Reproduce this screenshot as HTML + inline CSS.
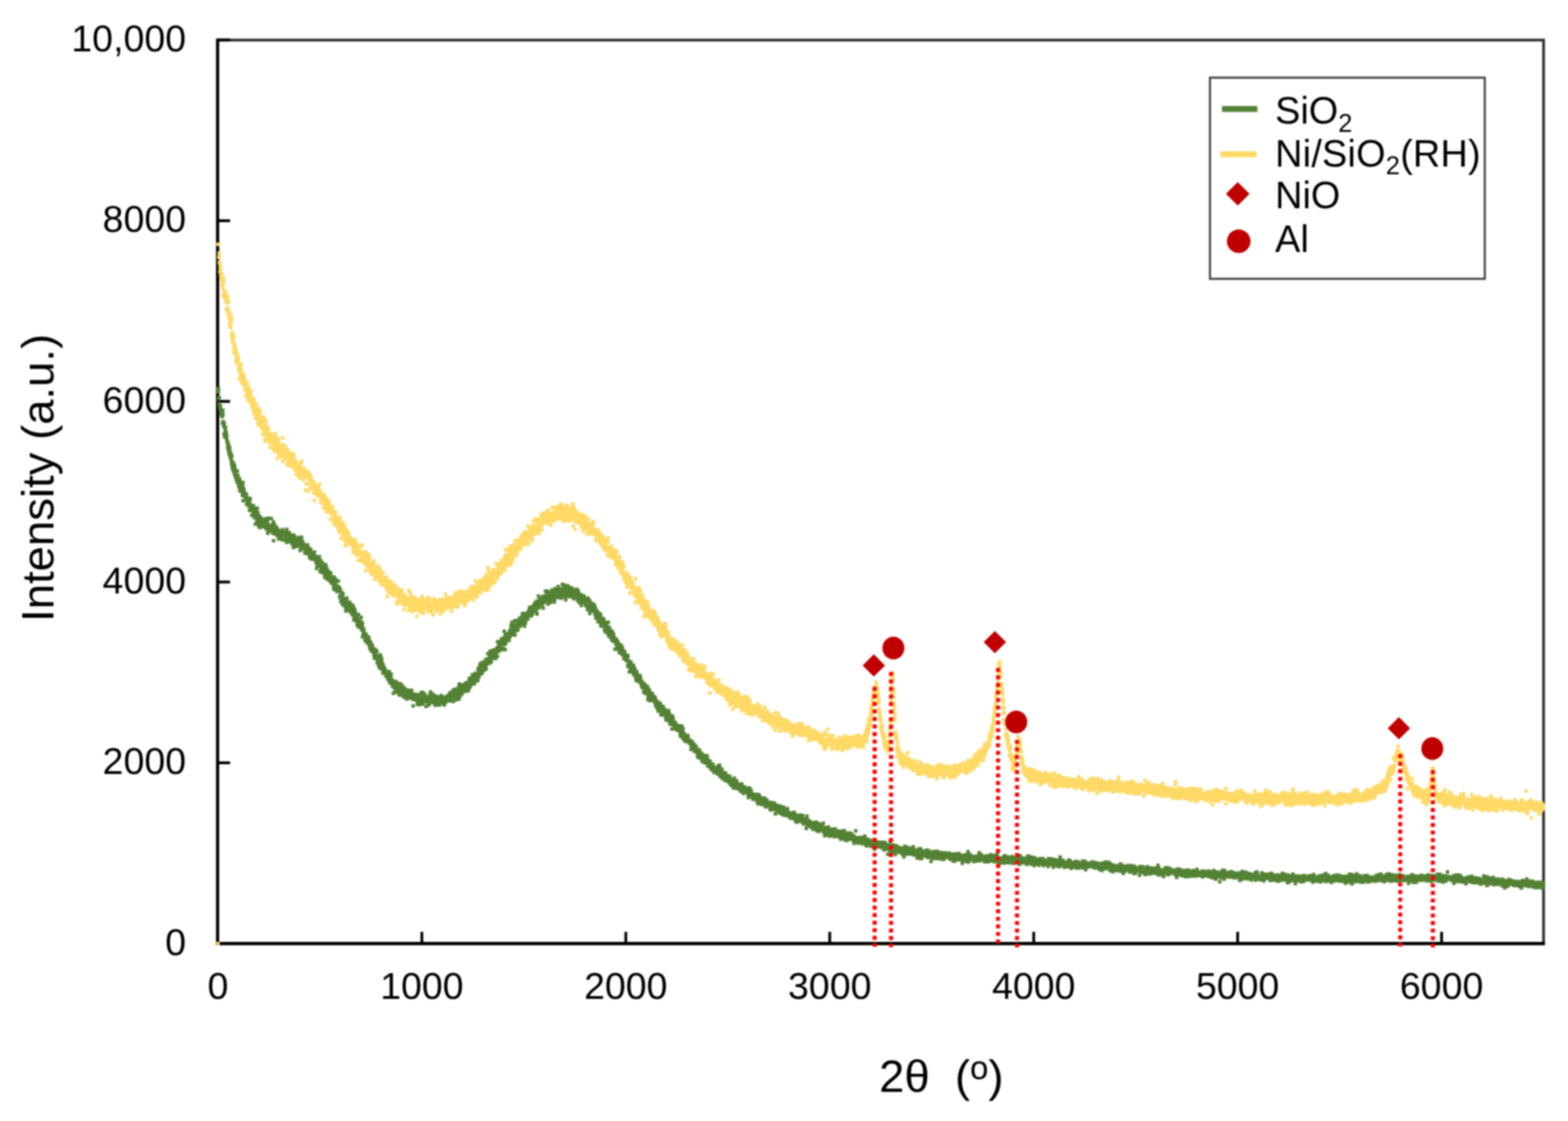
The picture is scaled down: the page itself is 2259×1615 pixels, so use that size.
<!DOCTYPE html>
<html lang="en"><head><meta charset="utf-8"><title>XRD patterns</title>
<style>
html,body{margin:0;padding:0;background:#fff;}
body{width:2259px;height:1615px;overflow:hidden;}
svg{display:block;filter:blur(0.8px);}
text{font-family:"Liberation Sans",Arial,Helvetica,sans-serif;fill:#000;}
.tk{font-size:54px;}
.lg{font-size:54.6px;}
.ax{font-size:65.5px;}
</style></head>
<body>
<svg width="2259" height="1615" viewBox="0 0 2259 1615">
<rect width="2259" height="1615" fill="#fff"/>
<g fill="none" stroke-linecap="butt">
<path d="M314.0 57.7H2223.8V1359.4" stroke="#303030" stroke-width="4"/>
<path d="M313.5 55.5V1361.7" stroke="#000" stroke-width="4.6"/>
<path d="M311.2 1359.4H2225.8" stroke="#000" stroke-width="4.6"/>
<path d="M314.0 1099.0h17.5M314.0 838.6h17.5M314.0 578.3h17.5M314.0 317.9h17.5M314.0 57.5h17.5M607.8 1359.4v-17M901.6 1359.4v-17M1195.4 1359.4v-17M1489.3 1359.4v-17M1783.1 1359.4v-17M2076.9 1359.4v-17" stroke="#000" stroke-width="4"/>
</g>
<g class="tk" text-anchor="end">
<text x="268" y="1375.8">0</text>
<text x="268" y="1115.4">2000</text>
<text x="268" y="855.0">4000</text>
<text x="268" y="594.7">6000</text>
<text x="268" y="334.3">8000</text>
<text x="268" y="73.9">10,000</text>
</g>
<g class="tk" text-anchor="middle">
<text x="314.0" y="1438.7">0</text>
<text x="607.8" y="1438.7">1000</text>
<text x="901.6" y="1438.7">2000</text>
<text x="1195.4" y="1438.7">3000</text>
<text x="1489.3" y="1438.7">4000</text>
<text x="1783.1" y="1438.7">5000</text>
<text x="2076.9" y="1438.7">6000</text>
</g>
<text class="ax" x="1266.5" y="1573" xml:space="preserve">2θ  (<tspan font-size="47.5" dy="-18.5">o</tspan><tspan dy="18.5">)</tspan></text>
<text class="ax" text-anchor="middle" transform="translate(76.8 688.5) rotate(-90)">Intensity (a.u.)</text>
<g fill="none" stroke-linecap="square" stroke-width="5">
<path stroke="#548235" d="M314.0 560.0h0M314.3 564.6h0M314.6 564.5h0M314.9 560.0h0M315.2 573.7h0M315.5 574.5h0M315.8 572.5h0M316.1 581.6h0M316.4 583.2h0M316.6 585.1h0M316.9 585.6h0M317.2 590.2h0M317.5 585.0h0M317.8 589.7h0M318.1 589.5h0M318.4 596.7h0M318.7 595.1h0M319.0 594.7h0M319.3 593.4h0M319.6 597.5h0M319.9 600.2h0M320.2 600.0h0M320.5 609.6h0M320.8 609.5h0M321.1 591.2h0M321.3 597.0h0M321.6 607.5h0M321.9 607.7h0M322.2 612.5h0M322.5 614.0h0M322.8 625.5h0M323.1 609.9h0M323.4 615.3h0M323.7 629.5h0M324.0 623.6h0M324.3 625.1h0M324.6 620.4h0M324.9 615.9h0M325.2 626.9h0M325.5 628.0h0M325.8 622.4h0M326.0 626.7h0M326.3 631.3h0M326.6 628.1h0M326.9 634.0h0M327.2 636.3h0M327.5 637.4h0M327.8 635.9h0M328.1 643.0h0M328.4 645.9h0M328.7 644.2h0M329.0 639.6h0M329.3 648.9h0M329.6 643.8h0M329.9 652.3h0M330.2 643.5h0M330.5 655.1h0M330.8 651.5h0M331.0 646.5h0M331.3 652.6h0M331.6 655.8h0M331.9 658.2h0M332.2 653.0h0M332.5 653.6h0M332.8 661.6h0M333.1 659.4h0M333.4 664.2h0M333.7 668.1h0M334.0 657.0h0M334.3 669.0h0M334.6 674.0h0M334.9 667.4h0M335.2 665.9h0M335.5 675.0h0M335.7 673.5h0M336.0 677.8h0M336.3 672.5h0M336.6 667.7h0M336.9 675.7h0M337.2 674.9h0M337.5 682.1h0M337.8 680.0h0M338.1 671.6h0M338.4 674.7h0M338.7 686.1h0M339.0 685.9h0M339.3 680.0h0M339.6 684.0h0M339.9 687.0h0M340.2 687.9h0M340.4 690.8h0M340.7 688.4h0M341.0 687.3h0M341.3 687.2h0M341.6 694.6h0M341.9 678.6h0M342.2 689.9h0M342.5 691.5h0M342.8 684.8h0M343.1 694.4h0M343.4 690.1h0M343.7 698.4h0M344.0 694.0h0M344.3 698.7h0M344.6 702.1h0M344.9 698.5h0M345.1 692.8h0M345.4 690.3h0M345.7 707.3h0M346.0 698.6h0M346.3 696.3h0M346.6 701.1h0M346.9 700.1h0M347.2 706.0h0M347.5 702.5h0M347.8 703.0h0M348.1 700.0h0M348.4 706.6h0M348.7 699.7h0M349.0 708.8h0M349.3 713.8h0M349.6 699.1h0M349.9 695.1h0M350.1 711.1h0M350.4 721.4h0M350.7 704.3h0M351.0 703.7h0M351.3 713.5h0M351.6 707.0h0M351.9 709.3h0M352.2 710.7h0M352.5 715.8h0M352.8 711.7h0M353.1 715.7h0M353.4 714.1h0M353.7 711.4h0M354.0 714.6h0M354.3 712.1h0M354.6 717.4h0M354.8 712.4h0M355.1 713.2h0M355.4 726.5h0M355.7 719.6h0M356.0 720.1h0M356.3 723.5h0M356.6 719.5h0M356.9 721.0h0M357.2 724.8h0M357.5 724.7h0M357.8 718.1h0M358.1 728.6h0M358.4 722.1h0M358.7 720.3h0M359.0 721.7h0M359.3 724.7h0M359.5 735.2h0M359.8 721.9h0M360.1 729.1h0M360.4 718.2h0M360.7 729.3h0M361.0 734.3h0M361.3 729.2h0M361.6 727.7h0M361.9 732.5h0M362.2 735.3h0M362.5 735.6h0M362.8 742.5h0M363.1 734.3h0M363.4 730.9h0M363.7 733.7h0M364.0 734.4h0M364.3 735.8h0M364.5 735.6h0M364.8 737.1h0M365.1 728.5h0M365.4 741.3h0M365.7 734.9h0M366.0 732.4h0M366.3 741.8h0M366.6 745.6h0M366.9 742.1h0M367.2 740.9h0M367.5 736.0h0M367.8 755.1h0M368.1 745.8h0M368.4 736.4h0M368.7 738.6h0M369.0 743.3h0M369.2 735.7h0M369.5 744.6h0M369.8 742.0h0M370.1 750.7h0M370.4 749.8h0M370.7 732.3h0M371.0 746.2h0M371.3 738.5h0M371.6 752.2h0M371.9 748.0h0M372.2 750.3h0M372.5 742.8h0M372.8 757.3h0M373.1 758.6h0M373.4 744.0h0M373.7 751.3h0M373.9 746.6h0M374.2 750.1h0M374.5 744.4h0M374.8 760.0h0M375.1 746.5h0M375.4 750.1h0M375.7 754.3h0M376.0 749.0h0M376.3 751.3h0M376.6 750.0h0M376.9 752.4h0M377.2 747.6h0M377.5 751.5h0M377.8 752.8h0M378.1 752.5h0M378.4 754.6h0M378.6 753.1h0M378.9 758.5h0M379.2 753.5h0M379.5 754.6h0M379.8 752.3h0M380.1 753.2h0M380.4 749.8h0M380.7 758.7h0M381.0 750.9h0M381.3 753.0h0M381.6 758.6h0M381.9 759.0h0M382.2 755.3h0M382.5 747.6h0M382.8 759.7h0M383.1 759.1h0M383.4 751.2h0M383.6 761.9h0M383.9 755.0h0M384.2 753.1h0M384.5 759.2h0M384.8 758.1h0M385.1 760.1h0M385.4 751.6h0M385.7 768.3h0M386.0 756.8h0M386.3 746.4h0M386.6 763.0h0M386.9 758.5h0M387.2 761.9h0M387.5 758.9h0M387.8 760.4h0M388.1 762.0h0M388.3 757.4h0M388.6 764.5h0M388.9 759.1h0M389.2 757.3h0M389.5 762.0h0M389.8 764.0h0M390.1 760.9h0M390.4 758.0h0M390.7 765.3h0M391.0 747.1h0M391.3 757.6h0M391.6 762.9h0M391.9 756.3h0M392.2 763.2h0M392.5 762.9h0M392.8 767.7h0M393.0 759.1h0M393.3 760.6h0M393.6 765.4h0M393.9 752.1h0M394.2 779.0h0M394.5 760.9h0M394.8 760.9h0M395.1 768.7h0M395.4 764.5h0M395.7 756.3h0M396.0 768.0h0M396.3 769.3h0M396.6 763.1h0M396.9 764.1h0M397.2 767.9h0M397.5 761.4h0M397.8 768.0h0M398.0 767.0h0M398.3 763.0h0M398.6 759.7h0M398.9 765.4h0M399.2 762.5h0M399.5 771.7h0M399.8 767.7h0M400.1 770.9h0M400.4 768.0h0M400.7 768.8h0M401.0 763.9h0M401.3 771.0h0M401.6 776.5h0M401.9 766.6h0M402.2 765.4h0M402.5 767.7h0M402.7 766.3h0M403.0 765.3h0M403.3 769.5h0M403.6 767.6h0M403.9 776.1h0M404.2 769.3h0M404.5 771.0h0M404.8 774.2h0M405.1 768.3h0M405.4 776.8h0M405.7 767.0h0M406.0 766.3h0M406.3 768.6h0M406.6 769.9h0M406.9 763.9h0M407.2 770.6h0M407.4 762.9h0M407.7 777.7h0M408.0 770.8h0M408.3 768.3h0M408.6 767.1h0M408.9 769.8h0M409.2 770.7h0M409.5 766.9h0M409.8 767.6h0M410.1 771.3h0M410.4 769.8h0M410.7 777.0h0M411.0 778.1h0M411.3 772.8h0M411.6 775.2h0M411.9 766.6h0M412.1 776.2h0M412.4 773.2h0M412.7 775.8h0M413.0 781.3h0M413.3 762.8h0M413.6 775.1h0M413.9 768.8h0M414.2 777.0h0M414.5 768.0h0M414.8 772.1h0M415.1 775.6h0M415.4 777.7h0M415.7 775.2h0M416.0 771.2h0M416.3 772.5h0M416.6 779.6h0M416.9 775.4h0M417.1 767.6h0M417.4 779.8h0M417.7 777.9h0M418.0 780.2h0M418.3 774.6h0M418.6 780.3h0M418.9 771.4h0M419.2 779.4h0M419.5 774.5h0M419.8 780.2h0M420.1 781.9h0M420.4 773.8h0M420.7 777.2h0M421.0 777.8h0M421.3 783.4h0M421.6 781.3h0M421.8 772.3h0M422.1 780.4h0M422.4 782.0h0M422.7 788.7h0M423.0 770.7h0M423.3 776.3h0M423.6 785.4h0M423.9 772.7h0M424.2 773.6h0M424.5 782.0h0M424.8 784.5h0M425.1 776.6h0M425.4 782.5h0M425.7 780.7h0M426.0 787.5h0M426.3 780.4h0M426.5 785.3h0M426.8 776.4h0M427.1 780.0h0M427.4 780.5h0M427.7 786.6h0M428.0 784.1h0M428.3 777.9h0M428.6 784.9h0M428.9 785.4h0M429.2 781.4h0M429.5 780.8h0M429.8 781.3h0M430.1 774.3h0M430.4 783.4h0M430.7 783.8h0M431.0 778.7h0M431.3 786.5h0M431.5 776.6h0M431.8 780.7h0M432.1 781.2h0M432.4 793.1h0M432.7 776.2h0M433.0 786.6h0M433.3 788.6h0M433.6 786.1h0M433.9 790.1h0M434.2 779.9h0M434.5 774.0h0M434.8 788.6h0M435.1 779.5h0M435.4 783.8h0M435.7 779.9h0M436.0 790.7h0M436.2 790.0h0M436.5 782.6h0M436.8 790.5h0M437.1 787.0h0M437.4 785.9h0M437.7 787.3h0M438.0 786.0h0M438.3 790.1h0M438.6 788.8h0M438.9 785.9h0M439.2 796.3h0M439.5 785.0h0M439.8 789.5h0M440.1 790.4h0M440.4 795.6h0M440.7 786.4h0M440.9 797.3h0M441.2 790.0h0M441.5 788.5h0M441.8 786.5h0M442.1 792.7h0M442.4 790.3h0M442.7 785.1h0M443.0 785.2h0M443.3 788.2h0M443.6 787.8h0M443.9 796.4h0M444.2 798.0h0M444.5 795.9h0M444.8 793.8h0M445.1 790.3h0M445.4 792.9h0M445.6 797.1h0M445.9 803.3h0M446.2 797.9h0M446.5 792.5h0M446.8 794.4h0M447.1 792.3h0M447.4 791.2h0M447.7 794.4h0M448.0 796.5h0M448.3 804.6h0M448.6 796.6h0M448.9 803.1h0M449.2 805.4h0M449.5 797.8h0M449.8 805.4h0M450.1 801.6h0M450.4 796.7h0M450.6 800.3h0M450.9 799.5h0M451.2 798.7h0M451.5 799.3h0M451.8 801.3h0M452.1 803.1h0M452.4 797.3h0M452.7 801.9h0M453.0 795.2h0M453.3 804.0h0M453.6 806.1h0M453.9 804.4h0M454.2 805.3h0M454.5 807.2h0M454.8 801.7h0M455.1 804.1h0M455.3 808.1h0M455.6 810.8h0M455.9 808.4h0M456.2 818.9h0M456.5 806.9h0M456.8 812.4h0M457.1 814.1h0M457.4 807.9h0M457.7 805.1h0M458.0 803.8h0M458.3 810.5h0M458.6 815.3h0M458.9 811.8h0M459.2 811.7h0M459.5 809.5h0M459.8 814.3h0M460.0 802.1h0M460.3 813.5h0M460.6 812.9h0M460.9 806.7h0M461.2 823.6h0M461.5 807.4h0M461.8 809.2h0M462.1 809.0h0M462.4 820.1h0M462.7 811.1h0M463.0 818.7h0M463.3 818.7h0M463.6 817.5h0M463.9 810.6h0M464.2 814.2h0M464.5 825.1h0M464.8 811.7h0M465.0 814.2h0M465.3 817.6h0M465.6 822.5h0M465.9 820.3h0M466.2 822.9h0M466.5 814.8h0M466.8 824.5h0M467.1 823.1h0M467.4 813.4h0M467.7 828.3h0M468.0 832.1h0M468.3 818.3h0M468.6 822.5h0M468.9 829.0h0M469.2 816.1h0M469.5 814.1h0M469.7 817.6h0M470.0 821.4h0M470.3 821.7h0M470.6 827.5h0M470.9 826.3h0M471.2 819.7h0M471.5 828.4h0M471.8 834.8h0M472.1 832.1h0M472.4 831.5h0M472.7 827.4h0M473.0 832.2h0M473.3 823.6h0M473.6 831.9h0M473.9 828.4h0M474.2 834.4h0M474.4 831.8h0M474.7 825.0h0M475.0 831.0h0M475.3 836.4h0M475.6 826.0h0M475.9 829.0h0M476.2 825.7h0M476.5 825.6h0M476.8 837.3h0M477.1 839.3h0M477.4 837.4h0M477.7 835.3h0M478.0 834.4h0M478.3 836.1h0M478.6 832.2h0M478.9 840.1h0M479.1 841.2h0M479.4 841.2h0M479.7 835.0h0M480.0 838.2h0M480.3 837.6h0M480.6 847.0h0M480.9 840.2h0M481.2 831.3h0M481.5 842.2h0M481.8 849.5h0M482.1 844.5h0M482.4 845.9h0M482.7 842.6h0M483.0 834.0h0M483.3 835.3h0M483.6 838.4h0M483.9 844.0h0M484.1 846.5h0M484.4 848.8h0M484.7 844.6h0M485.0 851.0h0M485.3 846.0h0M485.6 844.6h0M485.9 852.2h0M486.2 844.7h0M486.5 837.0h0M486.8 845.1h0M487.1 850.9h0M487.4 837.0h0M487.7 849.9h0M488.0 850.5h0M488.3 846.1h0M488.6 846.4h0M488.8 851.5h0M489.1 851.7h0M489.4 860.3h0M489.7 858.2h0M490.0 848.5h0M490.3 852.3h0M490.6 859.8h0M490.9 865.7h0M491.2 859.4h0M491.5 859.5h0M491.8 867.0h0M492.1 859.0h0M492.4 858.2h0M492.7 853.7h0M493.0 858.2h0M493.3 870.7h0M493.5 855.0h0M493.8 861.9h0M494.1 855.9h0M494.4 863.2h0M494.7 867.1h0M495.0 862.4h0M495.3 867.2h0M495.6 867.6h0M495.9 866.8h0M496.2 872.9h0M496.5 869.1h0M496.8 864.7h0M497.1 863.4h0M497.4 863.1h0M497.7 869.4h0M498.0 866.2h0M498.3 880.2h0M498.5 876.7h0M498.8 867.9h0M499.1 867.8h0M499.4 877.2h0M499.7 861.7h0M500.0 868.4h0M500.3 875.1h0M500.6 867.2h0M500.9 869.5h0M501.2 870.5h0M501.5 875.4h0M501.8 873.5h0M502.1 875.0h0M502.4 876.3h0M502.7 874.2h0M503.0 879.4h0M503.2 871.7h0M503.5 868.9h0M503.8 867.8h0M504.1 869.0h0M504.4 874.1h0M504.7 881.6h0M505.0 878.2h0M505.3 875.2h0M505.6 873.5h0M505.9 876.4h0M506.2 877.4h0M506.5 877.1h0M506.8 873.7h0M507.1 878.4h0M507.4 885.5h0M507.7 871.8h0M507.9 880.9h0M508.2 873.0h0M508.5 883.7h0M508.8 880.1h0M509.1 874.7h0M509.4 884.8h0M509.7 892.9h0M510.0 885.8h0M510.3 891.0h0M510.6 886.1h0M510.9 877.4h0M511.2 889.6h0M511.5 886.1h0M511.8 882.1h0M512.1 892.4h0M512.4 890.8h0M512.6 887.8h0M512.9 894.4h0M513.2 887.3h0M513.5 894.5h0M513.8 888.1h0M514.1 895.1h0M514.4 888.5h0M514.7 900.4h0M515.0 895.6h0M515.3 901.3h0M515.6 892.0h0M515.9 894.1h0M516.2 900.4h0M516.5 885.3h0M516.8 893.2h0M517.1 902.9h0M517.4 901.0h0M517.6 903.8h0M517.9 898.7h0M518.2 903.1h0M518.5 898.0h0M518.8 895.8h0M519.1 895.0h0M519.4 900.5h0M519.7 901.1h0M520.0 901.3h0M520.3 889.2h0M520.6 896.5h0M520.9 903.4h0M521.2 907.5h0M521.5 904.3h0M521.8 903.6h0M522.1 898.0h0M522.3 917.2h0M522.6 904.3h0M522.9 916.8h0M523.2 916.8h0M523.5 911.9h0M523.8 908.8h0M524.1 912.4h0M524.4 907.4h0M524.7 914.0h0M525.0 913.5h0M525.3 916.3h0M525.6 918.7h0M525.9 922.6h0M526.2 914.1h0M526.5 920.8h0M526.8 913.5h0M527.0 913.7h0M527.3 915.4h0M527.6 914.4h0M527.9 923.4h0M528.2 923.7h0M528.5 925.8h0M528.8 920.8h0M529.1 922.7h0M529.4 919.6h0M529.7 917.8h0M530.0 925.2h0M530.3 925.0h0M530.6 919.7h0M530.9 927.5h0M531.2 918.2h0M531.5 925.4h0M531.8 924.1h0M532.0 923.3h0M532.3 923.3h0M532.6 932.5h0M532.9 931.4h0M533.2 934.6h0M533.5 930.7h0M533.8 925.3h0M534.1 929.7h0M534.4 926.9h0M534.7 934.4h0M535.0 938.1h0M535.3 935.0h0M535.6 931.6h0M535.9 933.1h0M536.2 936.1h0M536.5 929.7h0M536.7 937.0h0M537.0 937.8h0M537.3 935.2h0M537.6 936.3h0M537.9 939.3h0M538.2 935.7h0M538.5 936.3h0M538.8 943.5h0M539.1 941.7h0M539.4 948.4h0M539.7 937.7h0M540.0 935.0h0M540.3 946.9h0M540.6 947.5h0M540.9 940.9h0M541.2 938.4h0M541.4 944.9h0M541.7 938.3h0M542.0 944.7h0M542.3 937.5h0M542.6 946.1h0M542.9 938.8h0M543.2 947.1h0M543.5 954.9h0M543.8 948.0h0M544.1 952.8h0M544.4 947.4h0M544.7 946.9h0M545.0 944.9h0M545.3 955.9h0M545.6 951.8h0M545.9 959.3h0M546.1 948.2h0M546.4 951.7h0M546.7 954.4h0M547.0 960.4h0M547.3 962.5h0M547.6 952.8h0M547.9 951.3h0M548.2 943.4h0M548.5 962.5h0M548.8 957.1h0M549.1 955.3h0M549.4 958.3h0M549.7 948.4h0M550.0 952.3h0M550.3 963.8h0M550.6 962.1h0M550.9 961.5h0M551.1 957.3h0M551.4 964.3h0M551.7 969.7h0M552.0 957.8h0M552.3 963.4h0M552.6 962.0h0M552.9 965.8h0M553.2 964.8h0M553.5 964.7h0M553.8 962.1h0M554.1 966.1h0M554.4 964.2h0M554.7 966.6h0M555.0 967.4h0M555.3 970.8h0M555.6 966.2h0M555.8 967.7h0M556.1 973.8h0M556.4 969.0h0M556.7 969.3h0M557.0 974.3h0M557.3 972.4h0M557.6 972.1h0M557.9 973.0h0M558.2 967.5h0M558.5 974.9h0M558.8 978.8h0M559.1 976.2h0M559.4 968.0h0M559.7 975.9h0M560.0 971.5h0M560.3 974.6h0M560.5 976.5h0M560.8 967.6h0M561.1 982.2h0M561.4 976.9h0M561.7 980.8h0M562.0 980.5h0M562.3 983.8h0M562.6 983.5h0M562.9 973.2h0M563.2 979.6h0M563.5 971.2h0M563.8 978.4h0M564.1 983.4h0M564.4 984.6h0M564.7 986.4h0M565.0 980.1h0M565.3 983.2h0M565.5 982.6h0M565.8 987.7h0M566.1 989.3h0M566.4 981.8h0M566.7 998.7h0M567.0 983.8h0M567.3 982.6h0M567.6 986.8h0M567.9 987.8h0M568.2 987.2h0M568.5 982.7h0M568.8 991.5h0M569.1 986.1h0M569.4 997.2h0M569.7 992.1h0M570.0 981.7h0M570.2 983.2h0M570.5 983.4h0M570.8 988.7h0M571.1 988.2h0M571.4 989.4h0M571.7 985.3h0M572.0 990.6h0M572.3 994.8h0M572.6 984.1h0M572.9 988.9h0M573.2 991.0h0M573.5 989.7h0M573.8 989.7h0M574.1 997.9h0M574.4 996.2h0M574.7 994.7h0M574.9 988.6h0M575.2 1000.8h0M575.5 993.6h0M575.8 990.1h0M576.1 991.3h0M576.4 990.9h0M576.7 1001.6h0M577.0 994.2h0M577.3 994.1h0M577.6 985.3h0M577.9 997.1h0M578.2 990.2h0M578.5 990.1h0M578.8 997.3h0M579.1 991.6h0M579.4 998.6h0M579.6 1000.0h0M579.9 988.7h0M580.2 995.4h0M580.5 990.0h0M580.8 996.2h0M581.1 1000.2h0M581.4 991.4h0M581.7 1004.2h0M582.0 996.0h0M582.3 992.8h0M582.6 997.1h0M582.9 1001.0h0M583.2 992.6h0M583.5 998.2h0M583.8 993.0h0M584.1 1003.3h0M584.4 999.4h0M584.6 997.3h0M584.9 1003.2h0M585.2 994.2h0M585.5 997.9h0M585.8 1006.9h0M586.1 999.3h0M586.4 1005.3h0M586.7 1000.8h0M587.0 997.5h0M587.3 999.4h0M587.6 1000.8h0M587.9 997.7h0M588.2 997.5h0M588.5 997.8h0M588.8 995.2h0M589.1 1001.6h0M589.3 1002.8h0M589.6 1004.4h0M589.9 994.4h0M590.2 1004.8h0M590.5 1001.7h0M590.8 996.3h0M591.1 1002.4h0M591.4 1005.4h0M591.7 1004.3h0M592.0 1005.3h0M592.3 1006.2h0M592.6 1006.2h0M592.9 1002.6h0M593.2 994.7h0M593.5 1000.0h0M593.8 1005.6h0M594.0 1001.4h0M594.3 1006.1h0M594.6 1006.6h0M594.9 1003.8h0M595.2 1016.9h0M595.5 1000.0h0M595.8 1007.6h0M596.1 1002.2h0M596.4 1001.1h0M596.7 1006.6h0M597.0 1001.9h0M597.3 1007.8h0M597.6 1000.0h0M597.9 1004.8h0M598.2 1001.5h0M598.5 1004.0h0M598.8 1003.5h0M599.0 1000.6h0M599.3 1007.7h0M599.6 1000.4h0M599.9 1001.5h0M600.2 1009.0h0M600.5 1009.4h0M600.8 1008.3h0M601.1 1007.1h0M601.4 1014.7h0M601.7 1001.2h0M602.0 1003.1h0M602.3 1002.2h0M602.6 1009.7h0M602.9 1007.4h0M603.2 1010.7h0M603.5 1010.2h0M603.7 1005.6h0M604.0 1003.3h0M604.3 1002.7h0M604.6 1015.3h0M604.9 1010.5h0M605.2 1009.1h0M605.5 1005.5h0M605.8 1006.1h0M606.1 1005.6h0M606.4 1005.8h0M606.7 997.7h0M607.0 1006.9h0M607.3 1005.7h0M607.6 1008.4h0M607.9 1008.1h0M608.2 1010.7h0M608.4 1007.3h0M608.7 1010.5h0M609.0 997.4h0M609.3 1003.2h0M609.6 1014.3h0M609.9 1002.8h0M610.2 1006.5h0M610.5 1010.4h0M610.8 1004.2h0M611.1 1010.5h0M611.4 1002.1h0M611.7 1000.2h0M612.0 1002.5h0M612.3 1001.3h0M612.6 1007.7h0M612.9 1006.6h0M613.2 1009.1h0M613.4 1003.8h0M613.7 1017.8h0M614.0 1007.2h0M614.3 1007.8h0M614.6 1009.7h0M614.9 1007.0h0M615.2 1005.5h0M615.5 1008.4h0M615.8 1011.6h0M616.1 1010.7h0M616.4 1011.8h0M616.7 1005.9h0M617.0 1005.1h0M617.3 1016.0h0M617.6 1007.2h0M617.9 1010.1h0M618.1 1011.1h0M618.4 1013.8h0M618.7 1003.0h0M619.0 1006.4h0M619.3 1005.2h0M619.6 1007.1h0M619.9 998.9h0M620.2 1008.0h0M620.5 997.1h0M620.8 1009.6h0M621.1 1010.5h0M621.4 1010.8h0M621.7 1003.7h0M622.0 1012.2h0M622.3 1005.1h0M622.6 1003.7h0M622.8 1004.7h0M623.1 1005.2h0M623.4 1009.2h0M623.7 1011.8h0M624.0 1000.3h0M624.3 1006.5h0M624.6 1012.1h0M624.9 1009.4h0M625.2 1010.6h0M625.5 1002.8h0M625.8 1012.4h0M626.1 1002.5h0M626.4 1009.4h0M626.7 1014.0h0M627.0 1016.1h0M627.3 1010.7h0M627.5 1012.2h0M627.8 1006.4h0M628.1 1006.9h0M628.4 1013.3h0M628.7 1008.8h0M629.0 1008.3h0M629.3 1003.3h0M629.6 1009.4h0M629.9 1011.3h0M630.2 1005.7h0M630.5 1006.8h0M630.8 1015.0h0M631.1 1009.5h0M631.4 1007.7h0M631.7 1004.4h0M632.0 1006.4h0M632.3 1007.0h0M632.5 1014.2h0M632.8 1006.4h0M633.1 1015.8h0M633.4 1005.2h0M633.7 1007.4h0M634.0 1012.1h0M634.3 1007.8h0M634.6 1005.5h0M634.9 1008.2h0M635.2 1010.4h0M635.5 1001.9h0M635.8 1007.6h0M636.1 1008.1h0M636.4 1006.9h0M636.7 1011.3h0M637.0 1006.2h0M637.2 1006.9h0M637.5 1008.4h0M637.8 1011.1h0M638.1 1007.3h0M638.4 1014.0h0M638.7 1004.4h0M639.0 1012.9h0M639.3 1004.5h0M639.6 1007.1h0M639.9 1009.1h0M640.2 1015.6h0M640.5 1011.0h0M640.8 1005.8h0M641.1 1012.4h0M641.4 1006.4h0M641.7 1004.0h0M641.9 1008.7h0M642.2 1007.2h0M642.5 1010.5h0M642.8 1004.5h0M643.1 1008.0h0M643.4 1008.9h0M643.7 1007.4h0M644.0 1006.1h0M644.3 1003.3h0M644.6 1009.5h0M644.9 1006.4h0M645.2 1007.6h0M645.5 1004.2h0M645.8 1005.5h0M646.1 1001.2h0M646.4 1005.5h0M646.7 1008.0h0M646.9 1005.3h0M647.2 1008.1h0M647.5 1005.9h0M647.8 1009.8h0M648.1 1003.6h0M648.4 997.8h0M648.7 1005.8h0M649.0 1003.3h0M649.3 999.9h0M649.6 1006.2h0M649.9 1004.5h0M650.2 1005.1h0M650.5 1001.9h0M650.8 1003.8h0M651.1 1003.9h0M651.4 1009.7h0M651.6 999.9h0M651.9 1002.4h0M652.2 1003.8h0M652.5 995.4h0M652.8 995.7h0M653.1 1010.4h0M653.4 994.8h0M653.7 1003.9h0M654.0 998.1h0M654.3 998.3h0M654.6 993.3h0M654.9 997.5h0M655.2 1004.0h0M655.5 995.2h0M655.8 1002.9h0M656.1 1001.6h0M656.3 1008.2h0M656.6 998.2h0M656.9 1004.9h0M657.2 1003.3h0M657.5 998.4h0M657.8 992.8h0M658.1 1005.2h0M658.4 993.7h0M658.7 997.0h0M659.0 1002.2h0M659.3 1002.9h0M659.6 994.9h0M659.9 998.0h0M660.2 996.9h0M660.5 1002.4h0M660.8 1007.4h0M661.0 990.0h0M661.3 1000.7h0M661.6 985.5h0M661.9 996.7h0M662.2 992.0h0M662.5 1004.1h0M662.8 996.7h0M663.1 992.9h0M663.4 993.6h0M663.7 993.0h0M664.0 995.8h0M664.3 994.2h0M664.6 997.2h0M664.9 1000.5h0M665.2 996.9h0M665.5 989.0h0M665.8 987.2h0M666.0 990.4h0M666.3 997.4h0M666.6 991.6h0M666.9 990.0h0M667.2 993.0h0M667.5 986.5h0M667.8 987.4h0M668.1 993.7h0M668.4 990.2h0M668.7 989.3h0M669.0 992.1h0M669.3 988.3h0M669.6 987.6h0M669.9 988.3h0M670.2 992.2h0M670.5 989.8h0M670.7 984.5h0M671.0 987.8h0M671.3 991.3h0M671.6 996.0h0M671.9 983.6h0M672.2 989.3h0M672.5 986.6h0M672.8 990.7h0M673.1 988.9h0M673.4 992.7h0M673.7 988.6h0M674.0 984.1h0M674.3 983.8h0M674.6 987.3h0M674.9 987.0h0M675.2 994.8h0M675.4 991.6h0M675.7 979.9h0M676.0 985.7h0M676.3 978.7h0M676.6 977.1h0M676.9 986.5h0M677.2 985.4h0M677.5 978.7h0M677.8 989.2h0M678.1 978.4h0M678.4 977.3h0M678.7 984.4h0M679.0 982.3h0M679.3 980.5h0M679.6 980.5h0M679.9 981.4h0M680.2 979.6h0M680.4 979.2h0M680.7 971.9h0M681.0 973.8h0M681.3 981.4h0M681.6 975.7h0M681.9 980.4h0M682.2 982.9h0M682.5 976.1h0M682.8 978.4h0M683.1 985.3h0M683.4 979.3h0M683.7 983.6h0M684.0 982.0h0M684.3 978.5h0M684.6 974.7h0M684.9 971.4h0M685.1 969.9h0M685.4 976.0h0M685.7 975.6h0M686.0 972.6h0M686.3 976.4h0M686.6 970.1h0M686.9 976.7h0M687.2 972.0h0M687.5 971.3h0M687.8 971.1h0M688.1 970.4h0M688.4 980.5h0M688.7 963.4h0M689.0 970.4h0M689.3 974.3h0M689.6 971.8h0M689.8 967.3h0M690.1 975.2h0M690.4 963.4h0M690.7 962.0h0M691.0 969.3h0M691.3 960.7h0M691.6 956.5h0M691.9 969.5h0M692.2 968.6h0M692.5 968.1h0M692.8 962.7h0M693.1 965.1h0M693.4 960.0h0M693.7 970.7h0M694.0 966.5h0M694.3 965.9h0M694.5 954.5h0M694.8 965.4h0M695.1 967.9h0M695.4 966.4h0M695.7 964.2h0M696.0 960.6h0M696.3 958.8h0M696.6 962.4h0M696.9 961.1h0M697.2 960.1h0M697.5 957.5h0M697.8 965.3h0M698.1 953.3h0M698.4 957.6h0M698.7 955.0h0M699.0 961.2h0M699.3 962.5h0M699.5 961.4h0M699.8 959.1h0M700.1 949.8h0M700.4 963.8h0M700.7 957.0h0M701.0 953.7h0M701.3 954.3h0M701.6 952.4h0M701.9 955.2h0M702.2 954.4h0M702.5 951.3h0M702.8 941.8h0M703.1 951.9h0M703.4 953.7h0M703.7 953.5h0M704.0 950.4h0M704.2 952.5h0M704.5 954.6h0M704.8 948.0h0M705.1 955.7h0M705.4 941.1h0M705.7 943.6h0M706.0 944.8h0M706.3 938.0h0M706.6 943.7h0M706.9 952.7h0M707.2 952.3h0M707.5 947.2h0M707.8 953.6h0M708.1 947.1h0M708.4 943.6h0M708.7 946.4h0M708.9 944.4h0M709.2 947.7h0M709.5 938.0h0M709.8 948.1h0M710.1 941.7h0M710.4 946.8h0M710.7 936.4h0M711.0 940.8h0M711.3 942.5h0M711.6 945.6h0M711.9 936.4h0M712.2 948.1h0M712.5 942.8h0M712.8 938.2h0M713.1 945.2h0M713.4 940.2h0M713.7 944.2h0M713.9 948.8h0M714.2 941.9h0M714.5 936.1h0M714.8 936.2h0M715.1 940.1h0M715.4 938.5h0M715.7 933.4h0M716.0 933.7h0M716.3 939.0h0M716.6 945.7h0M716.9 924.4h0M717.2 938.2h0M717.5 933.9h0M717.8 937.7h0M718.1 937.7h0M718.4 934.0h0M718.6 929.1h0M718.9 927.1h0M719.2 924.8h0M719.5 937.5h0M719.8 931.1h0M720.1 929.3h0M720.4 930.1h0M720.7 925.3h0M721.0 931.9h0M721.3 935.8h0M721.6 934.7h0M721.9 922.9h0M722.2 934.9h0M722.5 925.6h0M722.8 920.3h0M723.1 922.9h0M723.3 923.6h0M723.6 927.4h0M723.9 922.6h0M724.2 920.3h0M724.5 925.2h0M724.8 934.1h0M725.1 922.6h0M725.4 927.2h0M725.7 925.2h0M726.0 935.8h0M726.3 909.6h0M726.6 928.5h0M726.9 918.0h0M727.2 920.6h0M727.5 922.3h0M727.8 936.0h0M728.0 918.8h0M728.3 913.6h0M728.6 926.9h0M728.9 917.4h0M729.2 919.6h0M729.5 920.1h0M729.8 920.3h0M730.1 918.8h0M730.4 920.3h0M730.7 920.5h0M731.0 922.1h0M731.3 916.3h0M731.6 914.6h0M731.9 912.8h0M732.2 919.6h0M732.5 916.5h0M732.8 918.7h0M733.0 918.3h0M733.3 922.8h0M733.6 916.2h0M733.9 918.1h0M734.2 909.4h0M734.5 909.6h0M734.8 912.5h0M735.1 908.3h0M735.4 916.1h0M735.7 907.1h0M736.0 912.7h0M736.3 901.5h0M736.6 907.0h0M736.9 909.9h0M737.2 909.9h0M737.5 896.8h0M737.7 910.8h0M738.0 914.2h0M738.3 912.4h0M738.6 906.4h0M738.9 906.4h0M739.2 903.5h0M739.5 911.0h0M739.8 914.1h0M740.1 905.3h0M740.4 899.9h0M740.7 907.7h0M741.0 909.6h0M741.3 894.4h0M741.6 906.4h0M741.9 914.9h0M742.2 908.7h0M742.4 907.2h0M742.7 906.2h0M743.0 908.7h0M743.3 899.7h0M743.6 899.8h0M743.9 904.9h0M744.2 899.8h0M744.5 903.6h0M744.8 893.8h0M745.1 907.7h0M745.4 905.1h0M745.7 901.3h0M746.0 901.5h0M746.3 907.4h0M746.6 895.4h0M746.9 895.8h0M747.2 894.6h0M747.4 897.2h0M747.7 894.3h0M748.0 898.5h0M748.3 895.2h0M748.6 891.4h0M748.9 890.6h0M749.2 902.3h0M749.5 896.3h0M749.8 895.3h0M750.1 896.1h0M750.4 895.3h0M750.7 898.6h0M751.0 897.4h0M751.3 892.0h0M751.6 890.7h0M751.9 889.2h0M752.1 888.1h0M752.4 899.4h0M752.7 888.9h0M753.0 883.7h0M753.3 888.5h0M753.6 888.5h0M753.9 893.0h0M754.2 887.4h0M754.5 893.2h0M754.8 892.3h0M755.1 895.8h0M755.4 899.4h0M755.7 902.1h0M756.0 895.2h0M756.3 883.8h0M756.6 886.8h0M756.8 889.4h0M757.1 897.0h0M757.4 890.6h0M757.7 892.6h0M758.0 886.2h0M758.3 889.3h0M758.6 889.5h0M758.9 884.0h0M759.2 889.1h0M759.5 890.1h0M759.8 884.4h0M760.1 889.3h0M760.4 891.7h0M760.7 884.5h0M761.0 883.9h0M761.3 882.2h0M761.5 880.5h0M761.8 883.6h0M762.1 880.8h0M762.4 881.0h0M762.7 878.7h0M763.0 875.0h0M763.3 877.4h0M763.6 882.7h0M763.9 875.7h0M764.2 877.8h0M764.5 887.6h0M764.8 885.0h0M765.1 876.7h0M765.4 882.2h0M765.7 876.4h0M766.0 886.2h0M766.3 876.1h0M766.5 878.8h0M766.8 884.3h0M767.1 874.2h0M767.4 883.4h0M767.7 873.7h0M768.0 878.1h0M768.3 875.5h0M768.6 876.1h0M768.9 877.0h0M769.2 875.6h0M769.5 871.2h0M769.8 879.3h0M770.1 878.4h0M770.4 880.6h0M770.7 880.8h0M771.0 868.4h0M771.2 879.8h0M771.5 879.6h0M771.8 871.2h0M772.1 877.9h0M772.4 879.6h0M772.7 870.4h0M773.0 866.4h0M773.3 870.7h0M773.6 884.4h0M773.9 872.8h0M774.2 866.1h0M774.5 870.1h0M774.8 866.5h0M775.1 868.9h0M775.4 870.9h0M775.7 858.8h0M775.9 871.6h0M776.2 876.0h0M776.5 868.6h0M776.8 867.5h0M777.1 873.8h0M777.4 863.1h0M777.7 862.9h0M778.0 862.0h0M778.3 866.7h0M778.6 869.5h0M778.9 867.1h0M779.2 869.8h0M779.5 870.8h0M779.8 869.1h0M780.1 863.0h0M780.4 865.2h0M780.7 871.8h0M780.9 861.3h0M781.2 864.6h0M781.5 863.7h0M781.8 864.5h0M782.1 860.3h0M782.4 858.9h0M782.7 876.1h0M783.0 868.7h0M783.3 861.1h0M783.6 863.8h0M783.9 866.9h0M784.2 862.2h0M784.5 866.3h0M784.8 860.6h0M785.1 861.5h0M785.4 862.6h0M785.6 860.7h0M785.9 851.6h0M786.2 862.5h0M786.5 863.4h0M786.8 864.2h0M787.1 857.5h0M787.4 863.3h0M787.7 862.6h0M788.0 853.5h0M788.3 851.4h0M788.6 863.3h0M788.9 856.7h0M789.2 865.3h0M789.5 870.3h0M789.8 857.9h0M790.1 857.2h0M790.3 860.1h0M790.6 863.0h0M790.9 854.7h0M791.2 865.3h0M791.5 864.0h0M791.8 862.3h0M792.1 856.7h0M792.4 863.1h0M792.7 862.7h0M793.0 853.3h0M793.3 867.9h0M793.6 857.0h0M793.9 859.9h0M794.2 855.7h0M794.5 859.6h0M794.8 862.9h0M795.0 853.9h0M795.3 850.0h0M795.6 855.2h0M795.9 851.2h0M796.2 853.5h0M796.5 856.2h0M796.8 856.4h0M797.1 862.3h0M797.4 851.8h0M797.7 857.8h0M798.0 853.8h0M798.3 862.1h0M798.6 867.2h0M798.9 857.0h0M799.2 863.0h0M799.5 853.0h0M799.8 848.0h0M800.0 849.4h0M800.3 847.9h0M800.6 850.5h0M800.9 853.6h0M801.2 859.8h0M801.5 857.7h0M801.8 856.5h0M802.1 852.4h0M802.4 850.9h0M802.7 854.2h0M803.0 854.6h0M803.3 855.0h0M803.6 855.4h0M803.9 853.1h0M804.2 844.9h0M804.5 848.5h0M804.7 849.7h0M805.0 861.0h0M805.3 851.3h0M805.6 856.3h0M805.9 859.8h0M806.2 854.6h0M806.5 851.3h0M806.8 851.6h0M807.1 848.3h0M807.4 854.3h0M807.7 857.9h0M808.0 855.4h0M808.3 856.3h0M808.6 856.0h0M808.9 861.8h0M809.2 849.9h0M809.4 853.4h0M809.7 855.9h0M810.0 858.3h0M810.3 841.7h0M810.6 850.3h0M810.9 851.8h0M811.2 848.0h0M811.5 856.5h0M811.8 853.7h0M812.1 850.9h0M812.4 845.3h0M812.7 846.7h0M813.0 848.2h0M813.3 854.8h0M813.6 847.2h0M813.9 843.3h0M814.2 846.1h0M814.4 850.0h0M814.7 860.3h0M815.0 864.0h0M815.3 850.5h0M815.6 857.0h0M815.9 859.0h0M816.2 858.5h0M816.5 852.2h0M816.8 846.8h0M817.1 850.5h0M817.4 844.3h0M817.7 853.8h0M818.0 856.2h0M818.3 844.1h0M818.6 852.5h0M818.9 854.0h0M819.1 858.3h0M819.4 858.9h0M819.7 856.3h0M820.0 849.6h0M820.3 851.0h0M820.6 858.1h0M820.9 850.0h0M821.2 852.5h0M821.5 859.8h0M821.8 853.3h0M822.1 846.6h0M822.4 851.5h0M822.7 855.8h0M823.0 852.1h0M823.3 858.3h0M823.6 858.9h0M823.8 850.2h0M824.1 851.0h0M824.4 852.9h0M824.7 848.0h0M825.0 855.3h0M825.3 852.9h0M825.6 857.4h0M825.9 851.2h0M826.2 850.1h0M826.5 862.5h0M826.8 850.4h0M827.1 851.9h0M827.4 851.4h0M827.7 853.4h0M828.0 850.8h0M828.3 854.9h0M828.5 852.1h0M828.8 853.6h0M829.1 857.2h0M829.4 858.9h0M829.7 858.0h0M830.0 852.8h0M830.3 858.1h0M830.6 855.9h0M830.9 856.1h0M831.2 849.0h0M831.5 859.9h0M831.8 856.5h0M832.1 864.9h0M832.4 860.3h0M832.7 852.5h0M833.0 851.6h0M833.3 863.1h0M833.5 854.1h0M833.8 861.3h0M834.1 857.1h0M834.4 868.1h0M834.7 859.2h0M835.0 865.8h0M835.3 865.2h0M835.6 857.4h0M835.9 857.0h0M836.2 866.5h0M836.5 860.1h0M836.8 856.4h0M837.1 865.9h0M837.4 872.3h0M837.7 860.8h0M838.0 867.5h0M838.2 860.8h0M838.5 867.8h0M838.8 860.9h0M839.1 868.2h0M839.4 865.0h0M839.7 862.0h0M840.0 864.1h0M840.3 860.9h0M840.6 858.5h0M840.9 859.1h0M841.2 863.9h0M841.5 859.7h0M841.8 866.6h0M842.1 867.3h0M842.4 867.3h0M842.7 863.3h0M842.9 866.0h0M843.2 866.0h0M843.5 872.3h0M843.8 863.0h0M844.1 865.2h0M844.4 866.2h0M844.7 866.9h0M845.0 864.5h0M845.3 865.3h0M845.6 872.9h0M845.9 865.8h0M846.2 873.1h0M846.5 878.4h0M846.8 875.3h0M847.1 861.8h0M847.4 873.6h0M847.7 872.6h0M847.9 873.2h0M848.2 863.9h0M848.5 874.8h0M848.8 866.9h0M849.1 877.8h0M849.4 877.1h0M849.7 884.0h0M850.0 871.2h0M850.3 866.5h0M850.6 878.2h0M850.9 877.8h0M851.2 872.5h0M851.5 880.6h0M851.8 880.6h0M852.1 869.4h0M852.4 873.9h0M852.6 873.8h0M852.9 875.6h0M853.2 877.3h0M853.5 873.7h0M853.8 876.2h0M854.1 880.0h0M854.4 877.4h0M854.7 876.8h0M855.0 877.0h0M855.3 878.3h0M855.6 870.6h0M855.9 880.1h0M856.2 875.2h0M856.5 880.6h0M856.8 873.9h0M857.1 884.9h0M857.3 882.2h0M857.6 875.6h0M857.9 883.0h0M858.2 878.9h0M858.5 890.6h0M858.8 885.2h0M859.1 879.9h0M859.4 884.8h0M859.7 884.0h0M860.0 889.9h0M860.3 886.6h0M860.6 889.7h0M860.9 880.9h0M861.2 889.7h0M861.5 895.8h0M861.8 889.8h0M862.1 887.2h0M862.3 888.5h0M862.6 884.1h0M862.9 889.5h0M863.2 884.3h0M863.5 889.7h0M863.8 888.2h0M864.1 886.7h0M864.4 893.3h0M864.7 884.7h0M865.0 891.4h0M865.3 886.2h0M865.6 900.5h0M865.9 901.5h0M866.2 897.0h0M866.5 902.1h0M866.8 896.8h0M867.0 897.0h0M867.3 893.2h0M867.6 891.6h0M867.9 896.5h0M868.2 894.1h0M868.5 894.9h0M868.8 900.4h0M869.1 897.1h0M869.4 891.3h0M869.7 897.6h0M870.0 895.7h0M870.3 897.4h0M870.6 895.1h0M870.9 905.5h0M871.2 909.0h0M871.5 896.4h0M871.7 904.5h0M872.0 904.7h0M872.3 897.9h0M872.6 903.4h0M872.9 909.5h0M873.2 907.5h0M873.5 911.3h0M873.8 899.6h0M874.1 901.9h0M874.4 906.8h0M874.7 907.5h0M875.0 906.5h0M875.3 905.2h0M875.6 905.5h0M875.9 905.1h0M876.2 910.1h0M876.4 896.6h0M876.7 915.9h0M877.0 907.1h0M877.3 903.7h0M877.6 912.6h0M877.9 904.6h0M878.2 912.7h0M878.5 909.8h0M878.8 914.5h0M879.1 915.7h0M879.4 918.3h0M879.7 911.1h0M880.0 912.4h0M880.3 914.0h0M880.6 908.4h0M880.9 917.4h0M881.2 915.9h0M881.4 910.0h0M881.7 921.4h0M882.0 922.5h0M882.3 911.4h0M882.6 922.0h0M882.9 923.2h0M883.2 921.9h0M883.5 914.6h0M883.8 913.2h0M884.1 919.1h0M884.4 917.9h0M884.7 920.4h0M885.0 920.5h0M885.3 923.6h0M885.6 919.4h0M885.9 921.5h0M886.1 935.3h0M886.4 922.5h0M886.7 926.6h0M887.0 925.2h0M887.3 925.3h0M887.6 920.9h0M887.9 927.5h0M888.2 925.5h0M888.5 929.6h0M888.8 935.3h0M889.1 927.8h0M889.4 930.7h0M889.7 923.5h0M890.0 928.8h0M890.3 935.3h0M890.6 929.0h0M890.8 927.0h0M891.1 931.0h0M891.4 929.8h0M891.7 930.0h0M892.0 929.9h0M892.3 940.3h0M892.6 928.7h0M892.9 931.1h0M893.2 930.8h0M893.5 938.9h0M893.8 933.0h0M894.1 940.1h0M894.4 935.8h0M894.7 935.4h0M895.0 929.8h0M895.3 941.5h0M895.6 939.2h0M895.8 939.1h0M896.1 937.3h0M896.4 936.5h0M896.7 933.4h0M897.0 943.2h0M897.3 940.8h0M897.6 938.6h0M897.9 938.0h0M898.2 941.5h0M898.5 941.2h0M898.8 948.9h0M899.1 945.7h0M899.4 940.5h0M899.7 938.8h0M900.0 942.9h0M900.3 940.6h0M900.5 945.2h0M900.8 947.1h0M901.1 948.5h0M901.4 948.1h0M901.7 946.1h0M902.0 949.9h0M902.3 944.2h0M902.6 948.0h0M902.9 952.3h0M903.2 950.6h0M903.5 944.6h0M903.8 945.6h0M904.1 944.2h0M904.4 958.9h0M904.7 945.5h0M905.0 951.9h0M905.2 960.6h0M905.5 958.0h0M905.8 959.5h0M906.1 952.5h0M906.4 958.1h0M906.7 968.1h0M907.0 955.9h0M907.3 958.3h0M907.6 955.8h0M907.9 957.6h0M908.2 959.7h0M908.5 964.4h0M908.8 955.5h0M909.1 953.9h0M909.4 960.4h0M909.7 961.6h0M909.9 967.1h0M910.2 964.8h0M910.5 959.8h0M910.8 965.2h0M911.1 968.0h0M911.4 965.1h0M911.7 963.0h0M912.0 967.7h0M912.3 964.0h0M912.6 958.3h0M912.9 971.9h0M913.2 961.7h0M913.5 966.1h0M913.8 966.7h0M914.1 967.1h0M914.4 967.8h0M914.7 963.6h0M914.9 972.1h0M915.2 970.6h0M915.5 971.1h0M915.8 975.8h0M916.1 976.4h0M916.4 977.9h0M916.7 980.5h0M917.0 975.3h0M917.3 967.7h0M917.6 975.3h0M917.9 974.9h0M918.2 975.6h0M918.5 973.4h0M918.8 972.7h0M919.1 980.0h0M919.4 981.1h0M919.6 973.2h0M919.9 980.3h0M920.2 977.9h0M920.5 977.5h0M920.8 982.3h0M921.1 979.7h0M921.4 978.2h0M921.7 981.1h0M922.0 973.2h0M922.3 979.3h0M922.6 980.4h0M922.9 977.0h0M923.2 983.8h0M923.5 984.6h0M923.8 981.5h0M924.1 983.7h0M924.3 987.5h0M924.6 989.4h0M924.9 982.6h0M925.2 987.4h0M925.5 990.6h0M925.8 986.8h0M926.1 984.2h0M926.4 984.7h0M926.7 986.9h0M927.0 984.5h0M927.3 997.1h0M927.6 987.2h0M927.9 991.4h0M928.2 991.0h0M928.5 993.2h0M928.8 989.6h0M929.1 986.3h0M929.3 998.5h0M929.6 992.0h0M929.9 993.2h0M930.2 994.0h0M930.5 998.6h0M930.8 997.1h0M931.1 999.1h0M931.4 998.1h0M931.7 995.8h0M932.0 996.6h0M932.3 993.1h0M932.6 988.8h0M932.9 995.9h0M933.2 993.0h0M933.5 1007.9h0M933.8 1004.2h0M934.0 1003.1h0M934.3 996.7h0M934.6 1007.4h0M934.9 992.9h0M935.2 995.3h0M935.5 997.4h0M935.8 997.1h0M936.1 1001.8h0M936.4 1002.4h0M936.7 1009.6h0M937.0 1006.4h0M937.3 1007.6h0M937.6 1004.9h0M937.9 1003.0h0M938.2 1001.3h0M938.5 998.4h0M938.7 1001.3h0M939.0 1003.7h0M939.3 1008.5h0M939.6 999.3h0M939.9 1001.0h0M940.2 1007.6h0M940.5 1003.0h0M940.8 1008.8h0M941.1 1006.2h0M941.4 1005.3h0M941.7 1003.4h0M942.0 1008.6h0M942.3 1006.5h0M942.6 1007.3h0M942.9 1007.6h0M943.2 1011.2h0M943.4 1011.4h0M943.7 1004.6h0M944.0 1011.0h0M944.3 1013.5h0M944.6 1016.4h0M944.9 1015.8h0M945.2 1013.9h0M945.5 1009.0h0M945.8 1010.8h0M946.1 1017.7h0M946.4 1011.8h0M946.7 1018.9h0M947.0 1020.2h0M947.3 1011.5h0M947.6 1017.7h0M947.9 1015.9h0M948.2 1024.6h0M948.4 1020.3h0M948.7 1015.4h0M949.0 1019.4h0M949.3 1014.6h0M949.6 1017.9h0M949.9 1019.6h0M950.2 1019.8h0M950.5 1020.7h0M950.8 1016.4h0M951.1 1013.1h0M951.4 1019.2h0M951.7 1017.5h0M952.0 1018.6h0M952.3 1029.9h0M952.6 1026.5h0M952.9 1021.7h0M953.1 1017.2h0M953.4 1018.0h0M953.7 1024.8h0M954.0 1027.8h0M954.3 1023.0h0M954.6 1024.9h0M954.9 1025.7h0M955.2 1029.2h0M955.5 1018.2h0M955.8 1026.4h0M956.1 1027.7h0M956.4 1030.1h0M956.7 1028.3h0M957.0 1022.9h0M957.3 1025.3h0M957.6 1022.0h0M957.8 1028.9h0M958.1 1029.2h0M958.4 1030.8h0M958.7 1025.5h0M959.0 1025.2h0M959.3 1035.7h0M959.6 1030.9h0M959.9 1037.2h0M960.2 1032.6h0M960.5 1025.6h0M960.8 1034.6h0M961.1 1036.6h0M961.4 1030.5h0M961.7 1025.2h0M962.0 1035.4h0M962.3 1032.7h0M962.6 1034.6h0M962.8 1023.7h0M963.1 1036.0h0M963.4 1024.2h0M963.7 1031.7h0M964.0 1038.6h0M964.3 1028.7h0M964.6 1028.9h0M964.9 1034.6h0M965.2 1042.9h0M965.5 1043.1h0M965.8 1035.0h0M966.1 1041.5h0M966.4 1040.2h0M966.7 1039.3h0M967.0 1040.0h0M967.3 1036.3h0M967.5 1042.4h0M967.8 1043.7h0M968.1 1050.2h0M968.4 1043.8h0M968.7 1031.5h0M969.0 1036.5h0M969.3 1042.6h0M969.6 1042.0h0M969.9 1035.0h0M970.2 1041.8h0M970.5 1041.3h0M970.8 1042.8h0M971.1 1042.9h0M971.4 1047.1h0M971.7 1049.5h0M972.0 1046.9h0M972.2 1040.5h0M972.5 1041.8h0M972.8 1042.9h0M973.1 1045.5h0M973.4 1044.4h0M973.7 1045.0h0M974.0 1043.2h0M974.3 1050.5h0M974.6 1050.5h0M974.9 1051.2h0M975.2 1047.7h0M975.5 1050.0h0M975.8 1045.2h0M976.1 1045.2h0M976.4 1047.3h0M976.7 1051.8h0M976.9 1049.4h0M977.2 1046.0h0M977.5 1051.0h0M977.8 1052.5h0M978.1 1051.9h0M978.4 1049.1h0M978.7 1052.2h0M979.0 1050.7h0M979.3 1051.4h0M979.6 1052.6h0M979.9 1056.1h0M980.2 1060.4h0M980.5 1059.7h0M980.8 1056.6h0M981.1 1053.1h0M981.4 1053.8h0M981.7 1054.3h0M981.9 1059.9h0M982.2 1045.7h0M982.5 1057.2h0M982.8 1049.2h0M983.1 1056.9h0M983.4 1062.2h0M983.7 1054.2h0M984.0 1049.5h0M984.3 1063.1h0M984.6 1064.2h0M984.9 1060.8h0M985.2 1063.9h0M985.5 1056.7h0M985.8 1064.3h0M986.1 1066.6h0M986.4 1063.0h0M986.6 1062.0h0M986.9 1066.1h0M987.2 1065.8h0M987.5 1059.3h0M987.8 1067.4h0M988.1 1065.5h0M988.4 1063.7h0M988.7 1068.2h0M989.0 1067.2h0M989.3 1066.9h0M989.6 1062.6h0M989.9 1067.9h0M990.2 1061.2h0M990.5 1065.1h0M990.8 1059.8h0M991.1 1060.1h0M991.3 1068.3h0M991.6 1066.7h0M991.9 1067.7h0M992.2 1069.9h0M992.5 1069.4h0M992.8 1065.3h0M993.1 1069.2h0M993.4 1069.0h0M993.7 1067.7h0M994.0 1069.6h0M994.3 1069.1h0M994.6 1068.4h0M994.9 1069.9h0M995.2 1072.4h0M995.5 1079.4h0M995.8 1069.3h0M996.1 1074.5h0M996.3 1067.7h0M996.6 1079.2h0M996.9 1072.6h0M997.2 1074.7h0M997.5 1079.1h0M997.8 1078.5h0M998.1 1069.9h0M998.4 1077.7h0M998.7 1075.2h0M999.0 1078.6h0M999.3 1077.3h0M999.6 1079.8h0M999.9 1078.6h0M1000.2 1077.4h0M1000.5 1082.5h0M1000.8 1073.1h0M1001.0 1077.5h0M1001.3 1076.0h0M1001.6 1079.2h0M1001.9 1078.6h0M1002.2 1080.0h0M1002.5 1079.1h0M1002.8 1079.5h0M1003.1 1075.7h0M1003.4 1081.8h0M1003.7 1083.4h0M1004.0 1080.5h0M1004.3 1080.7h0M1004.6 1081.1h0M1004.9 1089.7h0M1005.2 1084.8h0M1005.5 1085.8h0M1005.7 1083.7h0M1006.0 1083.3h0M1006.3 1082.3h0M1006.6 1091.3h0M1006.9 1080.1h0M1007.2 1087.6h0M1007.5 1086.7h0M1007.8 1086.3h0M1008.1 1081.9h0M1008.4 1083.4h0M1008.7 1091.6h0M1009.0 1086.0h0M1009.3 1091.9h0M1009.6 1091.5h0M1009.9 1091.5h0M1010.2 1092.4h0M1010.4 1085.8h0M1010.7 1088.7h0M1011.0 1093.0h0M1011.3 1086.5h0M1011.6 1097.1h0M1011.9 1089.6h0M1012.2 1091.6h0M1012.5 1088.5h0M1012.8 1093.7h0M1013.1 1090.2h0M1013.4 1092.2h0M1013.7 1089.3h0M1014.0 1097.8h0M1014.3 1088.2h0M1014.6 1095.8h0M1014.9 1095.3h0M1015.2 1096.3h0M1015.4 1091.5h0M1015.7 1099.0h0M1016.0 1099.0h0M1016.3 1096.5h0M1016.6 1097.3h0M1016.9 1095.9h0M1017.2 1099.0h0M1017.5 1094.2h0M1017.8 1099.3h0M1018.1 1099.0h0M1018.4 1093.0h0M1018.7 1089.0h0M1019.0 1098.0h0M1019.3 1098.1h0M1019.6 1103.2h0M1019.9 1099.5h0M1020.1 1097.8h0M1020.4 1095.0h0M1020.7 1099.8h0M1021.0 1098.3h0M1021.3 1096.8h0M1021.6 1100.4h0M1021.9 1104.8h0M1022.2 1101.7h0M1022.5 1098.0h0M1022.8 1103.1h0M1023.1 1098.4h0M1023.4 1097.0h0M1023.7 1104.4h0M1024.0 1101.0h0M1024.3 1107.1h0M1024.6 1104.5h0M1024.8 1100.9h0M1025.1 1104.7h0M1025.4 1108.7h0M1025.7 1103.8h0M1026.0 1101.1h0M1026.3 1102.7h0M1026.6 1102.4h0M1026.9 1101.4h0M1027.2 1101.3h0M1027.5 1107.4h0M1027.8 1110.1h0M1028.1 1105.2h0M1028.4 1109.4h0M1028.7 1110.1h0M1029.0 1113.0h0M1029.3 1106.8h0M1029.6 1106.5h0M1029.8 1109.4h0M1030.1 1108.5h0M1030.4 1109.4h0M1030.7 1113.1h0M1031.0 1107.4h0M1031.3 1109.9h0M1031.6 1106.0h0M1031.9 1109.0h0M1032.2 1107.5h0M1032.5 1107.4h0M1032.8 1109.5h0M1033.1 1109.0h0M1033.4 1112.0h0M1033.7 1113.7h0M1034.0 1106.1h0M1034.3 1114.9h0M1034.5 1104.0h0M1034.8 1112.7h0M1035.1 1114.5h0M1035.4 1110.1h0M1035.7 1111.8h0M1036.0 1110.1h0M1036.3 1116.0h0M1036.6 1102.3h0M1036.9 1110.1h0M1037.2 1107.0h0M1037.5 1114.5h0M1037.8 1118.5h0M1038.1 1118.3h0M1038.4 1116.8h0M1038.7 1115.5h0M1039.0 1112.3h0M1039.2 1119.3h0M1039.5 1117.4h0M1039.8 1112.6h0M1040.1 1107.9h0M1040.4 1113.8h0M1040.7 1119.8h0M1041.0 1120.6h0M1041.3 1122.1h0M1041.6 1114.1h0M1041.9 1115.7h0M1042.2 1121.9h0M1042.5 1118.1h0M1042.8 1120.2h0M1043.1 1113.3h0M1043.4 1116.7h0M1043.7 1118.1h0M1043.9 1117.2h0M1044.2 1117.2h0M1044.5 1113.2h0M1044.8 1124.5h0M1045.1 1119.7h0M1045.4 1114.4h0M1045.7 1123.2h0M1046.0 1120.0h0M1046.3 1122.4h0M1046.6 1119.5h0M1046.9 1117.7h0M1047.2 1118.0h0M1047.5 1122.0h0M1047.8 1123.6h0M1048.1 1122.8h0M1048.4 1123.6h0M1048.7 1125.7h0M1048.9 1122.8h0M1049.2 1125.4h0M1049.5 1125.9h0M1049.8 1123.4h0M1050.1 1122.4h0M1050.4 1121.4h0M1050.7 1119.0h0M1051.0 1118.0h0M1051.3 1127.9h0M1051.6 1123.6h0M1051.9 1122.0h0M1052.2 1129.4h0M1052.5 1127.5h0M1052.8 1124.7h0M1053.1 1128.0h0M1053.4 1124.2h0M1053.6 1126.3h0M1053.9 1131.4h0M1054.2 1129.1h0M1054.5 1124.8h0M1054.8 1128.2h0M1055.1 1130.1h0M1055.4 1125.9h0M1055.7 1125.2h0M1056.0 1133.1h0M1056.3 1126.0h0M1056.6 1122.8h0M1056.9 1127.9h0M1057.2 1135.3h0M1057.5 1130.0h0M1057.8 1131.3h0M1058.1 1121.1h0M1058.3 1126.7h0M1058.6 1132.8h0M1058.9 1126.9h0M1059.2 1133.6h0M1059.5 1131.1h0M1059.8 1131.0h0M1060.1 1135.5h0M1060.4 1128.4h0M1060.7 1128.8h0M1061.0 1130.9h0M1061.3 1131.5h0M1061.6 1125.3h0M1061.9 1135.3h0M1062.2 1132.2h0M1062.5 1131.1h0M1062.8 1133.9h0M1063.1 1130.7h0M1063.3 1136.3h0M1063.6 1132.7h0M1063.9 1135.1h0M1064.2 1130.0h0M1064.5 1132.2h0M1064.8 1134.5h0M1065.1 1130.4h0M1065.4 1130.1h0M1065.7 1133.8h0M1066.0 1137.8h0M1066.3 1136.9h0M1066.6 1137.5h0M1066.9 1135.8h0M1067.2 1137.9h0M1067.5 1140.3h0M1067.8 1135.9h0M1068.0 1137.0h0M1068.3 1137.7h0M1068.6 1129.4h0M1068.9 1135.9h0M1069.2 1137.8h0M1069.5 1139.1h0M1069.8 1135.7h0M1070.1 1140.2h0M1070.4 1135.1h0M1070.7 1136.8h0M1071.0 1143.1h0M1071.3 1133.3h0M1071.6 1137.7h0M1071.9 1137.7h0M1072.2 1138.1h0M1072.5 1136.8h0M1072.7 1140.9h0M1073.0 1135.4h0M1073.3 1134.8h0M1073.6 1140.9h0M1073.9 1135.6h0M1074.2 1140.9h0M1074.5 1140.0h0M1074.8 1137.8h0M1075.1 1139.2h0M1075.4 1140.2h0M1075.7 1142.1h0M1076.0 1138.8h0M1076.3 1140.3h0M1076.6 1136.5h0M1076.9 1140.5h0M1077.2 1135.3h0M1077.4 1141.6h0M1077.7 1140.4h0M1078.0 1149.0h0M1078.3 1146.5h0M1078.6 1142.0h0M1078.9 1145.8h0M1079.2 1143.8h0M1079.5 1139.3h0M1079.8 1135.3h0M1080.1 1147.0h0M1080.4 1144.8h0M1080.7 1137.4h0M1081.0 1146.0h0M1081.3 1147.1h0M1081.6 1142.0h0M1081.9 1147.0h0M1082.2 1139.0h0M1082.4 1144.1h0M1082.7 1145.1h0M1083.0 1147.7h0M1083.3 1146.6h0M1083.6 1146.2h0M1083.9 1147.5h0M1084.2 1143.8h0M1084.5 1150.9h0M1084.8 1145.1h0M1085.1 1149.0h0M1085.4 1146.6h0M1085.7 1146.0h0M1086.0 1148.8h0M1086.3 1148.6h0M1086.6 1151.7h0M1086.9 1151.0h0M1087.1 1145.8h0M1087.4 1149.5h0M1087.7 1148.3h0M1088.0 1145.6h0M1088.3 1144.8h0M1088.6 1149.4h0M1088.9 1147.0h0M1089.2 1144.4h0M1089.5 1148.8h0M1089.8 1149.9h0M1090.1 1149.7h0M1090.4 1145.7h0M1090.7 1147.9h0M1091.0 1154.3h0M1091.3 1147.6h0M1091.6 1149.2h0M1091.8 1157.9h0M1092.1 1151.7h0M1092.4 1149.1h0M1092.7 1144.7h0M1093.0 1152.1h0M1093.3 1146.8h0M1093.6 1151.3h0M1093.9 1148.8h0M1094.2 1146.4h0M1094.5 1157.2h0M1094.8 1151.7h0M1095.1 1155.2h0M1095.4 1154.8h0M1095.7 1150.2h0M1096.0 1153.0h0M1096.3 1151.8h0M1096.6 1156.2h0M1096.8 1154.6h0M1097.1 1152.2h0M1097.4 1158.9h0M1097.7 1155.4h0M1098.0 1155.4h0M1098.3 1151.5h0M1098.6 1155.5h0M1098.9 1149.7h0M1099.2 1156.0h0M1099.5 1151.7h0M1099.8 1155.4h0M1100.1 1154.1h0M1100.4 1155.9h0M1100.7 1156.4h0M1101.0 1155.3h0M1101.3 1155.4h0M1101.5 1151.0h0M1101.8 1149.9h0M1102.1 1160.1h0M1102.4 1158.1h0M1102.7 1151.7h0M1103.0 1162.6h0M1103.3 1154.4h0M1103.6 1158.5h0M1103.9 1158.3h0M1104.2 1157.5h0M1104.5 1159.2h0M1104.8 1153.1h0M1105.1 1157.5h0M1105.4 1156.9h0M1105.7 1158.2h0M1106.0 1157.2h0M1106.2 1156.1h0M1106.5 1156.0h0M1106.8 1161.3h0M1107.1 1155.9h0M1107.4 1159.9h0M1107.7 1160.0h0M1108.0 1158.8h0M1108.3 1160.6h0M1108.6 1161.1h0M1108.9 1157.8h0M1109.2 1160.7h0M1109.5 1165.8h0M1109.8 1156.5h0M1110.1 1159.1h0M1110.4 1157.8h0M1110.7 1166.7h0M1110.9 1156.1h0M1111.2 1160.7h0M1111.5 1163.7h0M1111.8 1158.2h0M1112.1 1160.7h0M1112.4 1159.0h0M1112.7 1157.1h0M1113.0 1161.3h0M1113.3 1163.2h0M1113.6 1160.6h0M1113.9 1162.5h0M1114.2 1164.3h0M1114.5 1166.0h0M1114.8 1158.5h0M1115.1 1164.5h0M1115.4 1160.7h0M1115.7 1156.9h0M1115.9 1160.5h0M1116.2 1165.1h0M1116.5 1164.2h0M1116.8 1159.9h0M1117.1 1172.6h0M1117.4 1164.9h0M1117.7 1163.6h0M1118.0 1162.3h0M1118.3 1165.4h0M1118.6 1163.0h0M1118.9 1168.0h0M1119.2 1165.5h0M1119.5 1166.6h0M1119.8 1163.9h0M1120.1 1160.3h0M1120.4 1166.8h0M1120.6 1162.1h0M1120.9 1165.1h0M1121.2 1165.5h0M1121.5 1163.3h0M1121.8 1168.6h0M1122.1 1161.5h0M1122.4 1170.8h0M1122.7 1164.5h0M1123.0 1169.5h0M1123.3 1170.6h0M1123.6 1164.1h0M1123.9 1164.6h0M1124.2 1170.0h0M1124.5 1167.8h0M1124.8 1167.6h0M1125.1 1161.8h0M1125.3 1162.5h0M1125.6 1169.5h0M1125.9 1172.4h0M1126.2 1165.9h0M1126.5 1165.6h0M1126.8 1169.1h0M1127.1 1170.0h0M1127.4 1170.5h0M1127.7 1167.5h0M1128.0 1163.0h0M1128.3 1173.7h0M1128.6 1167.8h0M1128.9 1173.4h0M1129.2 1163.5h0M1129.5 1171.9h0M1129.8 1168.4h0M1130.1 1166.7h0M1130.3 1173.3h0M1130.6 1174.4h0M1130.9 1168.7h0M1131.2 1172.7h0M1131.5 1167.5h0M1131.8 1169.1h0M1132.1 1170.4h0M1132.4 1170.2h0M1132.7 1173.4h0M1133.0 1167.9h0M1133.3 1174.7h0M1133.6 1174.9h0M1133.9 1171.4h0M1134.2 1168.6h0M1134.5 1165.0h0M1134.8 1172.3h0M1135.0 1170.5h0M1135.3 1173.1h0M1135.6 1169.7h0M1135.9 1173.1h0M1136.2 1173.1h0M1136.5 1173.4h0M1136.8 1174.4h0M1137.1 1174.6h0M1137.4 1176.8h0M1137.7 1171.6h0M1138.0 1176.3h0M1138.3 1174.8h0M1138.6 1173.1h0M1138.9 1171.5h0M1139.2 1179.1h0M1139.5 1175.6h0M1139.7 1173.4h0M1140.0 1175.3h0M1140.3 1175.3h0M1140.6 1173.8h0M1140.9 1171.3h0M1141.2 1176.1h0M1141.5 1175.3h0M1141.8 1175.1h0M1142.1 1179.1h0M1142.4 1172.2h0M1142.7 1173.4h0M1143.0 1177.0h0M1143.3 1179.1h0M1143.6 1178.6h0M1143.9 1179.1h0M1144.2 1170.3h0M1144.5 1178.6h0M1144.7 1178.5h0M1145.0 1179.5h0M1145.3 1175.4h0M1145.6 1179.2h0M1145.9 1180.8h0M1146.2 1182.8h0M1146.5 1178.8h0M1146.8 1174.1h0M1147.1 1178.4h0M1147.4 1180.3h0M1147.7 1180.1h0M1148.0 1184.4h0M1148.3 1178.1h0M1148.6 1175.8h0M1148.9 1177.1h0M1149.2 1181.1h0M1149.4 1176.8h0M1149.7 1176.2h0M1150.0 1176.9h0M1150.3 1183.2h0M1150.6 1180.4h0M1150.9 1178.8h0M1151.2 1182.5h0M1151.5 1182.1h0M1151.8 1177.2h0M1152.1 1182.8h0M1152.4 1181.1h0M1152.7 1174.3h0M1153.0 1177.1h0M1153.3 1181.5h0M1153.6 1182.3h0M1153.9 1180.1h0M1154.1 1178.1h0M1154.4 1182.0h0M1154.7 1175.8h0M1155.0 1183.1h0M1155.3 1181.1h0M1155.6 1181.6h0M1155.9 1179.8h0M1156.2 1184.4h0M1156.5 1175.0h0M1156.8 1179.5h0M1157.1 1184.0h0M1157.4 1180.2h0M1157.7 1186.9h0M1158.0 1183.9h0M1158.3 1180.4h0M1158.6 1186.1h0M1158.8 1182.7h0M1159.1 1184.8h0M1159.4 1181.3h0M1159.7 1181.5h0M1160.0 1185.5h0M1160.3 1183.8h0M1160.6 1181.4h0M1160.9 1181.1h0M1161.2 1185.8h0M1161.5 1193.6h0M1161.8 1181.6h0M1162.1 1186.3h0M1162.4 1175.7h0M1162.7 1180.3h0M1163.0 1186.6h0M1163.3 1189.5h0M1163.6 1185.0h0M1163.8 1186.6h0M1164.1 1185.8h0M1164.4 1188.2h0M1164.7 1182.1h0M1165.0 1187.3h0M1165.3 1184.2h0M1165.6 1184.6h0M1165.9 1185.8h0M1166.2 1185.3h0M1166.5 1183.7h0M1166.8 1185.4h0M1167.1 1183.4h0M1167.4 1190.8h0M1167.7 1188.6h0M1168.0 1185.4h0M1168.3 1191.5h0M1168.5 1190.7h0M1168.8 1188.4h0M1169.1 1185.5h0M1169.4 1188.0h0M1169.7 1189.0h0M1170.0 1191.6h0M1170.3 1187.0h0M1170.6 1186.0h0M1170.9 1194.6h0M1171.2 1192.1h0M1171.5 1189.0h0M1171.8 1185.4h0M1172.1 1189.7h0M1172.4 1191.7h0M1172.7 1190.8h0M1173.0 1191.1h0M1173.2 1188.9h0M1173.5 1192.3h0M1173.8 1187.2h0M1174.1 1187.8h0M1174.4 1187.8h0M1174.7 1187.5h0M1175.0 1195.3h0M1175.3 1184.6h0M1175.6 1190.4h0M1175.9 1186.9h0M1176.2 1186.3h0M1176.5 1190.4h0M1176.8 1185.6h0M1177.1 1190.1h0M1177.4 1197.2h0M1177.7 1190.2h0M1178.0 1192.0h0M1178.2 1188.3h0M1178.5 1192.4h0M1178.8 1186.6h0M1179.1 1191.7h0M1179.4 1190.9h0M1179.7 1197.8h0M1180.0 1191.2h0M1180.3 1190.5h0M1180.6 1190.1h0M1180.9 1188.3h0M1181.2 1194.2h0M1181.5 1196.3h0M1181.8 1191.1h0M1182.1 1194.4h0M1182.4 1191.3h0M1182.7 1193.7h0M1182.9 1194.0h0M1183.2 1188.5h0M1183.5 1190.6h0M1183.8 1195.7h0M1184.1 1187.4h0M1184.4 1193.2h0M1184.7 1192.3h0M1185.0 1190.7h0M1185.3 1193.7h0M1185.6 1194.5h0M1185.9 1195.3h0M1186.2 1186.1h0M1186.5 1198.9h0M1186.8 1192.7h0M1187.1 1197.3h0M1187.4 1193.9h0M1187.6 1192.7h0M1187.9 1194.3h0M1188.2 1204.0h0M1188.5 1199.4h0M1188.8 1193.8h0M1189.1 1195.6h0M1189.4 1198.4h0M1189.7 1196.9h0M1190.0 1195.5h0M1190.3 1194.8h0M1190.6 1192.3h0M1190.9 1197.8h0M1191.2 1199.0h0M1191.5 1202.4h0M1191.8 1194.3h0M1192.1 1198.0h0M1192.3 1196.0h0M1192.6 1200.0h0M1192.9 1196.1h0M1193.2 1194.6h0M1193.5 1191.6h0M1193.8 1198.8h0M1194.1 1197.3h0M1194.4 1200.2h0M1194.7 1195.4h0M1195.0 1204.8h0M1195.3 1195.1h0M1195.6 1198.8h0M1195.9 1198.7h0M1196.2 1200.8h0M1196.5 1197.2h0M1196.8 1195.1h0M1197.1 1195.0h0M1197.3 1200.4h0M1197.6 1198.4h0M1197.9 1199.2h0M1198.2 1195.9h0M1198.5 1198.8h0M1198.8 1199.1h0M1199.1 1200.4h0M1199.4 1194.4h0M1199.7 1196.5h0M1200.0 1204.0h0M1200.3 1197.8h0M1200.6 1198.8h0M1200.9 1198.0h0M1201.2 1194.9h0M1201.5 1196.2h0M1201.8 1200.6h0M1202.0 1197.6h0M1202.3 1205.6h0M1202.6 1195.4h0M1202.9 1194.2h0M1203.2 1198.8h0M1203.5 1196.6h0M1203.8 1204.2h0M1204.1 1199.0h0M1204.4 1201.9h0M1204.7 1196.3h0M1205.0 1202.5h0M1205.3 1202.5h0M1205.6 1204.4h0M1205.9 1201.5h0M1206.2 1202.4h0M1206.5 1201.5h0M1206.7 1203.8h0M1207.0 1200.0h0M1207.3 1202.9h0M1207.6 1199.7h0M1207.9 1203.5h0M1208.2 1200.8h0M1208.5 1199.8h0M1208.8 1199.8h0M1209.1 1206.1h0M1209.4 1197.4h0M1209.7 1197.7h0M1210.0 1204.0h0M1210.3 1199.3h0M1210.6 1200.9h0M1210.9 1200.9h0M1211.2 1209.1h0M1211.5 1200.6h0M1211.7 1200.5h0M1212.0 1201.5h0M1212.3 1203.4h0M1212.6 1204.3h0M1212.9 1198.6h0M1213.2 1204.3h0M1213.5 1208.8h0M1213.8 1198.0h0M1214.1 1204.9h0M1214.4 1205.6h0M1214.7 1203.8h0M1215.0 1202.9h0M1215.3 1196.7h0M1215.6 1207.1h0M1215.9 1202.8h0M1216.2 1203.2h0M1216.4 1207.4h0M1216.7 1197.1h0M1217.0 1203.8h0M1217.3 1205.8h0M1217.6 1206.2h0M1217.9 1206.0h0M1218.2 1210.2h0M1218.5 1205.2h0M1218.8 1207.4h0M1219.1 1206.7h0M1219.4 1200.3h0M1219.7 1202.4h0M1220.0 1210.7h0M1220.3 1204.0h0M1220.6 1204.7h0M1220.9 1201.1h0M1221.1 1204.0h0M1221.4 1201.3h0M1221.7 1203.4h0M1222.0 1206.8h0M1222.3 1202.9h0M1222.6 1203.6h0M1222.9 1209.3h0M1223.2 1206.8h0M1223.5 1207.0h0M1223.8 1208.5h0M1224.1 1204.1h0M1224.4 1204.6h0M1224.7 1199.9h0M1225.0 1208.0h0M1225.3 1205.4h0M1225.6 1206.0h0M1225.8 1203.0h0M1226.1 1208.0h0M1226.4 1208.1h0M1226.7 1206.9h0M1227.0 1201.8h0M1227.3 1204.0h0M1227.6 1206.5h0M1227.9 1204.2h0M1228.2 1207.8h0M1228.5 1209.7h0M1228.8 1204.7h0M1229.1 1206.4h0M1229.4 1205.0h0M1229.7 1210.1h0M1230.0 1209.7h0M1230.3 1214.9h0M1230.6 1207.3h0M1230.8 1204.7h0M1231.1 1208.6h0M1231.4 1206.9h0M1231.7 1208.2h0M1232.0 1211.3h0M1232.3 1207.0h0M1232.6 1210.0h0M1232.9 1197.0h0M1233.2 1211.1h0M1233.5 1208.5h0M1233.8 1207.5h0M1234.1 1206.9h0M1234.4 1212.4h0M1234.7 1207.0h0M1235.0 1212.2h0M1235.3 1207.2h0M1235.5 1208.9h0M1235.8 1209.8h0M1236.1 1214.7h0M1236.4 1209.7h0M1236.7 1209.8h0M1237.0 1209.0h0M1237.3 1208.4h0M1237.6 1207.6h0M1237.9 1214.6h0M1238.2 1213.8h0M1238.5 1207.7h0M1238.8 1210.2h0M1239.1 1206.4h0M1239.4 1212.6h0M1239.7 1212.0h0M1240.0 1210.4h0M1240.2 1207.9h0M1240.5 1212.5h0M1240.8 1212.1h0M1241.1 1209.9h0M1241.4 1212.7h0M1241.7 1206.8h0M1242.0 1209.0h0M1242.3 1208.1h0M1242.6 1211.2h0M1242.9 1215.8h0M1243.2 1211.2h0M1243.5 1214.4h0M1243.8 1211.2h0M1244.1 1210.2h0M1244.4 1214.3h0M1244.7 1213.1h0M1245.0 1215.7h0M1245.2 1214.5h0M1245.5 1209.5h0M1245.8 1204.6h0M1246.1 1212.4h0M1246.4 1208.7h0M1246.7 1208.2h0M1247.0 1208.0h0M1247.3 1210.5h0M1247.6 1211.9h0M1247.9 1212.5h0M1248.2 1218.4h0M1248.5 1209.3h0M1248.8 1212.8h0M1249.1 1209.3h0M1249.4 1210.1h0M1249.7 1213.2h0M1249.9 1214.3h0M1250.2 1209.6h0M1250.5 1216.6h0M1250.8 1210.8h0M1251.1 1216.2h0M1251.4 1213.4h0M1251.7 1216.2h0M1252.0 1215.3h0M1252.3 1213.0h0M1252.6 1215.3h0M1252.9 1210.2h0M1253.2 1210.4h0M1253.5 1213.1h0M1253.8 1218.1h0M1254.1 1212.2h0M1254.4 1212.7h0M1254.6 1219.2h0M1254.9 1214.7h0M1255.2 1214.6h0M1255.5 1211.7h0M1255.8 1214.9h0M1256.1 1216.5h0M1256.4 1214.8h0M1256.7 1217.2h0M1257.0 1216.0h0M1257.3 1218.1h0M1257.6 1217.6h0M1257.9 1214.9h0M1258.2 1217.9h0M1258.5 1220.6h0M1258.8 1216.4h0M1259.1 1212.2h0M1259.3 1216.2h0M1259.6 1215.2h0M1259.9 1223.2h0M1260.2 1218.1h0M1260.5 1212.9h0M1260.8 1215.5h0M1261.1 1220.3h0M1261.4 1212.9h0M1261.7 1214.9h0M1262.0 1216.4h0M1262.3 1216.0h0M1262.6 1214.8h0M1262.9 1217.0h0M1263.2 1212.7h0M1263.5 1215.1h0M1263.8 1215.1h0M1264.1 1216.0h0M1264.3 1216.1h0M1264.6 1217.0h0M1264.9 1216.1h0M1265.2 1216.0h0M1265.5 1218.2h0M1265.8 1219.8h0M1266.1 1220.1h0M1266.4 1214.2h0M1266.7 1218.2h0M1267.0 1219.7h0M1267.3 1216.2h0M1267.6 1219.0h0M1267.9 1217.2h0M1268.2 1218.9h0M1268.5 1213.6h0M1268.8 1219.3h0M1269.0 1216.7h0M1269.3 1216.1h0M1269.6 1217.4h0M1269.9 1221.0h0M1270.2 1221.0h0M1270.5 1219.1h0M1270.8 1220.9h0M1271.1 1217.4h0M1271.4 1215.1h0M1271.7 1213.4h0M1272.0 1218.7h0M1272.3 1218.4h0M1272.6 1219.0h0M1272.9 1219.1h0M1273.2 1222.4h0M1273.5 1216.5h0M1273.7 1217.0h0M1274.0 1224.6h0M1274.3 1221.4h0M1274.6 1218.5h0M1274.9 1213.7h0M1275.2 1217.1h0M1275.5 1218.5h0M1275.8 1219.4h0M1276.1 1220.2h0M1276.4 1219.1h0M1276.7 1223.0h0M1277.0 1216.5h0M1277.3 1219.1h0M1277.6 1218.1h0M1277.9 1222.2h0M1278.2 1220.6h0M1278.5 1222.4h0M1278.7 1220.5h0M1279.0 1230.8h0M1279.3 1222.4h0M1279.6 1218.3h0M1279.9 1220.5h0M1280.2 1219.4h0M1280.5 1222.7h0M1280.8 1223.4h0M1281.1 1221.8h0M1281.4 1220.3h0M1281.7 1219.0h0M1282.0 1225.4h0M1282.3 1224.1h0M1282.6 1212.9h0M1282.9 1221.3h0M1283.2 1218.9h0M1283.4 1220.2h0M1283.7 1226.0h0M1284.0 1218.2h0M1284.3 1218.6h0M1284.6 1228.4h0M1284.9 1220.3h0M1285.2 1221.0h0M1285.5 1224.9h0M1285.8 1220.4h0M1286.1 1221.9h0M1286.4 1222.6h0M1286.7 1225.9h0M1287.0 1217.5h0M1287.3 1219.8h0M1287.6 1221.8h0M1287.9 1224.7h0M1288.1 1219.0h0M1288.4 1223.6h0M1288.7 1221.0h0M1289.0 1221.3h0M1289.3 1226.0h0M1289.6 1221.9h0M1289.9 1230.9h0M1290.2 1223.7h0M1290.5 1225.9h0M1290.8 1224.9h0M1291.1 1218.5h0M1291.4 1218.6h0M1291.7 1224.3h0M1292.0 1220.0h0M1292.3 1221.6h0M1292.6 1222.2h0M1292.8 1220.7h0M1293.1 1226.5h0M1293.4 1225.5h0M1293.7 1223.9h0M1294.0 1225.0h0M1294.3 1221.0h0M1294.6 1226.0h0M1294.9 1221.2h0M1295.2 1228.0h0M1295.5 1221.9h0M1295.8 1222.2h0M1296.1 1227.1h0M1296.4 1225.7h0M1296.7 1221.3h0M1297.0 1225.7h0M1297.3 1224.1h0M1297.6 1224.2h0M1297.8 1225.9h0M1298.1 1226.0h0M1298.4 1227.1h0M1298.7 1225.7h0M1299.0 1225.3h0M1299.3 1224.2h0M1299.6 1228.7h0M1299.9 1222.5h0M1300.2 1230.0h0M1300.5 1230.8h0M1300.8 1230.8h0M1301.1 1224.5h0M1301.4 1230.7h0M1301.7 1228.2h0M1302.0 1228.0h0M1302.3 1234.2h0M1302.5 1225.7h0M1302.8 1226.8h0M1303.1 1221.8h0M1303.4 1219.2h0M1303.7 1226.2h0M1304.0 1226.7h0M1304.3 1227.5h0M1304.6 1226.4h0M1304.9 1220.2h0M1305.2 1226.8h0M1305.5 1228.9h0M1305.8 1230.2h0M1306.1 1223.3h0M1306.4 1223.5h0M1306.7 1224.1h0M1307.0 1224.3h0M1307.2 1221.7h0M1307.5 1224.3h0M1307.8 1230.6h0M1308.1 1223.4h0M1308.4 1221.2h0M1308.7 1225.7h0M1309.0 1225.1h0M1309.3 1228.4h0M1309.6 1224.6h0M1309.9 1226.2h0M1310.2 1224.4h0M1310.5 1224.1h0M1310.8 1227.9h0M1311.1 1227.2h0M1311.4 1226.8h0M1311.7 1228.5h0M1312.0 1224.8h0M1312.2 1227.2h0M1312.5 1227.8h0M1312.8 1230.5h0M1313.1 1222.1h0M1313.4 1226.4h0M1313.7 1228.7h0M1314.0 1224.6h0M1314.3 1227.8h0M1314.6 1229.5h0M1314.9 1229.0h0M1315.2 1223.0h0M1315.5 1224.5h0M1315.8 1220.1h0M1316.1 1229.7h0M1316.4 1228.5h0M1316.7 1231.7h0M1316.9 1228.2h0M1317.2 1225.0h0M1317.5 1231.1h0M1317.8 1224.6h0M1318.1 1228.3h0M1318.4 1227.7h0M1318.7 1230.5h0M1319.0 1230.9h0M1319.3 1227.3h0M1319.6 1226.5h0M1319.9 1228.4h0M1320.2 1227.0h0M1320.5 1231.3h0M1320.8 1229.8h0M1321.1 1232.6h0M1321.4 1236.0h0M1321.6 1226.5h0M1321.9 1227.3h0M1322.2 1230.3h0M1322.5 1230.1h0M1322.8 1228.1h0M1323.1 1224.4h0M1323.4 1236.2h0M1323.7 1229.5h0M1324.0 1226.1h0M1324.3 1222.7h0M1324.6 1233.2h0M1324.9 1230.3h0M1325.2 1229.5h0M1325.5 1226.7h0M1325.8 1229.3h0M1326.1 1228.5h0M1326.3 1222.8h0M1326.6 1237.1h0M1326.9 1231.0h0M1327.2 1228.9h0M1327.5 1227.2h0M1327.8 1228.2h0M1328.1 1236.6h0M1328.4 1231.1h0M1328.7 1226.4h0M1329.0 1232.5h0M1329.3 1231.5h0M1329.6 1231.6h0M1329.9 1229.8h0M1330.2 1229.8h0M1330.5 1230.9h0M1330.8 1229.8h0M1331.1 1226.5h0M1331.3 1227.7h0M1331.6 1230.5h0M1331.9 1226.1h0M1332.2 1230.2h0M1332.5 1229.7h0M1332.8 1232.7h0M1333.1 1231.1h0M1333.4 1229.9h0M1333.7 1230.0h0M1334.0 1232.0h0M1334.3 1233.4h0M1334.6 1228.0h0M1334.9 1226.7h0M1335.2 1228.9h0M1335.5 1224.7h0M1335.8 1228.9h0M1336.0 1233.4h0M1336.3 1233.8h0M1336.6 1235.4h0M1336.9 1231.4h0M1337.2 1231.7h0M1337.5 1229.7h0M1337.8 1229.9h0M1338.1 1232.2h0M1338.4 1233.9h0M1338.7 1232.6h0M1339.0 1225.9h0M1339.3 1232.9h0M1339.6 1231.6h0M1339.9 1230.0h0M1340.2 1232.0h0M1340.5 1234.1h0M1340.7 1232.1h0M1341.0 1229.8h0M1341.3 1241.0h0M1341.6 1230.1h0M1341.9 1233.1h0M1342.2 1235.3h0M1342.5 1229.6h0M1342.8 1233.5h0M1343.1 1229.7h0M1343.4 1231.3h0M1343.7 1230.0h0M1344.0 1236.9h0M1344.3 1228.4h0M1344.6 1233.6h0M1344.9 1232.3h0M1345.2 1226.8h0M1345.5 1237.0h0M1345.7 1230.7h0M1346.0 1231.6h0M1346.3 1233.0h0M1346.6 1229.9h0M1346.9 1230.3h0M1347.2 1232.4h0M1347.5 1230.1h0M1347.8 1232.8h0M1348.1 1236.0h0M1348.4 1229.8h0M1348.7 1228.3h0M1349.0 1232.3h0M1349.3 1233.8h0M1349.6 1234.6h0M1349.9 1229.8h0M1350.2 1226.4h0M1350.4 1235.2h0M1350.7 1234.8h0M1351.0 1237.0h0M1351.3 1230.3h0M1351.6 1234.5h0M1351.9 1235.7h0M1352.2 1228.0h0M1352.5 1235.9h0M1352.8 1237.0h0M1353.1 1234.7h0M1353.4 1234.6h0M1353.7 1235.2h0M1354.0 1232.5h0M1354.3 1229.3h0M1354.6 1230.8h0M1354.9 1232.8h0M1355.1 1231.0h0M1355.4 1236.1h0M1355.7 1232.3h0M1356.0 1233.1h0M1356.3 1228.6h0M1356.6 1234.5h0M1356.9 1231.6h0M1357.2 1237.6h0M1357.5 1228.9h0M1357.8 1234.5h0M1358.1 1232.5h0M1358.4 1232.6h0M1358.7 1238.3h0M1359.0 1236.3h0M1359.3 1231.4h0M1359.6 1237.5h0M1359.8 1232.0h0M1360.1 1235.9h0M1360.4 1229.1h0M1360.7 1233.0h0M1361.0 1233.1h0M1361.3 1233.0h0M1361.6 1229.6h0M1361.9 1228.8h0M1362.2 1233.9h0M1362.5 1235.6h0M1362.8 1234.1h0M1363.1 1233.1h0M1363.4 1230.0h0M1363.7 1233.3h0M1364.0 1232.6h0M1364.3 1232.2h0M1364.6 1234.6h0M1364.8 1234.6h0M1365.1 1235.3h0M1365.4 1233.5h0M1365.7 1232.0h0M1366.0 1233.7h0M1366.3 1233.4h0M1366.6 1229.8h0M1366.9 1233.3h0M1367.2 1229.8h0M1367.5 1229.0h0M1367.8 1232.1h0M1368.1 1232.6h0M1368.4 1236.2h0M1368.7 1233.5h0M1369.0 1235.8h0M1369.3 1238.3h0M1369.5 1234.7h0M1369.8 1235.5h0M1370.1 1232.6h0M1370.4 1236.7h0M1370.7 1234.6h0M1371.0 1234.7h0M1371.3 1231.5h0M1371.6 1232.0h0M1371.9 1232.7h0M1372.2 1234.8h0M1372.5 1237.5h0M1372.8 1230.5h0M1373.1 1233.6h0M1373.4 1233.8h0M1373.7 1240.8h0M1374.0 1234.1h0M1374.2 1233.2h0M1374.5 1236.7h0M1374.8 1231.7h0M1375.1 1236.1h0M1375.4 1230.2h0M1375.7 1240.2h0M1376.0 1234.6h0M1376.3 1233.6h0M1376.6 1231.2h0M1376.9 1234.4h0M1377.2 1235.0h0M1377.5 1232.8h0M1377.8 1238.0h0M1378.1 1233.9h0M1378.4 1235.1h0M1378.7 1235.6h0M1379.0 1238.5h0M1379.2 1233.8h0M1379.5 1235.1h0M1379.8 1235.7h0M1380.1 1236.6h0M1380.4 1230.0h0M1380.7 1238.1h0M1381.0 1234.6h0M1381.3 1233.0h0M1381.6 1234.9h0M1381.9 1229.8h0M1382.2 1233.0h0M1382.5 1235.5h0M1382.8 1238.7h0M1383.1 1234.8h0M1383.4 1236.2h0M1383.7 1234.3h0M1383.9 1237.4h0M1384.2 1234.1h0M1384.5 1236.4h0M1384.8 1234.3h0M1385.1 1232.6h0M1385.4 1232.5h0M1385.7 1233.5h0M1386.0 1238.3h0M1386.3 1243.8h0M1386.6 1234.7h0M1386.9 1233.3h0M1387.2 1236.7h0M1387.5 1236.6h0M1387.8 1233.9h0M1388.1 1240.5h0M1388.4 1237.7h0M1388.6 1237.9h0M1388.9 1235.6h0M1389.2 1235.7h0M1389.5 1238.0h0M1389.8 1231.7h0M1390.1 1233.3h0M1390.4 1235.7h0M1390.7 1231.5h0M1391.0 1239.9h0M1391.3 1233.8h0M1391.6 1234.4h0M1391.9 1236.4h0M1392.2 1239.6h0M1392.5 1235.5h0M1392.8 1233.5h0M1393.1 1233.1h0M1393.3 1236.2h0M1393.6 1234.1h0M1393.9 1242.0h0M1394.2 1239.0h0M1394.5 1227.1h0M1394.8 1233.2h0M1395.1 1236.6h0M1395.4 1241.9h0M1395.7 1230.3h0M1396.0 1234.5h0M1396.3 1239.0h0M1396.6 1233.9h0M1396.9 1236.0h0M1397.2 1234.4h0M1397.5 1237.6h0M1397.8 1232.9h0M1398.1 1235.9h0M1398.3 1231.9h0M1398.6 1238.5h0M1398.9 1237.5h0M1399.2 1235.8h0M1399.5 1236.0h0M1399.8 1236.0h0M1400.1 1234.9h0M1400.4 1236.4h0M1400.7 1236.9h0M1401.0 1235.8h0M1401.3 1234.4h0M1401.6 1234.9h0M1401.9 1234.8h0M1402.2 1237.2h0M1402.5 1236.4h0M1402.8 1241.3h0M1403.0 1235.6h0M1403.3 1236.3h0M1403.6 1234.4h0M1403.9 1236.4h0M1404.2 1234.9h0M1404.5 1233.8h0M1404.8 1236.6h0M1405.1 1240.4h0M1405.4 1233.8h0M1405.7 1234.4h0M1406.0 1236.1h0M1406.3 1236.9h0M1406.6 1239.7h0M1406.9 1234.5h0M1407.2 1235.9h0M1407.5 1234.1h0M1407.7 1233.9h0M1408.0 1235.0h0M1408.3 1233.3h0M1408.6 1237.5h0M1408.9 1239.1h0M1409.2 1234.9h0M1409.5 1234.4h0M1409.8 1239.9h0M1410.1 1235.8h0M1410.4 1240.3h0M1410.7 1228.6h0M1411.0 1235.9h0M1411.3 1233.6h0M1411.6 1235.0h0M1411.9 1238.6h0M1412.2 1239.3h0M1412.5 1236.0h0M1412.7 1238.9h0M1413.0 1231.0h0M1413.3 1237.2h0M1413.6 1236.1h0M1413.9 1231.9h0M1414.2 1238.9h0M1414.5 1234.7h0M1414.8 1237.7h0M1415.1 1234.5h0M1415.4 1237.0h0M1415.7 1238.2h0M1416.0 1236.6h0M1416.3 1235.3h0M1416.6 1238.2h0M1416.9 1237.2h0M1417.2 1235.5h0M1417.4 1236.8h0M1417.7 1236.5h0M1418.0 1235.8h0M1418.3 1239.1h0M1418.6 1241.4h0M1418.9 1235.4h0M1419.2 1236.4h0M1419.5 1234.2h0M1419.8 1233.2h0M1420.1 1239.8h0M1420.4 1235.0h0M1420.7 1237.7h0M1421.0 1233.2h0M1421.3 1235.1h0M1421.6 1238.1h0M1421.9 1238.1h0M1422.1 1237.5h0M1422.4 1238.0h0M1422.7 1237.5h0M1423.0 1239.6h0M1423.3 1241.5h0M1423.6 1238.5h0M1423.9 1236.7h0M1424.2 1234.2h0M1424.5 1235.7h0M1424.8 1236.1h0M1425.1 1240.9h0M1425.4 1232.9h0M1425.7 1234.9h0M1426.0 1234.3h0M1426.3 1239.4h0M1426.6 1235.2h0M1426.9 1232.2h0M1427.1 1231.6h0M1427.4 1237.9h0M1427.7 1232.8h0M1428.0 1240.1h0M1428.3 1240.0h0M1428.6 1234.1h0M1428.9 1236.3h0M1429.2 1237.2h0M1429.5 1233.2h0M1429.8 1233.9h0M1430.1 1235.5h0M1430.4 1237.1h0M1430.7 1238.0h0M1431.0 1232.2h0M1431.3 1237.9h0M1431.6 1236.9h0M1431.8 1236.6h0M1432.1 1236.0h0M1432.4 1240.0h0M1432.7 1241.5h0M1433.0 1236.1h0M1433.3 1236.9h0M1433.6 1233.1h0M1433.9 1236.3h0M1434.2 1239.2h0M1434.5 1237.1h0M1434.8 1238.4h0M1435.1 1237.1h0M1435.4 1237.7h0M1435.7 1239.2h0M1436.0 1239.5h0M1436.3 1232.3h0M1436.5 1236.9h0M1436.8 1229.8h0M1437.1 1237.6h0M1437.4 1236.1h0M1437.7 1236.0h0M1438.0 1241.8h0M1438.3 1238.6h0M1438.6 1240.7h0M1438.9 1239.4h0M1439.2 1242.2h0M1439.5 1237.1h0M1439.8 1237.1h0M1440.1 1237.5h0M1440.4 1244.3h0M1440.7 1236.6h0M1441.0 1237.9h0M1441.2 1241.5h0M1441.5 1240.3h0M1441.8 1236.5h0M1442.1 1242.5h0M1442.4 1239.2h0M1442.7 1241.8h0M1443.0 1239.5h0M1443.3 1240.0h0M1443.6 1236.0h0M1443.9 1241.7h0M1444.2 1236.1h0M1444.5 1238.2h0M1444.8 1240.9h0M1445.1 1237.1h0M1445.4 1238.3h0M1445.7 1238.1h0M1446.0 1238.5h0M1446.2 1239.6h0M1446.5 1234.1h0M1446.8 1236.7h0M1447.1 1243.6h0M1447.4 1232.9h0M1447.7 1236.4h0M1448.0 1240.3h0M1448.3 1233.2h0M1448.6 1235.9h0M1448.9 1236.0h0M1449.2 1242.4h0M1449.5 1235.9h0M1449.8 1239.9h0M1450.1 1236.6h0M1450.4 1238.3h0M1450.7 1235.2h0M1450.9 1234.4h0M1451.2 1237.0h0M1451.5 1234.6h0M1451.8 1237.9h0M1452.1 1238.7h0M1452.4 1239.4h0M1452.7 1242.4h0M1453.0 1242.2h0M1453.3 1235.4h0M1453.6 1236.4h0M1453.9 1242.9h0M1454.2 1238.3h0M1454.5 1237.4h0M1454.8 1241.3h0M1455.1 1236.8h0M1455.4 1241.0h0M1455.6 1237.7h0M1455.9 1242.0h0M1456.2 1238.1h0M1456.5 1240.7h0M1456.8 1241.4h0M1457.1 1242.9h0M1457.4 1236.5h0M1457.7 1237.6h0M1458.0 1234.8h0M1458.3 1234.0h0M1458.6 1237.3h0M1458.9 1239.1h0M1459.2 1242.0h0M1459.5 1237.6h0M1459.8 1243.8h0M1460.1 1239.2h0M1460.4 1241.1h0M1460.6 1238.0h0M1460.9 1235.4h0M1461.2 1243.0h0M1461.5 1238.0h0M1461.8 1241.7h0M1462.1 1237.8h0M1462.4 1240.4h0M1462.7 1238.4h0M1463.0 1237.9h0M1463.3 1238.5h0M1463.6 1240.7h0M1463.9 1235.7h0M1464.2 1236.3h0M1464.5 1241.5h0M1464.8 1237.0h0M1465.1 1239.4h0M1465.3 1235.3h0M1465.6 1238.4h0M1465.9 1241.9h0M1466.2 1239.2h0M1466.5 1239.5h0M1466.8 1238.0h0M1467.1 1239.3h0M1467.4 1234.3h0M1467.7 1234.7h0M1468.0 1240.1h0M1468.3 1234.4h0M1468.6 1245.3h0M1468.9 1241.3h0M1469.2 1235.9h0M1469.5 1233.3h0M1469.8 1232.7h0M1470.0 1240.0h0M1470.3 1238.9h0M1470.6 1242.8h0M1470.9 1240.4h0M1471.2 1243.3h0M1471.5 1241.5h0M1471.8 1236.7h0M1472.1 1238.7h0M1472.4 1237.0h0M1472.7 1238.4h0M1473.0 1237.9h0M1473.3 1238.7h0M1473.6 1242.9h0M1473.9 1237.8h0M1474.2 1236.2h0M1474.5 1237.7h0M1474.7 1238.1h0M1475.0 1237.8h0M1475.3 1238.9h0M1475.6 1238.3h0M1475.9 1242.4h0M1476.2 1241.9h0M1476.5 1237.4h0M1476.8 1242.1h0M1477.1 1243.2h0M1477.4 1239.5h0M1477.7 1237.3h0M1478.0 1240.7h0M1478.3 1239.4h0M1478.6 1240.5h0M1478.9 1236.8h0M1479.2 1245.2h0M1479.5 1239.1h0M1479.7 1241.1h0M1480.0 1238.1h0M1480.3 1240.1h0M1480.6 1233.7h0M1480.9 1236.3h0M1481.2 1233.2h0M1481.5 1242.4h0M1481.8 1236.1h0M1482.1 1235.7h0M1482.4 1242.9h0M1482.7 1238.6h0M1483.0 1239.5h0M1483.3 1242.8h0M1483.6 1241.3h0M1483.9 1240.8h0M1484.2 1241.7h0M1484.4 1234.9h0M1484.7 1243.5h0M1485.0 1243.6h0M1485.3 1245.0h0M1485.6 1234.5h0M1485.9 1237.9h0M1486.2 1238.7h0M1486.5 1244.7h0M1486.8 1241.7h0M1487.1 1244.9h0M1487.4 1241.4h0M1487.7 1238.6h0M1488.0 1236.8h0M1488.3 1238.8h0M1488.6 1244.1h0M1488.9 1238.1h0M1489.1 1235.7h0M1489.4 1241.1h0M1489.7 1244.1h0M1490.0 1246.9h0M1490.3 1243.8h0M1490.6 1243.1h0M1490.9 1235.8h0M1491.2 1239.5h0M1491.5 1239.5h0M1491.8 1240.9h0M1492.1 1238.1h0M1492.4 1242.7h0M1492.7 1244.0h0M1493.0 1240.9h0M1493.3 1239.9h0M1493.6 1241.2h0M1493.9 1241.7h0M1494.1 1242.8h0M1494.4 1238.5h0M1494.7 1244.6h0M1495.0 1240.9h0M1495.3 1240.3h0M1495.6 1242.7h0M1495.9 1239.0h0M1496.2 1243.2h0M1496.5 1246.6h0M1496.8 1242.1h0M1497.1 1241.5h0M1497.4 1239.7h0M1497.7 1244.9h0M1498.0 1244.0h0M1498.3 1237.0h0M1498.6 1243.6h0M1498.8 1239.3h0M1499.1 1237.9h0M1499.4 1240.9h0M1499.7 1237.9h0M1500.0 1244.2h0M1500.3 1237.8h0M1500.6 1237.7h0M1500.9 1238.7h0M1501.2 1240.8h0M1501.5 1242.8h0M1501.8 1238.4h0M1502.1 1239.4h0M1502.4 1237.1h0M1502.7 1240.8h0M1503.0 1238.6h0M1503.3 1247.1h0M1503.5 1246.5h0M1503.8 1238.9h0M1504.1 1241.8h0M1504.4 1242.6h0M1504.7 1240.0h0M1505.0 1240.5h0M1505.3 1243.2h0M1505.6 1240.8h0M1505.9 1240.8h0M1506.2 1241.5h0M1506.5 1244.9h0M1506.8 1240.9h0M1507.1 1242.7h0M1507.4 1242.3h0M1507.7 1243.6h0M1508.0 1241.2h0M1508.2 1240.5h0M1508.5 1240.0h0M1508.8 1242.4h0M1509.1 1242.2h0M1509.4 1241.2h0M1509.7 1242.5h0M1510.0 1248.2h0M1510.3 1244.0h0M1510.6 1237.1h0M1510.9 1245.4h0M1511.2 1242.4h0M1511.5 1239.3h0M1511.8 1245.6h0M1512.1 1241.9h0M1512.4 1244.8h0M1512.7 1240.5h0M1513.0 1244.9h0M1513.2 1241.4h0M1513.5 1244.7h0M1513.8 1244.4h0M1514.1 1239.2h0M1514.4 1243.2h0M1514.7 1243.5h0M1515.0 1242.2h0M1515.3 1237.6h0M1515.6 1243.1h0M1515.9 1241.5h0M1516.2 1245.6h0M1516.5 1239.6h0M1516.8 1245.1h0M1517.1 1242.8h0M1517.4 1249.2h0M1517.7 1239.9h0M1517.9 1245.1h0M1518.2 1241.2h0M1518.5 1240.1h0M1518.8 1245.5h0M1519.1 1244.2h0M1519.4 1245.4h0M1519.7 1238.5h0M1520.0 1239.6h0M1520.3 1244.3h0M1520.6 1240.5h0M1520.9 1246.3h0M1521.2 1247.2h0M1521.5 1242.5h0M1521.8 1243.0h0M1522.1 1243.0h0M1522.4 1242.2h0M1522.6 1242.9h0M1522.9 1242.4h0M1523.2 1244.1h0M1523.5 1242.1h0M1523.8 1241.7h0M1524.1 1242.3h0M1524.4 1241.5h0M1524.7 1242.9h0M1525.0 1244.6h0M1525.3 1248.6h0M1525.6 1238.9h0M1525.9 1239.6h0M1526.2 1243.0h0M1526.5 1243.4h0M1526.8 1243.2h0M1527.1 1248.2h0M1527.4 1234.7h0M1527.6 1242.9h0M1527.9 1240.0h0M1528.2 1242.6h0M1528.5 1244.8h0M1528.8 1239.6h0M1529.1 1246.1h0M1529.4 1241.2h0M1529.7 1240.7h0M1530.0 1239.2h0M1530.3 1241.7h0M1530.6 1241.6h0M1530.9 1245.8h0M1531.2 1239.5h0M1531.5 1244.2h0M1531.8 1245.9h0M1532.1 1243.0h0M1532.3 1245.7h0M1532.6 1241.9h0M1532.9 1244.8h0M1533.2 1242.9h0M1533.5 1249.5h0M1533.8 1243.1h0M1534.1 1243.0h0M1534.4 1244.9h0M1534.7 1242.5h0M1535.0 1243.4h0M1535.3 1244.8h0M1535.6 1246.2h0M1535.9 1242.4h0M1536.2 1244.1h0M1536.5 1243.5h0M1536.8 1245.8h0M1537.0 1246.2h0M1537.3 1245.1h0M1537.6 1244.8h0M1537.9 1248.8h0M1538.2 1241.8h0M1538.5 1248.4h0M1538.8 1245.6h0M1539.1 1240.2h0M1539.4 1244.5h0M1539.7 1240.5h0M1540.0 1243.9h0M1540.3 1238.9h0M1540.6 1246.2h0M1540.9 1242.2h0M1541.2 1248.7h0M1541.5 1242.4h0M1541.7 1244.5h0M1542.0 1240.8h0M1542.3 1244.1h0M1542.6 1244.5h0M1542.9 1245.8h0M1543.2 1251.0h0M1543.5 1248.8h0M1543.8 1246.6h0M1544.1 1243.7h0M1544.4 1243.8h0M1544.7 1243.8h0M1545.0 1242.4h0M1545.3 1246.4h0M1545.6 1244.5h0M1545.9 1246.1h0M1546.2 1244.1h0M1546.5 1245.7h0M1546.7 1249.4h0M1547.0 1245.7h0M1547.3 1247.3h0M1547.6 1242.6h0M1547.9 1244.5h0M1548.2 1243.9h0M1548.5 1246.3h0M1548.8 1245.8h0M1549.1 1243.2h0M1549.4 1246.0h0M1549.7 1245.4h0M1550.0 1241.0h0M1550.3 1245.1h0M1550.6 1248.3h0M1550.9 1242.9h0M1551.2 1250.5h0M1551.4 1247.1h0M1551.7 1245.7h0M1552.0 1246.5h0M1552.3 1243.2h0M1552.6 1247.2h0M1552.9 1241.7h0M1553.2 1242.5h0M1553.5 1246.9h0M1553.8 1242.6h0M1554.1 1250.8h0M1554.4 1246.4h0M1554.7 1247.9h0M1555.0 1248.1h0M1555.3 1244.6h0M1555.6 1245.7h0M1555.9 1246.9h0M1556.1 1245.7h0M1556.4 1249.8h0M1556.7 1248.4h0M1557.0 1246.3h0M1557.3 1249.1h0M1557.6 1246.0h0M1557.9 1247.9h0M1558.2 1246.3h0M1558.5 1245.2h0M1558.8 1243.4h0M1559.1 1244.0h0M1559.4 1246.1h0M1559.7 1247.1h0M1560.0 1240.4h0M1560.3 1244.9h0M1560.6 1247.5h0M1560.9 1245.6h0M1561.1 1243.1h0M1561.4 1243.4h0M1561.7 1250.4h0M1562.0 1241.9h0M1562.3 1245.2h0M1562.6 1248.2h0M1562.9 1240.9h0M1563.2 1247.9h0M1563.5 1242.1h0M1563.8 1248.8h0M1564.1 1253.1h0M1564.4 1242.9h0M1564.7 1246.1h0M1565.0 1247.2h0M1565.3 1244.8h0M1565.6 1247.7h0M1565.8 1244.5h0M1566.1 1244.9h0M1566.4 1244.2h0M1566.7 1246.3h0M1567.0 1247.7h0M1567.3 1249.0h0M1567.6 1246.2h0M1567.9 1243.7h0M1568.2 1245.2h0M1568.5 1245.2h0M1568.8 1245.5h0M1569.1 1248.1h0M1569.4 1246.2h0M1569.7 1246.9h0M1570.0 1246.8h0M1570.3 1246.4h0M1570.5 1245.4h0M1570.8 1248.6h0M1571.1 1246.5h0M1571.4 1246.4h0M1571.7 1243.8h0M1572.0 1244.9h0M1572.3 1245.2h0M1572.6 1248.3h0M1572.9 1242.3h0M1573.2 1248.8h0M1573.5 1247.2h0M1573.8 1245.0h0M1574.1 1244.7h0M1574.4 1248.3h0M1574.7 1247.5h0M1575.0 1241.8h0M1575.2 1245.2h0M1575.5 1244.7h0M1575.8 1246.9h0M1576.1 1245.4h0M1576.4 1248.3h0M1576.7 1245.8h0M1577.0 1246.5h0M1577.3 1250.4h0M1577.6 1246.6h0M1577.9 1246.0h0M1578.2 1247.4h0M1578.5 1243.9h0M1578.8 1243.2h0M1579.1 1247.3h0M1579.4 1245.9h0M1579.7 1243.7h0M1580.0 1249.8h0M1580.2 1249.2h0M1580.5 1248.1h0M1580.8 1246.1h0M1581.1 1247.0h0M1581.4 1246.1h0M1581.7 1249.8h0M1582.0 1243.9h0M1582.3 1248.3h0M1582.6 1247.7h0M1582.9 1244.8h0M1583.2 1249.3h0M1583.5 1246.9h0M1583.8 1252.6h0M1584.1 1250.9h0M1584.4 1247.7h0M1584.7 1246.9h0M1584.9 1246.1h0M1585.2 1246.1h0M1585.5 1248.8h0M1585.8 1244.3h0M1586.1 1250.5h0M1586.4 1249.9h0M1586.7 1247.7h0M1587.0 1250.1h0M1587.3 1254.1h0M1587.6 1249.0h0M1587.9 1252.7h0M1588.2 1247.5h0M1588.5 1246.7h0M1588.8 1250.9h0M1589.1 1243.4h0M1589.4 1250.9h0M1589.6 1248.4h0M1589.9 1247.2h0M1590.2 1248.7h0M1590.5 1248.8h0M1590.8 1251.8h0M1591.1 1250.7h0M1591.4 1249.1h0M1591.7 1248.0h0M1592.0 1246.2h0M1592.3 1249.6h0M1592.6 1242.0h0M1592.9 1251.2h0M1593.2 1248.8h0M1593.5 1244.5h0M1593.8 1250.3h0M1594.1 1246.6h0M1594.4 1247.7h0M1594.6 1244.3h0M1594.9 1247.0h0M1595.2 1249.4h0M1595.5 1248.8h0M1595.8 1249.8h0M1596.1 1247.2h0M1596.4 1250.6h0M1596.7 1245.3h0M1597.0 1247.7h0M1597.3 1242.3h0M1597.6 1248.4h0M1597.9 1247.8h0M1598.2 1248.8h0M1598.5 1250.8h0M1598.8 1252.7h0M1599.1 1246.3h0M1599.3 1248.8h0M1599.6 1244.4h0M1599.9 1254.2h0M1600.2 1252.8h0M1600.5 1250.7h0M1600.8 1252.7h0M1601.1 1251.8h0M1601.4 1248.0h0M1601.7 1251.5h0M1602.0 1252.7h0M1602.3 1251.8h0M1602.6 1249.5h0M1602.9 1248.8h0M1603.2 1255.9h0M1603.5 1250.6h0M1603.8 1251.3h0M1604.0 1246.3h0M1604.3 1251.7h0M1604.6 1250.6h0M1604.9 1247.8h0M1605.2 1253.4h0M1605.5 1250.1h0M1605.8 1251.8h0M1606.1 1251.3h0M1606.4 1248.3h0M1606.7 1250.9h0M1607.0 1253.8h0M1607.3 1247.4h0M1607.6 1247.6h0M1607.9 1247.9h0M1608.2 1252.2h0M1608.5 1249.2h0M1608.7 1251.1h0M1609.0 1253.3h0M1609.3 1247.5h0M1609.6 1254.3h0M1609.9 1250.6h0M1610.2 1250.1h0M1610.5 1254.5h0M1610.8 1251.7h0M1611.1 1247.2h0M1611.4 1250.5h0M1611.7 1248.7h0M1612.0 1251.4h0M1612.3 1249.5h0M1612.6 1249.9h0M1612.9 1253.2h0M1613.2 1246.4h0M1613.5 1251.5h0M1613.7 1250.2h0M1614.0 1251.7h0M1614.3 1244.8h0M1614.6 1248.5h0M1614.9 1249.9h0M1615.2 1255.2h0M1615.5 1247.8h0M1615.8 1248.1h0M1616.1 1250.5h0M1616.4 1251.9h0M1616.7 1249.5h0M1617.0 1251.3h0M1617.3 1246.9h0M1617.6 1255.5h0M1617.9 1250.3h0M1618.2 1251.5h0M1618.4 1258.2h0M1618.7 1249.8h0M1619.0 1248.1h0M1619.3 1248.8h0M1619.6 1255.6h0M1619.9 1250.9h0M1620.2 1249.4h0M1620.5 1251.3h0M1620.8 1251.3h0M1621.1 1254.0h0M1621.4 1253.3h0M1621.7 1252.5h0M1622.0 1252.8h0M1622.3 1249.5h0M1622.6 1248.3h0M1622.9 1252.6h0M1623.1 1253.0h0M1623.4 1252.1h0M1623.7 1252.4h0M1624.0 1253.3h0M1624.3 1248.8h0M1624.6 1250.9h0M1624.9 1249.5h0M1625.2 1247.0h0M1625.5 1253.2h0M1625.8 1251.2h0M1626.1 1252.9h0M1626.4 1253.5h0M1626.7 1249.6h0M1627.0 1255.8h0M1627.3 1252.7h0M1627.6 1254.6h0M1627.9 1256.3h0M1628.1 1250.8h0M1628.4 1250.4h0M1628.7 1252.5h0M1629.0 1254.9h0M1629.3 1255.0h0M1629.6 1247.1h0M1629.9 1255.8h0M1630.2 1251.0h0M1630.5 1253.4h0M1630.8 1248.8h0M1631.1 1250.0h0M1631.4 1253.2h0M1631.7 1247.7h0M1632.0 1254.4h0M1632.3 1250.9h0M1632.6 1253.0h0M1632.8 1252.7h0M1633.1 1251.0h0M1633.4 1255.8h0M1633.7 1258.4h0M1634.0 1254.1h0M1634.3 1248.1h0M1634.6 1252.8h0M1634.9 1251.9h0M1635.2 1254.9h0M1635.5 1252.7h0M1635.8 1258.1h0M1636.1 1254.4h0M1636.4 1254.1h0M1636.7 1251.8h0M1637.0 1250.4h0M1637.3 1252.5h0M1637.5 1253.2h0M1637.8 1253.9h0M1638.1 1253.3h0M1638.4 1252.0h0M1638.7 1252.9h0M1639.0 1251.6h0M1639.3 1250.3h0M1639.6 1250.6h0M1639.9 1254.1h0M1640.2 1254.7h0M1640.5 1252.3h0M1640.8 1252.6h0M1641.1 1254.3h0M1641.4 1252.6h0M1641.7 1261.0h0M1642.0 1253.3h0M1642.2 1250.6h0M1642.5 1248.4h0M1642.8 1253.6h0M1643.1 1255.7h0M1643.4 1253.0h0M1643.7 1256.3h0M1644.0 1251.6h0M1644.3 1252.9h0M1644.6 1252.7h0M1644.9 1251.3h0M1645.2 1249.4h0M1645.5 1250.8h0M1645.8 1248.4h0M1646.1 1255.2h0M1646.4 1252.5h0M1646.7 1253.1h0M1647.0 1251.9h0M1647.2 1255.8h0M1647.5 1251.2h0M1647.8 1257.7h0M1648.1 1256.2h0M1648.4 1251.7h0M1648.7 1253.0h0M1649.0 1255.1h0M1649.3 1256.7h0M1649.6 1251.5h0M1649.9 1252.3h0M1650.2 1260.0h0M1650.5 1256.0h0M1650.8 1255.9h0M1651.1 1258.6h0M1651.4 1254.8h0M1651.7 1252.5h0M1651.9 1249.3h0M1652.2 1255.9h0M1652.5 1250.9h0M1652.8 1255.5h0M1653.1 1248.8h0M1653.4 1252.6h0M1653.7 1253.8h0M1654.0 1250.7h0M1654.3 1252.5h0M1654.6 1251.8h0M1654.9 1254.3h0M1655.2 1250.7h0M1655.5 1253.3h0M1655.8 1257.5h0M1656.1 1257.6h0M1656.4 1258.9h0M1656.6 1255.1h0M1656.9 1253.0h0M1657.2 1254.9h0M1657.5 1255.9h0M1657.8 1254.9h0M1658.1 1257.9h0M1658.4 1252.5h0M1658.7 1253.7h0M1659.0 1250.4h0M1659.3 1253.2h0M1659.6 1257.4h0M1659.9 1254.4h0M1660.2 1256.2h0M1660.5 1255.4h0M1660.8 1256.8h0M1661.1 1252.3h0M1661.4 1255.8h0M1661.6 1256.2h0M1661.9 1257.4h0M1662.2 1258.0h0M1662.5 1253.2h0M1662.8 1250.9h0M1663.1 1252.9h0M1663.4 1257.9h0M1663.7 1252.1h0M1664.0 1251.1h0M1664.3 1251.3h0M1664.6 1251.3h0M1664.9 1256.5h0M1665.2 1252.7h0M1665.5 1253.1h0M1665.8 1257.7h0M1666.1 1257.2h0M1666.3 1257.0h0M1666.6 1252.9h0M1666.9 1250.5h0M1667.2 1255.8h0M1667.5 1259.3h0M1667.8 1254.0h0M1668.1 1254.2h0M1668.4 1246.7h0M1668.7 1259.4h0M1669.0 1254.5h0M1669.3 1250.6h0M1669.6 1254.9h0M1669.9 1253.6h0M1670.2 1256.7h0M1670.5 1260.6h0M1670.8 1253.1h0M1671.0 1255.6h0M1671.3 1254.2h0M1671.6 1253.5h0M1671.9 1256.4h0M1672.2 1259.2h0M1672.5 1256.4h0M1672.8 1254.2h0M1673.1 1256.6h0M1673.4 1255.9h0M1673.7 1257.4h0M1674.0 1254.0h0M1674.3 1255.8h0M1674.6 1259.6h0M1674.9 1255.5h0M1675.2 1258.0h0M1675.5 1255.5h0M1675.7 1255.7h0M1676.0 1253.7h0M1676.3 1262.8h0M1676.6 1258.6h0M1676.9 1258.6h0M1677.2 1258.6h0M1677.5 1253.1h0M1677.8 1253.8h0M1678.1 1255.3h0M1678.4 1251.5h0M1678.7 1253.5h0M1679.0 1257.9h0M1679.3 1250.4h0M1679.6 1253.5h0M1679.9 1255.6h0M1680.2 1255.6h0M1680.5 1255.8h0M1680.7 1254.0h0M1681.0 1258.2h0M1681.3 1250.0h0M1681.6 1257.0h0M1681.9 1252.2h0M1682.2 1254.2h0M1682.5 1255.9h0M1682.8 1260.2h0M1683.1 1253.8h0M1683.4 1252.5h0M1683.7 1258.6h0M1684.0 1256.0h0M1684.3 1256.2h0M1684.6 1257.6h0M1684.9 1258.8h0M1685.2 1256.7h0M1685.4 1250.9h0M1685.7 1255.8h0M1686.0 1256.4h0M1686.3 1253.4h0M1686.6 1253.8h0M1686.9 1258.0h0M1687.2 1257.0h0M1687.5 1254.1h0M1687.8 1257.9h0M1688.1 1256.8h0M1688.4 1253.2h0M1688.7 1255.8h0M1689.0 1253.2h0M1689.3 1254.4h0M1689.6 1257.4h0M1689.9 1253.5h0M1690.1 1253.5h0M1690.4 1257.6h0M1690.7 1254.1h0M1691.0 1256.0h0M1691.3 1256.1h0M1691.6 1256.3h0M1691.9 1257.7h0M1692.2 1255.7h0M1692.5 1254.8h0M1692.8 1255.7h0M1693.1 1259.8h0M1693.4 1259.2h0M1693.7 1256.8h0M1694.0 1260.0h0M1694.3 1258.7h0M1694.6 1254.2h0M1694.9 1260.8h0M1695.1 1264.1h0M1695.4 1257.9h0M1695.7 1252.9h0M1696.0 1260.9h0M1696.3 1258.6h0M1696.6 1256.8h0M1696.9 1252.0h0M1697.2 1256.9h0M1697.5 1256.4h0M1697.8 1256.4h0M1698.1 1256.1h0M1698.4 1259.7h0M1698.7 1256.2h0M1699.0 1258.4h0M1699.3 1252.5h0M1699.6 1254.8h0M1699.8 1257.3h0M1700.1 1255.1h0M1700.4 1257.5h0M1700.7 1257.3h0M1701.0 1257.9h0M1701.3 1256.6h0M1701.6 1259.1h0M1701.9 1254.0h0M1702.2 1256.5h0M1702.5 1261.4h0M1702.8 1256.5h0M1703.1 1261.4h0M1703.4 1258.4h0M1703.7 1257.0h0M1704.0 1257.8h0M1704.3 1261.7h0M1704.5 1256.8h0M1704.8 1254.8h0M1705.1 1258.9h0M1705.4 1259.5h0M1705.7 1259.9h0M1706.0 1253.9h0M1706.3 1258.8h0M1706.6 1257.9h0M1706.9 1257.2h0M1707.2 1256.6h0M1707.5 1259.0h0M1707.8 1257.7h0M1708.1 1257.7h0M1708.4 1262.9h0M1708.7 1258.0h0M1709.0 1255.0h0M1709.3 1255.6h0M1709.5 1256.0h0M1709.8 1253.9h0M1710.1 1260.7h0M1710.4 1262.7h0M1710.7 1255.1h0M1711.0 1260.3h0M1711.3 1256.1h0M1711.6 1256.3h0M1711.9 1253.6h0M1712.2 1257.9h0M1712.5 1261.2h0M1712.8 1261.3h0M1713.1 1259.4h0M1713.4 1257.5h0M1713.7 1261.2h0M1714.0 1262.5h0M1714.2 1256.2h0M1714.5 1258.9h0M1714.8 1258.1h0M1715.1 1256.6h0M1715.4 1255.3h0M1715.7 1256.2h0M1716.0 1258.6h0M1716.3 1258.9h0M1716.6 1258.7h0M1716.9 1261.6h0M1717.2 1256.6h0M1717.5 1255.2h0M1717.8 1255.4h0M1718.1 1259.4h0M1718.4 1257.0h0M1718.7 1254.3h0M1718.9 1260.8h0M1719.2 1262.0h0M1719.5 1258.9h0M1719.8 1260.1h0M1720.1 1255.0h0M1720.4 1255.0h0M1720.7 1258.9h0M1721.0 1259.1h0M1721.3 1258.1h0M1721.6 1257.8h0M1721.9 1257.0h0M1722.2 1262.2h0M1722.5 1256.5h0M1722.8 1258.3h0M1723.1 1261.3h0M1723.4 1256.1h0M1723.6 1259.0h0M1723.9 1258.4h0M1724.2 1260.3h0M1724.5 1252.6h0M1724.8 1258.0h0M1725.1 1256.8h0M1725.4 1261.5h0M1725.7 1258.6h0M1726.0 1257.4h0M1726.3 1261.0h0M1726.6 1260.4h0M1726.9 1261.4h0M1727.2 1261.6h0M1727.5 1260.8h0M1727.8 1257.4h0M1728.1 1259.6h0M1728.4 1259.7h0M1728.6 1259.8h0M1728.9 1259.8h0M1729.2 1259.2h0M1729.5 1257.9h0M1729.8 1258.8h0M1730.1 1256.5h0M1730.4 1256.8h0M1730.7 1260.8h0M1731.0 1258.2h0M1731.3 1259.3h0M1731.6 1257.7h0M1731.9 1255.0h0M1732.2 1258.1h0M1732.5 1263.2h0M1732.8 1258.9h0M1733.1 1257.4h0M1733.3 1262.3h0M1733.6 1258.0h0M1733.9 1257.6h0M1734.2 1255.3h0M1734.5 1254.9h0M1734.8 1260.3h0M1735.1 1259.6h0M1735.4 1259.4h0M1735.7 1261.0h0M1736.0 1258.1h0M1736.3 1259.3h0M1736.6 1257.1h0M1736.9 1257.2h0M1737.2 1257.5h0M1737.5 1261.8h0M1737.8 1261.1h0M1738.0 1256.9h0M1738.3 1258.6h0M1738.6 1259.7h0M1738.9 1257.4h0M1739.2 1261.1h0M1739.5 1257.5h0M1739.8 1257.9h0M1740.1 1258.6h0M1740.4 1254.9h0M1740.7 1255.1h0M1741.0 1257.4h0M1741.3 1262.5h0M1741.6 1261.0h0M1741.9 1260.7h0M1742.2 1258.0h0M1742.5 1258.4h0M1742.8 1259.7h0M1743.0 1260.3h0M1743.3 1255.8h0M1743.6 1257.9h0M1743.9 1257.7h0M1744.2 1263.0h0M1744.5 1258.3h0M1744.8 1257.7h0M1745.1 1261.8h0M1745.4 1257.7h0M1745.7 1262.1h0M1746.0 1257.3h0M1746.3 1264.5h0M1746.6 1259.6h0M1746.9 1260.1h0M1747.2 1259.2h0M1747.5 1259.7h0M1747.7 1259.9h0M1748.0 1259.0h0M1748.3 1263.0h0M1748.6 1254.2h0M1748.9 1254.4h0M1749.2 1259.0h0M1749.5 1259.6h0M1749.8 1263.6h0M1750.1 1261.3h0M1750.4 1260.0h0M1750.7 1258.0h0M1751.0 1264.9h0M1751.3 1262.2h0M1751.6 1266.4h0M1751.9 1256.3h0M1752.2 1264.4h0M1752.4 1259.8h0M1752.7 1258.0h0M1753.0 1260.4h0M1753.3 1260.4h0M1753.6 1259.4h0M1753.9 1256.5h0M1754.2 1259.3h0M1754.5 1257.0h0M1754.8 1260.4h0M1755.1 1256.8h0M1755.4 1260.8h0M1755.7 1259.2h0M1756.0 1262.7h0M1756.3 1258.3h0M1756.6 1256.9h0M1756.9 1256.8h0M1757.1 1261.0h0M1757.4 1270.2h0M1757.7 1256.9h0M1758.0 1258.8h0M1758.3 1264.2h0M1758.6 1262.0h0M1758.9 1263.6h0M1759.2 1261.2h0M1759.5 1261.6h0M1759.8 1260.6h0M1760.1 1257.7h0M1760.4 1261.0h0M1760.7 1258.0h0M1761.0 1262.0h0M1761.3 1253.7h0M1761.6 1255.3h0M1761.9 1260.1h0M1762.1 1260.7h0M1762.4 1265.1h0M1762.7 1258.4h0M1763.0 1262.0h0M1763.3 1256.0h0M1763.6 1266.4h0M1763.9 1254.0h0M1764.2 1264.3h0M1764.5 1259.6h0M1764.8 1255.9h0M1765.1 1259.1h0M1765.4 1262.7h0M1765.7 1260.1h0M1766.0 1258.4h0M1766.3 1260.9h0M1766.6 1260.5h0M1766.8 1262.8h0M1767.1 1262.2h0M1767.4 1259.3h0M1767.7 1258.6h0M1768.0 1260.6h0M1768.3 1260.2h0M1768.6 1261.2h0M1768.9 1258.0h0M1769.2 1260.9h0M1769.5 1258.6h0M1769.8 1262.0h0M1770.1 1261.3h0M1770.4 1260.0h0M1770.7 1256.7h0M1771.0 1263.5h0M1771.3 1258.6h0M1771.5 1259.5h0M1771.8 1260.5h0M1772.1 1261.8h0M1772.4 1259.4h0M1772.7 1259.5h0M1773.0 1257.2h0M1773.3 1263.4h0M1773.6 1259.6h0M1773.9 1259.7h0M1774.2 1255.7h0M1774.5 1259.4h0M1774.8 1263.1h0M1775.1 1263.5h0M1775.4 1258.3h0M1775.7 1261.1h0M1776.0 1262.5h0M1776.3 1257.4h0M1776.5 1260.0h0M1776.8 1262.8h0M1777.1 1263.8h0M1777.4 1257.4h0M1777.7 1258.3h0M1778.0 1264.0h0M1778.3 1260.1h0M1778.6 1262.0h0M1778.9 1258.2h0M1779.2 1264.0h0M1779.5 1262.1h0M1779.8 1264.7h0M1780.1 1258.8h0M1780.4 1259.8h0M1780.7 1258.2h0M1781.0 1258.1h0M1781.2 1257.9h0M1781.5 1261.6h0M1781.8 1258.9h0M1782.1 1261.1h0M1782.4 1259.4h0M1782.7 1262.0h0M1783.0 1263.2h0M1783.3 1263.2h0M1783.6 1263.3h0M1783.9 1260.8h0M1784.2 1263.0h0M1784.5 1260.6h0M1784.8 1259.2h0M1785.1 1258.2h0M1785.4 1261.2h0M1785.7 1262.0h0M1785.9 1268.3h0M1786.2 1260.2h0M1786.5 1265.0h0M1786.8 1257.5h0M1787.1 1261.2h0M1787.4 1267.3h0M1787.7 1260.6h0M1788.0 1259.2h0M1788.3 1259.0h0M1788.6 1267.1h0M1788.9 1264.7h0M1789.2 1260.2h0M1789.5 1260.5h0M1789.8 1255.4h0M1790.1 1261.2h0M1790.4 1265.5h0M1790.6 1256.8h0M1790.9 1264.4h0M1791.2 1263.3h0M1791.5 1265.7h0M1791.8 1260.4h0M1792.1 1262.4h0M1792.4 1265.2h0M1792.7 1263.1h0M1793.0 1263.6h0M1793.3 1261.1h0M1793.6 1261.4h0M1793.9 1260.5h0M1794.2 1262.2h0M1794.5 1262.0h0M1794.8 1261.3h0M1795.1 1256.6h0M1795.4 1258.5h0M1795.6 1261.8h0M1795.9 1264.9h0M1796.2 1259.8h0M1796.5 1260.7h0M1796.8 1262.0h0M1797.1 1264.5h0M1797.4 1266.2h0M1797.7 1262.8h0M1798.0 1262.1h0M1798.3 1260.1h0M1798.6 1263.1h0M1798.9 1261.4h0M1799.2 1262.6h0M1799.5 1260.0h0M1799.8 1264.9h0M1800.1 1261.2h0M1800.3 1258.4h0M1800.6 1262.2h0M1800.9 1259.5h0M1801.2 1263.6h0M1801.5 1265.6h0M1801.8 1263.7h0M1802.1 1261.9h0M1802.4 1260.3h0M1802.7 1261.1h0M1803.0 1267.7h0M1803.3 1265.0h0M1803.6 1259.9h0M1803.9 1260.1h0M1804.2 1263.4h0M1804.5 1262.7h0M1804.8 1262.8h0M1805.0 1264.1h0M1805.3 1259.9h0M1805.6 1260.6h0M1805.9 1265.1h0M1806.2 1263.4h0M1806.5 1262.0h0M1806.8 1262.4h0M1807.1 1264.3h0M1807.4 1263.5h0M1807.7 1261.1h0M1808.0 1259.8h0M1808.3 1264.7h0M1808.6 1257.3h0M1808.9 1267.9h0M1809.2 1259.9h0M1809.5 1261.3h0M1809.8 1265.5h0M1810.0 1266.4h0M1810.3 1263.0h0M1810.6 1256.3h0M1810.9 1262.6h0M1811.2 1257.7h0M1811.5 1261.7h0M1811.8 1265.0h0M1812.1 1264.9h0M1812.4 1263.3h0M1812.7 1263.6h0M1813.0 1264.5h0M1813.3 1262.0h0M1813.6 1262.1h0M1813.9 1266.0h0M1814.2 1264.3h0M1814.5 1266.1h0M1814.7 1264.1h0M1815.0 1264.1h0M1815.3 1265.2h0M1815.6 1264.9h0M1815.9 1267.4h0M1816.2 1264.6h0M1816.5 1262.0h0M1816.8 1262.2h0M1817.1 1260.9h0M1817.4 1263.8h0M1817.7 1261.5h0M1818.0 1257.4h0M1818.3 1264.9h0M1818.6 1266.9h0M1818.9 1259.3h0M1819.2 1265.7h0M1819.4 1263.8h0M1819.7 1260.8h0M1820.0 1261.6h0M1820.3 1262.9h0M1820.6 1269.0h0M1820.9 1264.0h0M1821.2 1267.3h0M1821.5 1261.9h0M1821.8 1266.1h0M1822.1 1265.4h0M1822.4 1261.8h0M1822.7 1262.0h0M1823.0 1264.7h0M1823.3 1259.6h0M1823.6 1263.4h0M1823.9 1260.3h0M1824.1 1263.5h0M1824.4 1264.6h0M1824.7 1265.3h0M1825.0 1264.6h0M1825.3 1263.1h0M1825.6 1262.3h0M1825.9 1261.5h0M1826.2 1262.1h0M1826.5 1262.6h0M1826.8 1262.4h0M1827.1 1264.1h0M1827.4 1262.0h0M1827.7 1259.8h0M1828.0 1265.4h0M1828.3 1261.9h0M1828.6 1259.6h0M1828.9 1261.5h0M1829.1 1262.9h0M1829.4 1263.2h0M1829.7 1264.3h0M1830.0 1268.5h0M1830.3 1260.5h0M1830.6 1267.8h0M1830.9 1264.2h0M1831.2 1263.1h0M1831.5 1258.3h0M1831.8 1263.1h0M1832.1 1265.5h0M1832.4 1261.3h0M1832.7 1260.1h0M1833.0 1260.7h0M1833.3 1264.3h0M1833.6 1264.0h0M1833.8 1267.9h0M1834.1 1262.8h0M1834.4 1265.9h0M1834.7 1260.9h0M1835.0 1263.4h0M1835.3 1266.7h0M1835.6 1263.3h0M1835.9 1265.3h0M1836.2 1260.9h0M1836.5 1261.7h0M1836.8 1262.7h0M1837.1 1261.3h0M1837.4 1262.9h0M1837.7 1267.7h0M1838.0 1263.5h0M1838.3 1264.7h0M1838.5 1268.0h0M1838.8 1264.2h0M1839.1 1263.8h0M1839.4 1263.0h0M1839.7 1266.9h0M1840.0 1266.5h0M1840.3 1269.3h0M1840.6 1269.3h0M1840.9 1260.6h0M1841.2 1266.2h0M1841.5 1269.5h0M1841.8 1265.1h0M1842.1 1264.7h0M1842.4 1261.5h0M1842.7 1267.2h0M1843.0 1261.9h0M1843.3 1264.8h0M1843.5 1263.6h0M1843.8 1265.6h0M1844.1 1262.5h0M1844.4 1263.4h0M1844.7 1267.0h0M1845.0 1264.4h0M1845.3 1266.7h0M1845.6 1262.8h0M1845.9 1268.2h0M1846.2 1265.8h0M1846.5 1267.6h0M1846.8 1266.5h0M1847.1 1260.7h0M1847.4 1258.2h0M1847.7 1267.2h0M1848.0 1263.4h0M1848.2 1263.6h0M1848.5 1262.5h0M1848.8 1263.2h0M1849.1 1265.3h0M1849.4 1266.8h0M1849.7 1263.9h0M1850.0 1259.2h0M1850.3 1266.1h0M1850.6 1265.4h0M1850.9 1263.1h0M1851.2 1261.4h0M1851.5 1261.3h0M1851.8 1267.8h0M1852.1 1263.2h0M1852.4 1267.7h0M1852.7 1264.1h0M1852.9 1266.9h0M1853.2 1262.4h0M1853.5 1261.6h0M1853.8 1264.2h0M1854.1 1260.4h0M1854.4 1261.4h0M1854.7 1265.9h0M1855.0 1271.7h0M1855.3 1265.2h0M1855.6 1260.7h0M1855.9 1262.2h0M1856.2 1265.2h0M1856.5 1264.4h0M1856.8 1270.7h0M1857.1 1269.5h0M1857.4 1264.1h0M1857.6 1270.0h0M1857.9 1262.5h0M1858.2 1262.5h0M1858.5 1268.4h0M1858.8 1262.3h0M1859.1 1263.5h0M1859.4 1268.8h0M1859.7 1263.9h0M1860.0 1268.3h0M1860.3 1266.7h0M1860.6 1263.9h0M1860.9 1266.5h0M1861.2 1267.7h0M1861.5 1267.0h0M1861.8 1262.9h0M1862.1 1267.3h0M1862.4 1259.2h0M1862.6 1264.2h0M1862.9 1265.1h0M1863.2 1267.3h0M1863.5 1268.4h0M1863.8 1261.6h0M1864.1 1263.6h0M1864.4 1264.4h0M1864.7 1263.8h0M1865.0 1265.9h0M1865.3 1266.6h0M1865.6 1266.7h0M1865.9 1264.1h0M1866.2 1272.9h0M1866.5 1262.1h0M1866.8 1264.5h0M1867.1 1268.9h0M1867.3 1267.1h0M1867.6 1267.0h0M1867.9 1268.2h0M1868.2 1264.6h0M1868.5 1265.4h0M1868.8 1267.9h0M1869.1 1269.2h0M1869.4 1262.0h0M1869.7 1263.9h0M1870.0 1265.2h0M1870.3 1267.5h0M1870.6 1262.2h0M1870.9 1267.6h0M1871.2 1263.6h0M1871.5 1267.1h0M1871.8 1265.9h0M1872.0 1269.0h0M1872.3 1262.7h0M1872.6 1266.7h0M1872.9 1264.6h0M1873.2 1263.6h0M1873.5 1267.7h0M1873.8 1262.9h0M1874.1 1267.1h0M1874.4 1262.8h0M1874.7 1262.4h0M1875.0 1267.0h0M1875.3 1270.6h0M1875.6 1266.5h0M1875.9 1263.0h0M1876.2 1266.1h0M1876.5 1264.6h0M1876.8 1263.7h0M1877.0 1265.8h0M1877.3 1266.6h0M1877.6 1267.3h0M1877.9 1262.8h0M1878.2 1269.4h0M1878.5 1264.6h0M1878.8 1261.3h0M1879.1 1263.2h0M1879.4 1265.6h0M1879.7 1263.2h0M1880.0 1265.8h0M1880.3 1263.1h0M1880.6 1267.8h0M1880.9 1265.7h0M1881.2 1264.7h0M1881.5 1267.7h0M1881.7 1263.0h0M1882.0 1264.9h0M1882.3 1266.8h0M1882.6 1266.2h0M1882.9 1265.5h0M1883.2 1267.5h0M1883.5 1264.0h0M1883.8 1265.3h0M1884.1 1263.2h0M1884.4 1265.2h0M1884.7 1262.5h0M1885.0 1262.4h0M1885.3 1265.3h0M1885.6 1262.8h0M1885.9 1267.2h0M1886.2 1267.7h0M1886.4 1266.8h0M1886.7 1267.2h0M1887.0 1266.6h0M1887.3 1261.6h0M1887.6 1262.6h0M1887.9 1266.2h0M1888.2 1262.7h0M1888.5 1263.7h0M1888.8 1265.3h0M1889.1 1266.2h0M1889.4 1261.5h0M1889.7 1265.5h0M1890.0 1267.5h0M1890.3 1266.3h0M1890.6 1269.1h0M1890.9 1264.3h0M1891.1 1268.6h0M1891.4 1270.8h0M1891.7 1267.2h0M1892.0 1267.9h0M1892.3 1268.0h0M1892.6 1260.1h0M1892.9 1263.8h0M1893.2 1268.2h0M1893.5 1262.4h0M1893.8 1266.2h0M1894.1 1266.8h0M1894.4 1268.6h0M1894.7 1265.2h0M1895.0 1267.7h0M1895.3 1265.5h0M1895.6 1269.4h0M1895.9 1264.0h0M1896.1 1264.2h0M1896.4 1266.5h0M1896.7 1269.6h0M1897.0 1266.2h0M1897.3 1265.5h0M1897.6 1264.0h0M1897.9 1268.1h0M1898.2 1263.9h0M1898.5 1264.9h0M1898.8 1264.9h0M1899.1 1268.3h0M1899.4 1263.5h0M1899.7 1263.5h0M1900.0 1266.1h0M1900.3 1265.7h0M1900.6 1261.9h0M1900.8 1263.4h0M1901.1 1264.0h0M1901.4 1265.7h0M1901.7 1263.5h0M1902.0 1270.4h0M1902.3 1266.3h0M1902.6 1268.6h0M1902.9 1266.4h0M1903.2 1266.2h0M1903.5 1267.4h0M1903.8 1264.8h0M1904.1 1261.2h0M1904.4 1266.7h0M1904.7 1263.8h0M1905.0 1268.9h0M1905.3 1263.4h0M1905.5 1266.0h0M1905.8 1265.7h0M1906.1 1264.3h0M1906.4 1264.7h0M1906.7 1265.3h0M1907.0 1266.1h0M1907.3 1266.3h0M1907.6 1265.8h0M1907.9 1265.7h0M1908.2 1260.2h0M1908.5 1269.1h0M1908.8 1267.4h0M1909.1 1262.6h0M1909.4 1263.7h0M1909.7 1260.5h0M1910.0 1258.5h0M1910.3 1264.6h0M1910.5 1269.9h0M1910.8 1266.1h0M1911.1 1266.3h0M1911.4 1266.0h0M1911.7 1267.2h0M1912.0 1265.7h0M1912.3 1263.8h0M1912.6 1264.4h0M1912.9 1267.5h0M1913.2 1264.8h0M1913.5 1261.1h0M1913.8 1267.2h0M1914.1 1266.4h0M1914.4 1269.1h0M1914.7 1266.1h0M1915.0 1265.9h0M1915.2 1265.6h0M1915.5 1263.9h0M1915.8 1266.5h0M1916.1 1264.6h0M1916.4 1263.3h0M1916.7 1265.6h0M1917.0 1266.1h0M1917.3 1266.8h0M1917.6 1267.5h0M1917.9 1271.3h0M1918.2 1265.2h0M1918.5 1269.2h0M1918.8 1265.9h0M1919.1 1266.4h0M1919.4 1267.9h0M1919.7 1263.8h0M1919.9 1265.7h0M1920.2 1267.6h0M1920.5 1262.4h0M1920.8 1263.6h0M1921.1 1264.8h0M1921.4 1265.9h0M1921.7 1267.8h0M1922.0 1262.8h0M1922.3 1269.3h0M1922.6 1267.7h0M1922.9 1267.4h0M1923.2 1261.1h0M1923.5 1266.7h0M1923.8 1264.0h0M1924.1 1267.7h0M1924.4 1265.7h0M1924.6 1264.9h0M1924.9 1263.7h0M1925.2 1265.4h0M1925.5 1267.6h0M1925.8 1261.9h0M1926.1 1264.1h0M1926.4 1265.3h0M1926.7 1265.5h0M1927.0 1264.8h0M1927.3 1266.4h0M1927.6 1266.2h0M1927.9 1260.8h0M1928.2 1268.5h0M1928.5 1262.5h0M1928.8 1268.8h0M1929.1 1267.9h0M1929.4 1261.7h0M1929.6 1266.2h0M1929.9 1269.3h0M1930.2 1269.4h0M1930.5 1266.8h0M1930.8 1264.1h0M1931.1 1269.0h0M1931.4 1262.3h0M1931.7 1262.3h0M1932.0 1267.9h0M1932.3 1263.0h0M1932.6 1267.4h0M1932.9 1263.4h0M1933.2 1264.5h0M1933.5 1268.9h0M1933.8 1265.8h0M1934.1 1267.6h0M1934.3 1265.6h0M1934.6 1264.9h0M1934.9 1264.3h0M1935.2 1263.8h0M1935.5 1267.0h0M1935.8 1267.2h0M1936.1 1270.1h0M1936.4 1266.8h0M1936.7 1265.4h0M1937.0 1268.3h0M1937.3 1269.6h0M1937.6 1262.5h0M1937.9 1270.2h0M1938.2 1264.1h0M1938.5 1264.1h0M1938.8 1272.4h0M1939.0 1268.8h0M1939.3 1264.7h0M1939.6 1268.2h0M1939.9 1269.4h0M1940.2 1267.8h0M1940.5 1268.8h0M1940.8 1267.0h0M1941.1 1267.4h0M1941.4 1263.3h0M1941.7 1263.6h0M1942.0 1266.6h0M1942.3 1262.8h0M1942.6 1267.7h0M1942.9 1265.9h0M1943.2 1269.0h0M1943.5 1268.3h0M1943.8 1265.1h0M1944.0 1259.5h0M1944.3 1262.5h0M1944.6 1266.1h0M1944.9 1271.1h0M1945.2 1266.1h0M1945.5 1267.5h0M1945.8 1266.0h0M1946.1 1259.6h0M1946.4 1267.6h0M1946.7 1265.5h0M1947.0 1262.4h0M1947.3 1267.8h0M1947.6 1266.0h0M1947.9 1273.3h0M1948.2 1260.7h0M1948.5 1264.1h0M1948.7 1266.2h0M1949.0 1265.2h0M1949.3 1267.7h0M1949.6 1268.3h0M1949.9 1267.3h0M1950.2 1266.3h0M1950.5 1264.4h0M1950.8 1266.5h0M1951.1 1268.3h0M1951.4 1266.4h0M1951.7 1261.0h0M1952.0 1270.2h0M1952.3 1264.9h0M1952.6 1268.3h0M1952.9 1264.9h0M1953.2 1268.8h0M1953.4 1265.3h0M1953.7 1269.8h0M1954.0 1269.3h0M1954.3 1264.5h0M1954.6 1258.9h0M1954.9 1266.9h0M1955.2 1263.7h0M1955.5 1268.5h0M1955.8 1267.0h0M1956.1 1265.2h0M1956.4 1263.8h0M1956.7 1264.0h0M1957.0 1269.7h0M1957.3 1268.5h0M1957.6 1265.6h0M1957.9 1266.9h0M1958.2 1268.3h0M1958.4 1265.6h0M1958.7 1261.6h0M1959.0 1270.2h0M1959.3 1265.3h0M1959.6 1264.6h0M1959.9 1266.1h0M1960.2 1263.7h0M1960.5 1263.4h0M1960.8 1266.6h0M1961.1 1264.3h0M1961.4 1267.1h0M1961.7 1267.1h0M1962.0 1270.9h0M1962.3 1265.4h0M1962.6 1266.3h0M1962.9 1264.7h0M1963.1 1269.0h0M1963.4 1267.3h0M1963.7 1267.0h0M1964.0 1270.7h0M1964.3 1266.8h0M1964.6 1266.7h0M1964.9 1262.8h0M1965.2 1261.8h0M1965.5 1264.8h0M1965.8 1266.3h0M1966.1 1263.4h0M1966.4 1263.7h0M1966.7 1267.9h0M1967.0 1264.6h0M1967.3 1264.6h0M1967.6 1265.2h0M1967.8 1263.3h0M1968.1 1268.1h0M1968.4 1269.5h0M1968.7 1268.6h0M1969.0 1269.8h0M1969.3 1261.2h0M1969.6 1268.2h0M1969.9 1265.7h0M1970.2 1269.4h0M1970.5 1264.4h0M1970.8 1268.0h0M1971.1 1270.4h0M1971.4 1267.5h0M1971.7 1266.3h0M1972.0 1265.6h0M1972.3 1267.3h0M1972.5 1265.6h0M1972.8 1263.2h0M1973.1 1267.6h0M1973.4 1270.1h0M1973.7 1267.0h0M1974.0 1268.7h0M1974.3 1269.0h0M1974.6 1266.1h0M1974.9 1265.9h0M1975.2 1264.1h0M1975.5 1266.6h0M1975.8 1267.3h0M1976.1 1263.7h0M1976.4 1265.3h0M1976.7 1268.6h0M1977.0 1264.4h0M1977.3 1267.8h0M1977.5 1266.9h0M1977.8 1265.2h0M1978.1 1268.2h0M1978.4 1267.5h0M1978.7 1265.8h0M1979.0 1266.2h0M1979.3 1266.9h0M1979.6 1267.2h0M1979.9 1267.0h0M1980.2 1267.7h0M1980.5 1264.7h0M1980.8 1269.6h0M1981.1 1265.7h0M1981.4 1265.5h0M1981.7 1269.2h0M1982.0 1268.4h0M1982.2 1261.4h0M1982.5 1265.9h0M1982.8 1267.8h0M1983.1 1267.3h0M1983.4 1261.8h0M1983.7 1264.2h0M1984.0 1264.0h0M1984.3 1268.8h0M1984.6 1268.0h0M1984.9 1266.8h0M1985.2 1265.8h0M1985.5 1263.9h0M1985.8 1268.5h0M1986.1 1260.5h0M1986.4 1267.2h0M1986.7 1267.3h0M1986.9 1266.6h0M1987.2 1265.8h0M1987.5 1266.2h0M1987.8 1267.5h0M1988.1 1264.2h0M1988.4 1267.6h0M1988.7 1265.8h0M1989.0 1266.0h0M1989.3 1259.2h0M1989.6 1262.5h0M1989.9 1265.2h0M1990.2 1264.1h0M1990.5 1268.0h0M1990.8 1262.1h0M1991.1 1268.7h0M1991.4 1267.7h0M1991.7 1266.3h0M1991.9 1264.5h0M1992.2 1262.8h0M1992.5 1262.7h0M1992.8 1263.9h0M1993.1 1265.6h0M1993.4 1267.3h0M1993.7 1267.4h0M1994.0 1268.3h0M1994.3 1270.3h0M1994.6 1262.7h0M1994.9 1264.3h0M1995.2 1268.3h0M1995.5 1263.6h0M1995.8 1268.1h0M1996.1 1265.7h0M1996.4 1262.2h0M1996.6 1266.7h0M1996.9 1266.2h0M1997.2 1263.6h0M1997.5 1259.7h0M1997.8 1266.3h0M1998.1 1266.7h0M1998.4 1267.6h0M1998.7 1266.6h0M1999.0 1263.8h0M1999.3 1261.5h0M1999.6 1265.2h0M1999.9 1267.9h0M2000.2 1265.3h0M2000.5 1262.5h0M2000.8 1261.4h0M2001.1 1259.1h0M2001.3 1266.0h0M2001.6 1266.6h0M2001.9 1260.2h0M2002.2 1264.0h0M2002.5 1269.0h0M2002.8 1260.3h0M2003.1 1269.2h0M2003.4 1268.3h0M2003.7 1267.6h0M2004.0 1266.7h0M2004.3 1266.7h0M2004.6 1267.0h0M2004.9 1269.5h0M2005.2 1262.8h0M2005.5 1261.1h0M2005.8 1260.6h0M2006.0 1266.0h0M2006.3 1268.0h0M2006.6 1263.7h0M2006.9 1266.5h0M2007.2 1266.0h0M2007.5 1268.3h0M2007.8 1267.2h0M2008.1 1266.5h0M2008.4 1263.8h0M2008.7 1264.5h0M2009.0 1267.6h0M2009.3 1265.8h0M2009.6 1268.6h0M2009.9 1262.8h0M2010.2 1267.7h0M2010.5 1264.9h0M2010.8 1266.4h0M2011.0 1261.1h0M2011.3 1267.0h0M2011.6 1263.1h0M2011.9 1268.3h0M2012.2 1267.5h0M2012.5 1263.8h0M2012.8 1269.0h0M2013.1 1269.1h0M2013.4 1269.6h0M2013.7 1268.4h0M2014.0 1264.5h0M2014.3 1268.9h0M2014.6 1262.3h0M2014.9 1264.6h0M2015.2 1266.2h0M2015.5 1261.4h0M2015.7 1268.3h0M2016.0 1266.9h0M2016.3 1265.0h0M2016.6 1260.1h0M2016.9 1263.7h0M2017.2 1267.3h0M2017.5 1266.9h0M2017.8 1263.1h0M2018.1 1262.1h0M2018.4 1265.4h0M2018.7 1262.5h0M2019.0 1261.3h0M2019.3 1268.8h0M2019.6 1265.3h0M2019.9 1266.2h0M2020.2 1264.7h0M2020.4 1267.6h0M2020.7 1267.6h0M2021.0 1264.9h0M2021.3 1264.2h0M2021.6 1264.3h0M2021.9 1267.5h0M2022.2 1265.6h0M2022.5 1262.3h0M2022.8 1268.5h0M2023.1 1265.3h0M2023.4 1266.5h0M2023.7 1268.7h0M2024.0 1266.5h0M2024.3 1267.2h0M2024.6 1265.0h0M2024.9 1266.7h0M2025.2 1267.4h0M2025.4 1266.2h0M2025.7 1265.0h0M2026.0 1264.8h0M2026.3 1264.5h0M2026.6 1265.8h0M2026.9 1264.0h0M2027.2 1266.6h0M2027.5 1264.1h0M2027.8 1267.6h0M2028.1 1265.5h0M2028.4 1263.6h0M2028.7 1266.2h0M2029.0 1262.5h0M2029.3 1272.5h0M2029.6 1263.5h0M2029.9 1264.8h0M2030.1 1268.6h0M2030.4 1263.8h0M2030.7 1262.9h0M2031.0 1262.8h0M2031.3 1267.9h0M2031.6 1262.4h0M2031.9 1269.3h0M2032.2 1266.7h0M2032.5 1264.8h0M2032.8 1267.9h0M2033.1 1265.1h0M2033.4 1264.5h0M2033.7 1262.1h0M2034.0 1261.6h0M2034.3 1265.7h0M2034.6 1260.2h0M2034.8 1261.3h0M2035.1 1261.4h0M2035.4 1264.9h0M2035.7 1261.7h0M2036.0 1264.6h0M2036.3 1271.2h0M2036.6 1265.1h0M2036.9 1269.3h0M2037.2 1265.4h0M2037.5 1262.3h0M2037.8 1263.6h0M2038.1 1263.3h0M2038.4 1266.0h0M2038.7 1266.6h0M2039.0 1265.3h0M2039.3 1263.9h0M2039.5 1263.0h0M2039.8 1263.9h0M2040.1 1262.7h0M2040.4 1263.0h0M2040.7 1270.9h0M2041.0 1267.1h0M2041.3 1262.3h0M2041.6 1264.9h0M2041.9 1265.7h0M2042.2 1264.8h0M2042.5 1263.2h0M2042.8 1265.7h0M2043.1 1265.2h0M2043.4 1266.0h0M2043.7 1267.6h0M2044.0 1263.5h0M2044.3 1265.3h0M2044.5 1263.7h0M2044.8 1262.7h0M2045.1 1263.5h0M2045.4 1265.4h0M2045.7 1263.5h0M2046.0 1262.5h0M2046.3 1263.1h0M2046.6 1265.2h0M2046.9 1268.3h0M2047.2 1268.0h0M2047.5 1261.0h0M2047.8 1264.1h0M2048.1 1266.3h0M2048.4 1263.9h0M2048.7 1264.5h0M2049.0 1262.6h0M2049.2 1265.3h0M2049.5 1264.6h0M2049.8 1262.8h0M2050.1 1266.2h0M2050.4 1267.4h0M2050.7 1266.1h0M2051.0 1262.1h0M2051.3 1265.6h0M2051.6 1266.8h0M2051.9 1267.6h0M2052.2 1267.8h0M2052.5 1267.2h0M2052.8 1264.5h0M2053.1 1266.2h0M2053.4 1266.6h0M2053.7 1265.2h0M2053.9 1265.7h0M2054.2 1262.4h0M2054.5 1265.7h0M2054.8 1263.9h0M2055.1 1264.6h0M2055.4 1269.1h0M2055.7 1265.5h0M2056.0 1265.7h0M2056.3 1263.4h0M2056.6 1261.3h0M2056.9 1262.0h0M2057.2 1264.1h0M2057.5 1264.4h0M2057.8 1260.6h0M2058.1 1263.3h0M2058.4 1264.9h0M2058.7 1262.9h0M2058.9 1264.0h0M2059.2 1265.2h0M2059.5 1267.9h0M2059.8 1265.7h0M2060.1 1268.6h0M2060.4 1261.6h0M2060.7 1268.1h0M2061.0 1264.5h0M2061.3 1267.3h0M2061.6 1269.7h0M2061.9 1267.2h0M2062.2 1266.0h0M2062.5 1268.8h0M2062.8 1263.8h0M2063.1 1267.5h0M2063.4 1265.9h0M2063.6 1265.9h0M2063.9 1263.5h0M2064.2 1265.8h0M2064.5 1265.8h0M2064.8 1264.9h0M2065.1 1265.8h0M2065.4 1261.6h0M2065.7 1267.2h0M2066.0 1264.4h0M2066.3 1265.6h0M2066.6 1263.4h0M2066.9 1264.1h0M2067.2 1263.4h0M2067.5 1268.0h0M2067.8 1263.0h0M2068.1 1263.1h0M2068.3 1264.5h0M2068.6 1262.0h0M2068.9 1262.5h0M2069.2 1265.5h0M2069.5 1265.7h0M2069.8 1266.8h0M2070.1 1266.0h0M2070.4 1262.8h0M2070.7 1262.4h0M2071.0 1267.5h0M2071.3 1259.6h0M2071.6 1265.3h0M2071.9 1266.6h0M2072.2 1267.8h0M2072.5 1268.3h0M2072.8 1267.6h0M2073.0 1269.6h0M2073.3 1260.6h0M2073.6 1264.2h0M2073.9 1265.8h0M2074.2 1259.5h0M2074.5 1263.1h0M2074.8 1267.8h0M2075.1 1263.3h0M2075.4 1269.3h0M2075.7 1266.5h0M2076.0 1267.8h0M2076.3 1267.0h0M2076.6 1266.3h0M2076.9 1266.6h0M2077.2 1262.9h0M2077.5 1269.1h0M2077.8 1264.4h0M2078.0 1263.0h0M2078.3 1266.1h0M2078.6 1261.6h0M2078.9 1270.1h0M2079.2 1270.8h0M2079.5 1267.9h0M2079.8 1262.8h0M2080.1 1266.2h0M2080.4 1265.8h0M2080.7 1263.8h0M2081.0 1264.4h0M2081.3 1266.2h0M2081.6 1263.9h0M2081.9 1265.1h0M2082.2 1265.3h0M2082.5 1262.1h0M2082.7 1264.4h0M2083.0 1264.2h0M2083.3 1269.2h0M2083.6 1265.6h0M2083.9 1266.3h0M2084.2 1265.9h0M2084.5 1265.3h0M2084.8 1265.5h0M2085.1 1265.1h0M2085.4 1256.3h0M2085.7 1265.4h0M2086.0 1263.8h0M2086.3 1264.6h0M2086.6 1263.1h0M2086.9 1263.2h0M2087.2 1265.4h0M2087.4 1264.3h0M2087.7 1265.5h0M2088.0 1266.0h0M2088.3 1265.4h0M2088.6 1265.7h0M2088.9 1264.0h0M2089.2 1264.9h0M2089.5 1267.0h0M2089.8 1265.1h0M2090.1 1267.0h0M2090.4 1265.7h0M2090.7 1268.0h0M2091.0 1263.2h0M2091.3 1266.3h0M2091.6 1267.6h0M2091.9 1263.8h0M2092.2 1266.0h0M2092.4 1266.5h0M2092.7 1265.4h0M2093.0 1267.9h0M2093.3 1266.5h0M2093.6 1265.1h0M2093.9 1267.8h0M2094.2 1266.6h0M2094.5 1272.6h0M2094.8 1262.0h0M2095.1 1266.2h0M2095.4 1265.7h0M2095.7 1265.8h0M2096.0 1260.9h0M2096.3 1266.0h0M2096.6 1264.5h0M2096.9 1267.6h0M2097.1 1263.2h0M2097.4 1270.0h0M2097.7 1265.8h0M2098.0 1264.7h0M2098.3 1266.6h0M2098.6 1262.4h0M2098.9 1263.4h0M2099.2 1267.3h0M2099.5 1265.2h0M2099.8 1266.1h0M2100.1 1260.5h0M2100.4 1262.6h0M2100.7 1261.8h0M2101.0 1269.9h0M2101.3 1265.6h0M2101.6 1269.1h0M2101.8 1265.3h0M2102.1 1268.5h0M2102.4 1264.7h0M2102.7 1264.9h0M2103.0 1265.7h0M2103.3 1266.2h0M2103.6 1261.2h0M2103.9 1266.0h0M2104.2 1263.8h0M2104.5 1264.4h0M2104.8 1265.4h0M2105.1 1265.1h0M2105.4 1266.0h0M2105.7 1268.8h0M2106.0 1268.9h0M2106.3 1270.4h0M2106.5 1264.7h0M2106.8 1266.0h0M2107.1 1265.6h0M2107.4 1265.3h0M2107.7 1267.9h0M2108.0 1268.2h0M2108.3 1266.2h0M2108.6 1266.9h0M2108.9 1269.6h0M2109.2 1266.3h0M2109.5 1269.3h0M2109.8 1266.7h0M2110.1 1267.9h0M2110.4 1271.3h0M2110.7 1265.5h0M2111.0 1267.8h0M2111.3 1269.9h0M2111.5 1267.3h0M2111.8 1270.2h0M2112.1 1273.2h0M2112.4 1270.5h0M2112.7 1267.0h0M2113.0 1265.2h0M2113.3 1267.7h0M2113.6 1265.9h0M2113.9 1265.4h0M2114.2 1269.1h0M2114.5 1268.9h0M2114.8 1263.4h0M2115.1 1266.1h0M2115.4 1264.9h0M2115.7 1269.0h0M2116.0 1268.4h0M2116.2 1269.8h0M2116.5 1267.5h0M2116.8 1268.8h0M2117.1 1269.3h0M2117.4 1267.5h0M2117.7 1269.8h0M2118.0 1263.3h0M2118.3 1270.1h0M2118.6 1264.5h0M2118.9 1266.9h0M2119.2 1268.3h0M2119.5 1268.1h0M2119.8 1264.5h0M2120.1 1267.9h0M2120.4 1262.5h0M2120.7 1267.2h0M2120.9 1266.7h0M2121.2 1271.4h0M2121.5 1267.1h0M2121.8 1266.1h0M2122.1 1266.2h0M2122.4 1265.8h0M2122.7 1267.9h0M2123.0 1268.4h0M2123.3 1271.8h0M2123.6 1264.9h0M2123.9 1269.4h0M2124.2 1264.6h0M2124.5 1267.3h0M2124.8 1270.8h0M2125.1 1271.0h0M2125.4 1270.2h0M2125.7 1266.8h0M2125.9 1270.5h0M2126.2 1271.8h0M2126.5 1264.9h0M2126.8 1267.0h0M2127.1 1268.5h0M2127.4 1268.9h0M2127.7 1269.1h0M2128.0 1267.9h0M2128.3 1266.8h0M2128.6 1269.7h0M2128.9 1266.7h0M2129.2 1268.1h0M2129.5 1269.7h0M2129.8 1269.6h0M2130.1 1270.7h0M2130.4 1270.8h0M2130.6 1270.3h0M2130.9 1272.3h0M2131.2 1265.5h0M2131.5 1269.3h0M2131.8 1269.3h0M2132.1 1268.3h0M2132.4 1268.8h0M2132.7 1269.8h0M2133.0 1268.1h0M2133.3 1273.8h0M2133.6 1273.7h0M2133.9 1267.9h0M2134.2 1271.5h0M2134.5 1271.1h0M2134.8 1269.6h0M2135.1 1268.7h0M2135.3 1270.4h0M2135.6 1269.5h0M2135.9 1267.9h0M2136.2 1271.3h0M2136.5 1269.6h0M2136.8 1271.9h0M2137.1 1266.2h0M2137.4 1267.4h0M2137.7 1261.9h0M2138.0 1268.3h0M2138.3 1266.6h0M2138.6 1270.7h0M2138.9 1271.7h0M2139.2 1269.6h0M2139.5 1271.5h0M2139.8 1267.7h0M2140.0 1266.4h0M2140.3 1272.7h0M2140.6 1271.8h0M2140.9 1271.2h0M2141.2 1268.7h0M2141.5 1271.9h0M2141.8 1271.0h0M2142.1 1275.8h0M2142.4 1263.2h0M2142.7 1266.6h0M2143.0 1271.6h0M2143.3 1271.4h0M2143.6 1271.1h0M2143.9 1269.2h0M2144.2 1268.1h0M2144.5 1273.6h0M2144.8 1272.4h0M2145.0 1270.5h0M2145.3 1270.7h0M2145.6 1273.8h0M2145.9 1267.4h0M2146.2 1264.9h0M2146.5 1269.5h0M2146.8 1267.4h0M2147.1 1271.9h0M2147.4 1271.6h0M2147.7 1271.6h0M2148.0 1269.3h0M2148.3 1268.5h0M2148.6 1270.9h0M2148.9 1265.0h0M2149.2 1266.3h0M2149.5 1267.5h0M2149.7 1266.7h0M2150.0 1270.0h0M2150.3 1267.3h0M2150.6 1271.6h0M2150.9 1269.8h0M2151.2 1266.1h0M2151.5 1264.2h0M2151.8 1274.5h0M2152.1 1270.8h0M2152.4 1271.1h0M2152.7 1268.9h0M2153.0 1267.8h0M2153.3 1273.3h0M2153.6 1267.3h0M2153.9 1269.2h0M2154.2 1270.2h0M2154.4 1268.1h0M2154.7 1268.9h0M2155.0 1268.9h0M2155.3 1269.0h0M2155.6 1274.0h0M2155.9 1270.4h0M2156.2 1272.7h0M2156.5 1268.2h0M2156.8 1269.0h0M2157.1 1268.8h0M2157.4 1266.6h0M2157.7 1270.4h0M2158.0 1267.0h0M2158.3 1267.6h0M2158.6 1270.4h0M2158.9 1271.1h0M2159.2 1268.6h0M2159.4 1270.8h0M2159.7 1273.4h0M2160.0 1274.0h0M2160.3 1272.7h0M2160.6 1269.8h0M2160.9 1273.6h0M2161.2 1269.9h0M2161.5 1269.9h0M2161.8 1273.0h0M2162.1 1271.6h0M2162.4 1271.9h0M2162.7 1268.7h0M2163.0 1270.1h0M2163.3 1271.5h0M2163.6 1272.0h0M2163.9 1272.1h0M2164.1 1266.6h0M2164.4 1276.2h0M2164.7 1272.8h0M2165.0 1268.9h0M2165.3 1273.7h0M2165.6 1270.6h0M2165.9 1270.0h0M2166.2 1274.9h0M2166.5 1268.3h0M2166.8 1268.6h0M2167.1 1269.0h0M2167.4 1269.7h0M2167.7 1278.9h0M2168.0 1270.0h0M2168.3 1268.7h0M2168.6 1271.6h0M2168.8 1273.0h0M2169.1 1274.2h0M2169.4 1269.2h0M2169.7 1276.0h0M2170.0 1271.7h0M2170.3 1269.2h0M2170.6 1269.4h0M2170.9 1272.5h0M2171.2 1271.4h0M2171.5 1270.3h0M2171.8 1271.8h0M2172.1 1277.0h0M2172.4 1274.9h0M2172.7 1270.3h0M2173.0 1269.8h0M2173.3 1273.9h0M2173.5 1269.0h0M2173.8 1267.1h0M2174.1 1269.2h0M2174.4 1268.3h0M2174.7 1268.0h0M2175.0 1271.0h0M2175.3 1269.6h0M2175.6 1270.7h0M2175.9 1272.4h0M2176.2 1270.3h0M2176.5 1268.1h0M2176.8 1269.4h0M2177.1 1273.7h0M2177.4 1269.0h0M2177.7 1268.9h0M2178.0 1272.7h0M2178.3 1269.4h0M2178.5 1269.5h0M2178.8 1272.3h0M2179.1 1271.4h0M2179.4 1270.4h0M2179.7 1270.8h0M2180.0 1274.4h0M2180.3 1272.6h0M2180.6 1270.2h0M2180.9 1270.9h0M2181.2 1275.7h0M2181.5 1271.4h0M2181.8 1272.8h0M2182.1 1272.7h0M2182.4 1270.8h0M2182.7 1272.4h0M2183.0 1269.8h0M2183.2 1271.4h0M2183.5 1274.9h0M2183.8 1271.7h0M2184.1 1275.8h0M2184.4 1272.6h0M2184.7 1273.4h0M2185.0 1272.5h0M2185.3 1270.1h0M2185.6 1274.8h0M2185.9 1275.7h0M2186.2 1273.0h0M2186.5 1272.3h0M2186.8 1271.7h0M2187.1 1273.5h0M2187.4 1274.9h0M2187.7 1274.5h0M2187.9 1273.0h0M2188.2 1272.5h0M2188.5 1272.8h0M2188.8 1272.1h0M2189.1 1269.9h0M2189.4 1277.3h0M2189.7 1270.5h0M2190.0 1270.2h0M2190.3 1275.9h0M2190.6 1273.7h0M2190.9 1273.9h0M2191.2 1271.3h0M2191.5 1272.6h0M2191.8 1274.5h0M2192.1 1279.3h0M2192.4 1273.9h0M2192.7 1273.0h0M2192.9 1274.3h0M2193.2 1272.8h0M2193.5 1270.8h0M2193.8 1268.5h0M2194.1 1273.9h0M2194.4 1269.3h0M2194.7 1275.6h0M2195.0 1271.5h0M2195.3 1271.7h0M2195.6 1269.9h0M2195.9 1270.2h0M2196.2 1271.2h0M2196.5 1273.5h0M2196.8 1271.6h0M2197.1 1272.4h0M2197.4 1271.5h0M2197.6 1274.0h0M2197.9 1273.8h0M2198.2 1274.0h0M2198.5 1270.4h0M2198.8 1271.0h0M2199.1 1269.8h0M2199.4 1274.6h0M2199.7 1266.6h0M2200.0 1276.6h0M2200.3 1272.2h0M2200.6 1271.4h0M2200.9 1273.4h0M2201.2 1272.4h0M2201.5 1272.2h0M2201.8 1273.9h0M2202.1 1274.5h0M2202.3 1271.8h0M2202.6 1276.9h0M2202.9 1270.0h0M2203.2 1275.2h0M2203.5 1273.8h0M2203.8 1270.7h0M2204.1 1275.2h0M2204.4 1276.4h0M2204.7 1269.5h0M2205.0 1274.7h0M2205.3 1273.0h0M2205.6 1273.8h0M2205.9 1269.3h0M2206.2 1274.8h0M2206.5 1276.2h0M2206.8 1274.0h0M2207.0 1271.8h0M2207.3 1272.6h0M2207.6 1274.2h0M2207.9 1273.0h0M2208.2 1270.2h0M2208.5 1270.7h0M2208.8 1269.9h0M2209.1 1273.6h0M2209.4 1277.9h0M2209.7 1276.7h0M2210.0 1273.0h0M2210.3 1273.1h0M2210.6 1275.8h0M2210.9 1275.2h0M2211.2 1276.7h0M2211.5 1274.7h0M2211.8 1272.7h0M2212.0 1275.1h0M2212.3 1277.9h0M2212.6 1274.4h0M2212.9 1278.7h0M2213.2 1271.7h0M2213.5 1273.1h0M2213.8 1274.4h0M2214.1 1273.6h0M2214.4 1276.1h0M2214.7 1274.7h0M2215.0 1275.5h0M2215.3 1277.5h0M2215.6 1271.1h0M2215.9 1273.3h0M2216.2 1278.7h0M2216.5 1273.2h0M2216.7 1271.5h0M2217.0 1272.0h0M2217.3 1271.3h0M2217.6 1273.7h0M2217.9 1274.7h0M2218.2 1274.9h0M2218.5 1275.9h0M2218.8 1273.8h0M2219.1 1276.1h0M2219.4 1276.8h0M2219.7 1270.9h0M2220.0 1271.8h0M2220.3 1275.3h0M2220.6 1271.4h0M2220.9 1276.8h0M2221.2 1272.8h0M2221.4 1272.8h0M2221.7 1274.6h0M2222.0 1279.9h0M2222.3 1271.7h0M2222.6 1274.2h0M2222.9 1272.6h0M2223.2 1275.7h0M2223.5 1274.1h0M2223.8 1274.3h0"/>
<path stroke="#FFD966" d="M314.0 352.0h0M314.3 352.0h0M314.6 352.0h0M314.9 352.0h0M315.2 370.8h0M315.5 370.1h0M315.8 364.5h0M316.1 377.7h0M316.4 379.2h0M316.6 377.4h0M316.9 391.2h0M317.2 384.5h0M317.5 386.7h0M317.8 385.6h0M318.1 396.6h0M318.4 394.6h0M318.7 401.0h0M319.0 394.6h0M319.3 401.5h0M319.6 395.8h0M319.9 409.7h0M320.2 406.5h0M320.5 410.8h0M320.8 410.9h0M321.1 402.2h0M321.3 416.2h0M321.6 426.6h0M321.9 401.8h0M322.2 402.5h0M322.5 405.5h0M322.8 423.5h0M323.1 420.0h0M323.4 428.1h0M323.7 427.0h0M324.0 424.8h0M324.3 426.6h0M324.6 424.8h0M324.9 433.4h0M325.2 420.6h0M325.5 426.8h0M325.8 432.7h0M326.0 444.8h0M326.3 428.1h0M326.6 427.1h0M326.9 431.9h0M327.2 443.9h0M327.5 436.7h0M327.8 448.8h0M328.1 427.7h0M328.4 450.0h0M328.7 450.7h0M329.0 434.9h0M329.3 447.2h0M329.6 456.0h0M329.9 449.6h0M330.2 457.5h0M330.5 468.6h0M330.8 455.6h0M331.0 453.5h0M331.3 451.9h0M331.6 463.7h0M331.9 458.8h0M332.2 462.2h0M332.5 464.9h0M332.8 472.3h0M333.1 462.7h0M333.4 461.8h0M333.7 457.9h0M334.0 485.2h0M334.3 479.7h0M334.6 491.7h0M334.9 483.4h0M335.2 480.3h0M335.5 490.6h0M335.7 488.6h0M336.0 482.2h0M336.3 486.3h0M336.6 506.1h0M336.9 498.0h0M337.2 500.0h0M337.5 496.8h0M337.8 495.5h0M338.1 507.8h0M338.4 502.5h0M338.7 499.5h0M339.0 505.2h0M339.3 501.3h0M339.6 510.1h0M339.9 517.9h0M340.2 505.9h0M340.4 522.5h0M340.7 509.6h0M341.0 516.4h0M341.3 511.0h0M341.6 516.4h0M341.9 519.4h0M342.2 517.3h0M342.5 516.7h0M342.8 518.0h0M343.1 518.1h0M343.4 514.2h0M343.7 524.1h0M344.0 529.6h0M344.3 534.0h0M344.6 533.3h0M344.9 546.5h0M345.1 533.1h0M345.4 528.9h0M345.7 545.5h0M346.0 526.8h0M346.3 541.3h0M346.6 529.3h0M346.9 539.0h0M347.2 524.4h0M347.5 544.5h0M347.8 538.3h0M348.1 533.7h0M348.4 552.3h0M348.7 547.0h0M349.0 543.1h0M349.3 538.6h0M349.6 544.2h0M349.9 544.2h0M350.1 550.9h0M350.4 552.2h0M350.7 543.3h0M351.0 544.9h0M351.3 545.8h0M351.6 541.2h0M351.9 547.0h0M352.2 551.1h0M352.5 557.1h0M352.8 562.1h0M353.1 548.8h0M353.4 558.6h0M353.7 552.8h0M354.0 570.3h0M354.3 557.0h0M354.6 561.5h0M354.8 552.7h0M355.1 554.4h0M355.4 561.9h0M355.7 558.8h0M356.0 564.5h0M356.3 552.6h0M356.6 568.1h0M356.9 558.6h0M357.2 576.7h0M357.5 564.3h0M357.8 574.2h0M358.1 558.5h0M358.4 571.4h0M358.7 563.5h0M359.0 566.9h0M359.3 571.1h0M359.5 569.6h0M359.8 574.2h0M360.1 578.1h0M360.4 578.3h0M360.7 574.2h0M361.0 566.6h0M361.3 571.0h0M361.6 575.8h0M361.9 563.9h0M362.2 583.5h0M362.5 577.7h0M362.8 578.4h0M363.1 587.0h0M363.4 585.9h0M363.7 583.7h0M364.0 576.4h0M364.3 585.7h0M364.5 586.6h0M364.8 579.3h0M365.1 592.6h0M365.4 589.8h0M365.7 574.3h0M366.0 588.6h0M366.3 580.2h0M366.6 596.6h0M366.9 595.1h0M367.2 583.3h0M367.5 585.3h0M367.8 592.4h0M368.1 590.8h0M368.4 602.9h0M368.7 598.4h0M369.0 592.4h0M369.2 598.6h0M369.5 582.2h0M369.8 598.0h0M370.1 602.1h0M370.4 595.9h0M370.7 593.0h0M371.0 601.8h0M371.3 611.4h0M371.6 600.5h0M371.9 592.4h0M372.2 609.6h0M372.5 588.5h0M372.8 604.5h0M373.1 597.9h0M373.4 608.2h0M373.7 597.1h0M373.9 611.7h0M374.2 605.6h0M374.5 592.9h0M374.8 591.8h0M375.1 603.0h0M375.4 613.9h0M375.7 606.8h0M376.0 606.9h0M376.3 605.5h0M376.6 612.2h0M376.9 610.4h0M377.2 610.3h0M377.5 602.6h0M377.8 617.1h0M378.1 618.8h0M378.4 602.1h0M378.6 625.9h0M378.9 616.2h0M379.2 609.0h0M379.5 600.4h0M379.8 617.5h0M380.1 617.4h0M380.4 610.6h0M380.7 603.5h0M381.0 622.9h0M381.3 612.6h0M381.6 614.0h0M381.9 636.0h0M382.2 632.1h0M382.5 625.2h0M382.8 616.9h0M383.1 624.7h0M383.4 606.6h0M383.6 622.6h0M383.9 617.7h0M384.2 615.1h0M384.5 613.9h0M384.8 628.1h0M385.1 625.9h0M385.4 627.1h0M385.7 632.1h0M386.0 621.9h0M386.3 620.0h0M386.6 617.2h0M386.9 627.0h0M387.2 634.5h0M387.5 629.3h0M387.8 634.8h0M388.1 623.7h0M388.3 628.7h0M388.6 627.2h0M388.9 624.5h0M389.2 644.8h0M389.5 638.8h0M389.8 628.9h0M390.1 629.2h0M390.4 634.1h0M390.7 625.7h0M391.0 638.0h0M391.3 627.4h0M391.6 633.6h0M391.9 629.8h0M392.2 633.6h0M392.5 628.5h0M392.8 627.3h0M393.0 631.5h0M393.3 633.7h0M393.6 636.4h0M393.9 639.1h0M394.2 648.6h0M394.5 644.4h0M394.8 637.9h0M395.1 644.5h0M395.4 635.8h0M395.7 649.6h0M396.0 644.2h0M396.3 632.4h0M396.6 646.1h0M396.9 646.7h0M397.2 624.8h0M397.5 637.4h0M397.8 639.4h0M398.0 630.4h0M398.3 636.1h0M398.6 637.2h0M398.9 646.7h0M399.2 645.6h0M399.5 660.6h0M399.8 641.7h0M400.1 651.8h0M400.4 645.2h0M400.7 646.7h0M401.0 637.9h0M401.3 633.4h0M401.6 640.9h0M401.9 650.8h0M402.2 656.2h0M402.5 650.3h0M402.7 649.9h0M403.0 641.7h0M403.3 656.9h0M403.6 656.0h0M403.9 644.4h0M404.2 647.7h0M404.5 641.9h0M404.8 657.8h0M405.1 651.3h0M405.4 648.4h0M405.7 651.8h0M406.0 652.3h0M406.3 647.2h0M406.6 642.2h0M406.9 642.2h0M407.2 630.8h0M407.4 653.7h0M407.7 665.1h0M408.0 640.6h0M408.3 652.5h0M408.6 654.5h0M408.9 646.0h0M409.2 653.8h0M409.5 645.9h0M409.8 660.7h0M410.1 649.6h0M410.4 654.3h0M410.7 658.3h0M411.0 651.6h0M411.3 643.3h0M411.6 651.6h0M411.9 660.0h0M412.1 655.0h0M412.4 657.3h0M412.7 649.3h0M413.0 657.4h0M413.3 661.4h0M413.6 657.3h0M413.9 669.4h0M414.2 656.4h0M414.5 651.5h0M414.8 648.2h0M415.1 665.9h0M415.4 658.6h0M415.7 665.6h0M416.0 662.5h0M416.3 670.1h0M416.6 668.2h0M416.9 658.2h0M417.1 662.6h0M417.4 668.0h0M417.7 653.7h0M418.0 670.9h0M418.3 669.8h0M418.6 668.6h0M418.9 661.5h0M419.2 665.0h0M419.5 656.4h0M419.8 664.1h0M420.1 660.4h0M420.4 664.9h0M420.7 661.6h0M421.0 666.8h0M421.3 672.8h0M421.6 657.5h0M421.8 671.8h0M422.1 653.9h0M422.4 653.1h0M422.7 666.3h0M423.0 667.4h0M423.3 670.4h0M423.6 657.7h0M423.9 667.9h0M424.2 669.4h0M424.5 676.8h0M424.8 668.6h0M425.1 672.9h0M425.4 663.8h0M425.7 669.1h0M426.0 667.8h0M426.3 675.3h0M426.5 665.1h0M426.8 666.4h0M427.1 675.5h0M427.4 683.4h0M427.7 675.0h0M428.0 674.8h0M428.3 671.1h0M428.6 680.4h0M428.9 677.3h0M429.2 685.1h0M429.5 676.7h0M429.8 669.0h0M430.1 671.7h0M430.4 669.5h0M430.7 668.2h0M431.0 684.2h0M431.3 681.7h0M431.5 669.2h0M431.8 688.4h0M432.1 679.2h0M432.4 672.0h0M432.7 680.7h0M433.0 678.2h0M433.3 674.2h0M433.6 667.2h0M433.9 679.9h0M434.2 681.8h0M434.5 664.3h0M434.8 684.1h0M435.1 684.8h0M435.4 678.4h0M435.7 682.4h0M436.0 680.3h0M436.2 677.2h0M436.5 680.5h0M436.8 691.4h0M437.1 674.4h0M437.4 685.2h0M437.7 685.2h0M438.0 680.0h0M438.3 682.0h0M438.6 676.4h0M438.9 680.1h0M439.2 685.8h0M439.5 688.1h0M439.8 680.8h0M440.1 705.7h0M440.4 683.5h0M440.7 688.2h0M440.9 686.3h0M441.2 685.6h0M441.5 696.5h0M441.8 685.8h0M442.1 697.4h0M442.4 696.5h0M442.7 683.3h0M443.0 696.6h0M443.3 686.5h0M443.6 707.7h0M443.9 688.8h0M444.2 685.7h0M444.5 680.1h0M444.8 684.2h0M445.1 689.0h0M445.4 686.8h0M445.6 685.7h0M445.9 689.3h0M446.2 692.7h0M446.5 703.3h0M446.8 684.2h0M447.1 691.6h0M447.4 689.5h0M447.7 686.4h0M448.0 688.3h0M448.3 690.9h0M448.6 701.3h0M448.9 696.0h0M449.2 694.2h0M449.5 701.7h0M449.8 700.0h0M450.1 697.3h0M450.4 701.4h0M450.6 694.3h0M450.9 703.6h0M451.2 703.0h0M451.5 698.0h0M451.8 693.4h0M452.1 710.6h0M452.4 702.2h0M452.7 720.7h0M453.0 698.4h0M453.3 708.0h0M453.6 700.5h0M453.9 705.1h0M454.2 709.0h0M454.5 699.4h0M454.8 704.1h0M455.1 706.1h0M455.3 706.2h0M455.6 709.6h0M455.9 712.6h0M456.2 711.8h0M456.5 708.7h0M456.8 705.4h0M457.1 701.0h0M457.4 703.8h0M457.7 705.5h0M458.0 713.3h0M458.3 707.4h0M458.6 702.4h0M458.9 714.2h0M459.2 705.9h0M459.5 706.6h0M459.8 710.3h0M460.0 715.0h0M460.3 697.8h0M460.6 706.1h0M460.9 714.5h0M461.2 711.6h0M461.5 709.0h0M461.8 711.4h0M462.1 723.6h0M462.4 712.8h0M462.7 720.4h0M463.0 721.3h0M463.3 714.2h0M463.6 720.1h0M463.9 715.1h0M464.2 714.6h0M464.5 711.9h0M464.8 724.5h0M465.0 717.2h0M465.3 716.7h0M465.6 713.7h0M465.9 732.0h0M466.2 726.0h0M466.5 721.1h0M466.8 718.2h0M467.1 713.5h0M467.4 725.1h0M467.7 725.5h0M468.0 715.7h0M468.3 731.7h0M468.6 729.8h0M468.9 719.7h0M469.2 722.7h0M469.5 723.9h0M469.7 727.9h0M470.0 726.5h0M470.3 717.9h0M470.6 737.2h0M470.9 730.7h0M471.2 736.8h0M471.5 737.3h0M471.8 728.9h0M472.1 732.7h0M472.4 735.5h0M472.7 736.2h0M473.0 731.0h0M473.3 728.7h0M473.6 733.1h0M473.9 724.6h0M474.2 730.4h0M474.4 722.0h0M474.7 735.2h0M475.0 728.9h0M475.3 732.2h0M475.6 735.7h0M475.9 738.4h0M476.2 748.3h0M476.5 738.6h0M476.8 729.3h0M477.1 739.0h0M477.4 735.1h0M477.7 741.5h0M478.0 735.4h0M478.3 735.8h0M478.6 737.4h0M478.9 737.1h0M479.1 730.4h0M479.4 737.8h0M479.7 742.1h0M480.0 749.9h0M480.3 741.4h0M480.6 741.3h0M480.9 747.5h0M481.2 747.7h0M481.5 754.5h0M481.8 748.9h0M482.1 745.7h0M482.4 754.3h0M482.7 755.9h0M483.0 744.3h0M483.3 748.6h0M483.6 738.0h0M483.9 746.3h0M484.1 743.7h0M484.4 748.1h0M484.7 747.0h0M485.0 749.3h0M485.3 750.1h0M485.6 754.1h0M485.9 753.0h0M486.2 748.8h0M486.5 744.9h0M486.8 760.4h0M487.1 761.9h0M487.4 749.0h0M487.7 757.7h0M488.0 745.7h0M488.3 745.9h0M488.6 754.1h0M488.8 764.9h0M489.1 750.4h0M489.4 752.1h0M489.7 767.0h0M490.0 746.7h0M490.3 762.2h0M490.6 761.7h0M490.9 758.0h0M491.2 760.8h0M491.5 775.7h0M491.8 753.9h0M492.1 759.1h0M492.4 760.0h0M492.7 757.8h0M493.0 754.4h0M493.3 772.2h0M493.5 764.5h0M493.8 753.2h0M494.1 759.9h0M494.4 766.9h0M494.7 767.3h0M495.0 756.8h0M495.3 765.2h0M495.6 767.7h0M495.9 768.9h0M496.2 769.4h0M496.5 756.7h0M496.8 778.8h0M497.1 769.5h0M497.4 779.4h0M497.7 786.0h0M498.0 768.6h0M498.3 762.7h0M498.5 775.5h0M498.8 769.7h0M499.1 768.5h0M499.4 765.5h0M499.7 782.0h0M500.0 769.8h0M500.3 764.6h0M500.6 770.6h0M500.9 766.8h0M501.2 775.0h0M501.5 772.0h0M501.8 768.6h0M502.1 778.8h0M502.4 771.9h0M502.7 780.3h0M503.0 783.8h0M503.2 774.7h0M503.5 773.5h0M503.8 778.8h0M504.1 783.3h0M504.4 778.4h0M504.7 779.6h0M505.0 779.1h0M505.3 781.4h0M505.6 783.7h0M505.9 776.3h0M506.2 778.0h0M506.5 781.4h0M506.8 777.7h0M507.1 782.7h0M507.4 785.5h0M507.7 782.6h0M507.9 779.6h0M508.2 778.9h0M508.5 794.1h0M508.8 789.4h0M509.1 778.1h0M509.4 780.1h0M509.7 796.3h0M510.0 794.6h0M510.3 786.9h0M510.6 793.3h0M510.9 778.3h0M511.2 787.3h0M511.5 792.0h0M511.8 777.2h0M512.1 783.9h0M512.4 793.4h0M512.6 795.8h0M512.9 786.1h0M513.2 791.6h0M513.5 799.6h0M513.8 788.5h0M514.1 783.3h0M514.4 791.1h0M514.7 789.5h0M515.0 799.7h0M515.3 793.5h0M515.6 788.3h0M515.9 807.2h0M516.2 790.8h0M516.5 796.8h0M516.8 798.3h0M517.1 799.3h0M517.4 796.2h0M517.6 798.9h0M517.9 795.5h0M518.2 788.0h0M518.5 795.4h0M518.8 795.8h0M519.1 796.3h0M519.4 798.5h0M519.7 794.5h0M520.0 806.1h0M520.3 807.9h0M520.6 786.5h0M520.9 799.6h0M521.2 795.8h0M521.5 785.3h0M521.8 803.0h0M522.1 797.5h0M522.3 799.2h0M522.6 798.0h0M522.9 808.4h0M523.2 809.7h0M523.5 804.5h0M523.8 807.2h0M524.1 803.0h0M524.4 804.8h0M524.7 800.1h0M525.0 804.9h0M525.3 800.9h0M525.6 807.6h0M525.9 810.5h0M526.2 807.9h0M526.5 813.3h0M526.8 822.3h0M527.0 795.1h0M527.3 807.7h0M527.6 804.7h0M527.9 805.7h0M528.2 800.9h0M528.5 809.3h0M528.8 807.9h0M529.1 806.1h0M529.4 808.7h0M529.7 807.1h0M530.0 797.4h0M530.3 817.4h0M530.6 809.8h0M530.9 806.5h0M531.2 814.0h0M531.5 808.8h0M531.8 800.5h0M532.0 818.4h0M532.3 804.1h0M532.6 812.8h0M532.9 815.1h0M533.2 822.5h0M533.5 821.9h0M533.8 816.4h0M534.1 811.4h0M534.4 813.8h0M534.7 822.7h0M535.0 827.0h0M535.3 820.3h0M535.6 813.9h0M535.9 823.8h0M536.2 816.1h0M536.5 816.3h0M536.7 817.3h0M537.0 822.6h0M537.3 821.2h0M537.6 825.6h0M537.9 827.7h0M538.2 823.6h0M538.5 807.7h0M538.8 811.7h0M539.1 822.6h0M539.4 821.6h0M539.7 834.6h0M540.0 822.5h0M540.3 822.2h0M540.6 828.7h0M540.9 829.8h0M541.2 822.7h0M541.4 827.1h0M541.7 818.3h0M542.0 819.7h0M542.3 832.4h0M542.6 817.7h0M542.9 831.3h0M543.2 830.2h0M543.5 831.1h0M543.8 832.2h0M544.1 830.6h0M544.4 815.6h0M544.7 822.3h0M545.0 825.0h0M545.3 833.9h0M545.6 822.6h0M545.9 825.4h0M546.1 827.6h0M546.4 837.5h0M546.7 822.2h0M547.0 823.0h0M547.3 834.6h0M547.6 819.3h0M547.9 833.5h0M548.2 827.4h0M548.5 823.4h0M548.8 830.3h0M549.1 827.3h0M549.4 834.3h0M549.7 835.7h0M550.0 842.4h0M550.3 834.2h0M550.6 835.2h0M550.9 831.7h0M551.1 835.2h0M551.4 841.5h0M551.7 825.1h0M552.0 840.0h0M552.3 833.6h0M552.6 837.3h0M552.9 839.1h0M553.2 842.4h0M553.5 839.2h0M553.8 836.0h0M554.1 840.3h0M554.4 838.9h0M554.7 838.0h0M555.0 840.6h0M555.3 844.7h0M555.6 840.9h0M555.8 841.3h0M556.1 833.5h0M556.4 840.3h0M556.7 830.9h0M557.0 845.7h0M557.3 836.7h0M557.6 849.6h0M557.9 859.4h0M558.2 838.9h0M558.5 850.7h0M558.8 845.8h0M559.1 840.7h0M559.4 839.4h0M559.7 847.5h0M560.0 852.5h0M560.3 847.0h0M560.5 836.8h0M560.8 839.7h0M561.1 844.6h0M561.4 853.7h0M561.7 848.0h0M562.0 848.5h0M562.3 853.8h0M562.6 846.1h0M562.9 847.0h0M563.2 846.8h0M563.5 838.2h0M563.8 851.0h0M564.1 850.9h0M564.4 854.4h0M564.7 842.5h0M565.0 844.9h0M565.3 854.9h0M565.5 851.8h0M565.8 857.9h0M566.1 845.7h0M566.4 851.8h0M566.7 847.2h0M567.0 853.0h0M567.3 848.8h0M567.6 854.7h0M567.9 858.0h0M568.2 856.0h0M568.5 842.5h0M568.8 858.0h0M569.1 855.6h0M569.4 847.5h0M569.7 848.7h0M570.0 853.9h0M570.2 857.3h0M570.5 851.9h0M570.8 845.6h0M571.1 856.5h0M571.4 856.1h0M571.7 869.0h0M572.0 848.5h0M572.3 869.9h0M572.6 865.9h0M572.9 858.1h0M573.2 865.9h0M573.5 857.5h0M573.8 862.6h0M574.1 853.4h0M574.4 858.1h0M574.7 852.3h0M574.9 849.4h0M575.2 856.9h0M575.5 855.0h0M575.8 862.1h0M576.1 866.2h0M576.4 858.4h0M576.7 859.9h0M577.0 860.9h0M577.3 850.8h0M577.6 861.8h0M577.9 860.6h0M578.2 860.5h0M578.5 854.9h0M578.8 850.2h0M579.1 860.0h0M579.4 863.4h0M579.6 869.3h0M579.9 868.3h0M580.2 870.3h0M580.5 864.5h0M580.8 869.1h0M581.1 861.8h0M581.4 866.6h0M581.7 868.4h0M582.0 878.3h0M582.3 865.0h0M582.6 856.8h0M582.9 871.6h0M583.2 859.8h0M583.5 864.1h0M583.8 862.9h0M584.1 859.7h0M584.4 872.3h0M584.6 868.3h0M584.9 861.8h0M585.2 865.8h0M585.5 863.1h0M585.8 869.1h0M586.1 863.7h0M586.4 861.7h0M586.7 862.5h0M587.0 863.8h0M587.3 867.9h0M587.6 861.4h0M587.9 866.1h0M588.2 869.1h0M588.5 879.7h0M588.8 871.6h0M589.1 850.6h0M589.3 864.3h0M589.6 865.1h0M589.9 869.1h0M590.2 876.1h0M590.5 871.7h0M590.8 855.0h0M591.1 869.5h0M591.4 868.5h0M591.7 870.3h0M592.0 875.6h0M592.3 862.2h0M592.6 874.4h0M592.9 859.4h0M593.2 868.8h0M593.5 870.8h0M593.8 881.3h0M594.0 865.0h0M594.3 859.7h0M594.6 872.9h0M594.9 865.5h0M595.2 877.9h0M595.5 865.5h0M595.8 864.6h0M596.1 876.4h0M596.4 870.1h0M596.7 875.3h0M597.0 862.0h0M597.3 879.0h0M597.6 866.8h0M597.9 874.6h0M598.2 864.7h0M598.5 861.8h0M598.8 869.0h0M599.0 871.4h0M599.3 879.2h0M599.6 872.5h0M599.9 874.6h0M600.2 874.4h0M600.5 887.9h0M600.8 866.4h0M601.1 877.9h0M601.4 870.3h0M601.7 872.6h0M602.0 868.2h0M602.3 877.7h0M602.6 864.5h0M602.9 864.2h0M603.2 870.3h0M603.5 865.2h0M603.7 875.5h0M604.0 876.7h0M604.3 867.6h0M604.6 876.1h0M604.9 868.2h0M605.2 871.7h0M605.5 872.0h0M605.8 882.3h0M606.1 872.0h0M606.4 867.1h0M606.7 867.1h0M607.0 878.8h0M607.3 863.1h0M607.6 869.7h0M607.9 870.2h0M608.2 858.9h0M608.4 869.8h0M608.7 877.9h0M609.0 873.7h0M609.3 867.5h0M609.6 876.3h0M609.9 875.3h0M610.2 883.6h0M610.5 868.5h0M610.8 870.4h0M611.1 872.8h0M611.4 871.9h0M611.7 873.1h0M612.0 872.1h0M612.3 868.9h0M612.6 863.9h0M612.9 869.6h0M613.2 865.1h0M613.4 867.0h0M613.7 869.8h0M614.0 875.6h0M614.3 877.5h0M614.6 867.1h0M614.9 874.5h0M615.2 877.2h0M615.5 872.6h0M615.8 863.8h0M616.1 861.0h0M616.4 877.2h0M616.7 877.9h0M617.0 874.4h0M617.3 867.1h0M617.6 880.9h0M617.9 879.6h0M618.1 872.7h0M618.4 871.7h0M618.7 862.2h0M619.0 880.3h0M619.3 864.1h0M619.6 876.7h0M619.9 877.0h0M620.2 873.5h0M620.5 881.7h0M620.8 871.3h0M621.1 876.3h0M621.4 877.5h0M621.7 874.5h0M622.0 870.8h0M622.3 879.9h0M622.6 875.5h0M622.8 872.1h0M623.1 872.3h0M623.4 873.9h0M623.7 885.7h0M624.0 873.8h0M624.3 871.9h0M624.6 867.4h0M624.9 866.6h0M625.2 862.8h0M625.5 874.5h0M625.8 873.4h0M626.1 867.6h0M626.4 865.1h0M626.7 871.5h0M627.0 870.4h0M627.3 866.0h0M627.5 875.0h0M627.8 874.1h0M628.1 873.0h0M628.4 877.5h0M628.7 869.7h0M629.0 880.8h0M629.3 867.8h0M629.6 876.1h0M629.9 876.8h0M630.2 871.9h0M630.5 875.3h0M630.8 866.3h0M631.1 865.1h0M631.4 872.2h0M631.7 869.3h0M632.0 876.6h0M632.3 873.5h0M632.5 876.7h0M632.8 875.1h0M633.1 874.4h0M633.4 873.8h0M633.7 871.2h0M634.0 870.7h0M634.3 884.4h0M634.6 863.5h0M634.9 872.1h0M635.2 878.6h0M635.5 875.4h0M635.8 880.8h0M636.1 876.0h0M636.4 866.0h0M636.7 871.1h0M637.0 865.2h0M637.2 878.2h0M637.5 880.7h0M637.8 870.3h0M638.1 875.6h0M638.4 870.3h0M638.7 864.6h0M639.0 870.0h0M639.3 863.6h0M639.6 869.1h0M639.9 873.3h0M640.2 876.1h0M640.5 879.1h0M640.8 870.1h0M641.1 873.1h0M641.4 874.1h0M641.7 874.7h0M641.9 855.9h0M642.2 867.2h0M642.5 875.8h0M642.8 865.2h0M643.1 872.6h0M643.4 875.7h0M643.7 860.6h0M644.0 869.9h0M644.3 872.1h0M644.6 870.8h0M644.9 862.2h0M645.2 872.4h0M645.5 867.3h0M645.8 874.8h0M646.1 872.6h0M646.4 867.1h0M646.7 870.9h0M646.9 866.1h0M647.2 865.9h0M647.5 861.0h0M647.8 868.2h0M648.1 873.8h0M648.4 869.9h0M648.7 869.0h0M649.0 865.6h0M649.3 866.0h0M649.6 872.9h0M649.9 860.5h0M650.2 879.9h0M650.5 868.1h0M650.8 880.3h0M651.1 874.7h0M651.4 865.8h0M651.6 872.0h0M651.9 869.3h0M652.2 870.3h0M652.5 872.0h0M652.8 864.5h0M653.1 864.0h0M653.4 865.0h0M653.7 859.7h0M654.0 865.6h0M654.3 868.2h0M654.6 868.2h0M654.9 867.8h0M655.2 864.5h0M655.5 873.8h0M655.8 855.1h0M656.1 864.1h0M656.3 864.4h0M656.6 871.0h0M656.9 869.6h0M657.2 870.2h0M657.5 865.8h0M657.8 870.8h0M658.1 859.9h0M658.4 865.7h0M658.7 853.6h0M659.0 874.5h0M659.3 873.7h0M659.6 861.5h0M659.9 860.0h0M660.2 853.0h0M660.5 856.0h0M660.8 864.9h0M661.0 863.4h0M661.3 856.0h0M661.6 861.2h0M661.9 860.2h0M662.2 866.4h0M662.5 867.6h0M662.8 862.3h0M663.1 864.0h0M663.4 863.3h0M663.7 851.6h0M664.0 864.0h0M664.3 862.5h0M664.6 866.9h0M664.9 852.5h0M665.2 866.7h0M665.5 858.9h0M665.8 863.7h0M666.0 868.8h0M666.3 853.8h0M666.6 854.6h0M666.9 867.2h0M667.2 855.3h0M667.5 856.2h0M667.8 864.7h0M668.1 860.1h0M668.4 865.4h0M668.7 862.6h0M669.0 860.6h0M669.3 866.1h0M669.6 872.6h0M669.9 859.8h0M670.2 868.4h0M670.5 866.3h0M670.7 860.5h0M671.0 862.3h0M671.3 854.4h0M671.6 856.1h0M671.9 860.9h0M672.2 858.9h0M672.5 866.2h0M672.8 851.7h0M673.1 857.1h0M673.4 855.0h0M673.7 857.6h0M674.0 864.7h0M674.3 851.4h0M674.6 862.6h0M674.9 854.5h0M675.2 855.8h0M675.4 863.0h0M675.7 855.7h0M676.0 860.8h0M676.3 857.6h0M676.6 855.9h0M676.9 854.6h0M677.2 846.9h0M677.5 852.2h0M677.8 857.1h0M678.1 857.1h0M678.4 847.5h0M678.7 861.2h0M679.0 858.6h0M679.3 848.1h0M679.6 849.3h0M679.9 857.7h0M680.2 845.0h0M680.4 850.4h0M680.7 854.1h0M681.0 853.5h0M681.3 853.7h0M681.6 856.0h0M681.9 849.2h0M682.2 850.7h0M682.5 864.7h0M682.8 845.2h0M683.1 850.3h0M683.4 853.3h0M683.7 848.8h0M684.0 859.0h0M684.3 852.4h0M684.6 856.1h0M684.9 837.0h0M685.1 858.0h0M685.4 857.6h0M685.7 846.8h0M686.0 858.1h0M686.3 852.1h0M686.6 855.5h0M686.9 860.3h0M687.2 850.5h0M687.5 844.1h0M687.8 849.4h0M688.1 842.1h0M688.4 844.6h0M688.7 844.6h0M689.0 844.6h0M689.3 854.9h0M689.6 852.8h0M689.8 842.9h0M690.1 854.0h0M690.4 838.1h0M690.7 843.6h0M691.0 846.2h0M691.3 853.4h0M691.6 850.6h0M691.9 848.9h0M692.2 853.4h0M692.5 849.9h0M692.8 853.3h0M693.1 841.0h0M693.4 835.7h0M693.7 842.6h0M694.0 849.4h0M694.3 845.9h0M694.5 849.2h0M694.8 848.0h0M695.1 846.6h0M695.4 848.1h0M695.7 839.2h0M696.0 849.1h0M696.3 837.1h0M696.6 841.9h0M696.9 834.3h0M697.2 844.8h0M697.5 833.0h0M697.8 849.4h0M698.1 833.7h0M698.4 842.5h0M698.7 840.0h0M699.0 835.6h0M699.3 847.3h0M699.5 837.6h0M699.8 848.0h0M700.1 833.7h0M700.4 834.7h0M700.7 827.7h0M701.0 841.8h0M701.3 843.6h0M701.6 839.4h0M701.9 837.0h0M702.2 832.4h0M702.5 850.6h0M702.8 841.3h0M703.1 817.8h0M703.4 834.8h0M703.7 821.6h0M704.0 844.9h0M704.2 846.9h0M704.5 843.7h0M704.8 834.9h0M705.1 831.5h0M705.4 826.7h0M705.7 837.3h0M706.0 826.2h0M706.3 831.6h0M706.6 829.8h0M706.9 831.4h0M707.2 838.0h0M707.5 842.2h0M707.8 833.2h0M708.1 832.1h0M708.4 825.4h0M708.7 824.5h0M708.9 825.1h0M709.2 835.8h0M709.5 831.9h0M709.8 835.7h0M710.1 832.3h0M710.4 827.4h0M710.7 822.3h0M711.0 826.9h0M711.3 820.6h0M711.6 839.8h0M711.9 829.7h0M712.2 825.7h0M712.5 838.9h0M712.8 825.0h0M713.1 830.1h0M713.4 825.7h0M713.7 829.7h0M713.9 823.9h0M714.2 828.5h0M714.5 833.5h0M714.8 811.8h0M715.1 812.0h0M715.4 832.1h0M715.7 825.0h0M716.0 828.8h0M716.3 821.8h0M716.6 832.0h0M716.9 833.2h0M717.2 815.8h0M717.5 826.0h0M717.8 818.3h0M718.1 812.2h0M718.4 819.4h0M718.6 824.1h0M718.9 812.6h0M719.2 812.8h0M719.5 826.9h0M719.8 819.7h0M720.1 821.5h0M720.4 812.2h0M720.7 814.7h0M721.0 818.8h0M721.3 818.9h0M721.6 818.3h0M721.9 826.2h0M722.2 817.7h0M722.5 807.5h0M722.8 810.9h0M723.1 815.3h0M723.3 822.6h0M723.6 810.9h0M723.9 812.3h0M724.2 814.0h0M724.5 809.7h0M724.8 808.6h0M725.1 811.7h0M725.4 818.4h0M725.7 815.1h0M726.0 810.2h0M726.3 813.9h0M726.6 803.7h0M726.9 816.6h0M727.2 814.7h0M727.5 811.8h0M727.8 800.2h0M728.0 821.1h0M728.3 791.9h0M728.6 802.7h0M728.9 802.8h0M729.2 811.8h0M729.5 798.7h0M729.8 808.4h0M730.1 805.7h0M730.4 804.5h0M730.7 810.8h0M731.0 813.8h0M731.3 807.4h0M731.6 803.1h0M731.9 791.1h0M732.2 812.5h0M732.5 801.8h0M732.8 792.4h0M733.0 803.7h0M733.3 810.9h0M733.6 801.2h0M733.9 794.9h0M734.2 814.5h0M734.5 804.5h0M734.8 802.6h0M735.1 806.1h0M735.4 787.1h0M735.7 799.0h0M736.0 798.1h0M736.3 811.9h0M736.6 795.0h0M736.9 794.7h0M737.2 789.4h0M737.5 792.4h0M737.7 795.6h0M738.0 798.0h0M738.3 794.9h0M738.6 807.5h0M738.9 798.3h0M739.2 798.8h0M739.5 802.7h0M739.8 798.0h0M740.1 790.9h0M740.4 784.5h0M740.7 795.3h0M741.0 788.0h0M741.3 800.2h0M741.6 787.6h0M741.9 778.7h0M742.2 791.7h0M742.4 797.4h0M742.7 789.5h0M743.0 791.5h0M743.3 791.0h0M743.6 799.9h0M743.9 791.1h0M744.2 788.8h0M744.5 785.0h0M744.8 778.6h0M745.1 796.3h0M745.4 794.4h0M745.7 781.7h0M746.0 790.5h0M746.3 788.5h0M746.6 784.0h0M746.9 784.1h0M747.2 790.0h0M747.4 778.1h0M747.7 781.8h0M748.0 784.1h0M748.3 784.2h0M748.6 782.6h0M748.9 784.8h0M749.2 786.3h0M749.5 777.5h0M749.8 783.0h0M750.1 779.0h0M750.4 790.8h0M750.7 773.1h0M751.0 779.8h0M751.3 785.0h0M751.6 778.8h0M751.9 778.2h0M752.1 776.6h0M752.4 781.4h0M752.7 772.2h0M753.0 778.4h0M753.3 777.9h0M753.6 769.5h0M753.9 779.5h0M754.2 774.8h0M754.5 779.1h0M754.8 782.0h0M755.1 778.6h0M755.4 769.3h0M755.7 777.9h0M756.0 766.1h0M756.3 770.8h0M756.6 785.0h0M756.8 774.8h0M757.1 783.7h0M757.4 773.0h0M757.7 773.8h0M758.0 766.8h0M758.3 778.8h0M758.6 771.7h0M758.9 776.3h0M759.2 774.9h0M759.5 775.2h0M759.8 773.6h0M760.1 771.2h0M760.4 771.1h0M760.7 766.7h0M761.0 757.8h0M761.3 773.1h0M761.5 782.4h0M761.8 776.1h0M762.1 783.3h0M762.4 772.0h0M762.7 763.1h0M763.0 762.7h0M763.3 772.7h0M763.6 770.1h0M763.9 766.8h0M764.2 771.9h0M764.5 762.0h0M764.8 770.1h0M765.1 765.0h0M765.4 767.3h0M765.7 773.2h0M766.0 765.0h0M766.3 773.8h0M766.5 773.2h0M766.8 760.5h0M767.1 778.6h0M767.4 757.1h0M767.7 763.6h0M768.0 768.3h0M768.3 750.0h0M768.6 769.5h0M768.9 769.9h0M769.2 762.1h0M769.5 764.1h0M769.8 763.5h0M770.1 760.7h0M770.4 768.1h0M770.7 759.1h0M771.0 760.8h0M771.2 763.0h0M771.5 765.6h0M771.8 766.9h0M772.1 751.1h0M772.4 747.5h0M772.7 758.6h0M773.0 758.8h0M773.3 752.3h0M773.6 760.4h0M773.9 762.1h0M774.2 760.3h0M774.5 767.7h0M774.8 751.2h0M775.1 757.3h0M775.4 768.5h0M775.7 760.7h0M775.9 749.7h0M776.2 757.3h0M776.5 763.0h0M776.8 768.2h0M777.1 759.3h0M777.4 762.1h0M777.7 748.1h0M778.0 753.1h0M778.3 761.5h0M778.6 748.3h0M778.9 753.4h0M779.2 742.3h0M779.5 762.2h0M779.8 752.3h0M780.1 756.3h0M780.4 743.5h0M780.7 744.4h0M780.9 763.1h0M781.2 749.8h0M781.5 748.4h0M781.8 754.6h0M782.1 754.6h0M782.4 739.2h0M782.7 744.9h0M783.0 750.9h0M783.3 750.4h0M783.6 752.3h0M783.9 747.4h0M784.2 748.1h0M784.5 750.9h0M784.8 745.3h0M785.1 744.2h0M785.4 745.8h0M785.6 748.9h0M785.9 747.8h0M786.2 745.7h0M786.5 746.9h0M786.8 747.7h0M787.1 750.0h0M787.4 750.1h0M787.7 740.0h0M788.0 753.5h0M788.3 737.8h0M788.6 750.6h0M788.9 742.9h0M789.2 750.5h0M789.5 753.3h0M789.8 735.3h0M790.1 750.2h0M790.3 748.0h0M790.6 743.4h0M790.9 748.4h0M791.2 742.9h0M791.5 746.5h0M791.8 739.3h0M792.1 750.2h0M792.4 748.9h0M792.7 749.6h0M793.0 741.0h0M793.3 756.0h0M793.6 756.6h0M793.9 744.0h0M794.2 741.9h0M794.5 741.8h0M794.8 748.3h0M795.0 750.2h0M795.3 739.3h0M795.6 731.5h0M795.9 746.3h0M796.2 743.2h0M796.5 744.3h0M796.8 746.3h0M797.1 730.8h0M797.4 743.3h0M797.7 740.9h0M798.0 744.9h0M798.3 749.9h0M798.6 742.4h0M798.9 737.0h0M799.2 749.6h0M799.5 746.2h0M799.8 740.6h0M800.0 730.8h0M800.3 736.3h0M800.6 742.3h0M800.9 744.7h0M801.2 738.1h0M801.5 743.8h0M801.8 737.2h0M802.1 738.4h0M802.4 744.0h0M802.7 739.1h0M803.0 741.5h0M803.3 745.8h0M803.6 747.3h0M803.9 736.8h0M804.2 738.8h0M804.5 732.2h0M804.7 732.3h0M805.0 743.1h0M805.3 736.9h0M805.6 728.7h0M805.9 743.1h0M806.2 734.7h0M806.5 737.9h0M806.8 742.2h0M807.1 742.1h0M807.4 739.3h0M807.7 727.6h0M808.0 743.0h0M808.3 736.0h0M808.6 731.0h0M808.9 726.2h0M809.2 747.4h0M809.4 740.3h0M809.7 740.1h0M810.0 743.1h0M810.3 739.0h0M810.6 730.6h0M810.9 743.6h0M811.2 745.5h0M811.5 742.6h0M811.8 748.8h0M812.1 751.0h0M812.4 734.8h0M812.7 736.9h0M813.0 744.9h0M813.3 740.7h0M813.6 740.9h0M813.9 745.3h0M814.2 744.2h0M814.4 737.1h0M814.7 740.5h0M815.0 735.5h0M815.3 738.7h0M815.6 733.2h0M815.9 728.1h0M816.2 737.0h0M816.5 736.4h0M816.8 745.4h0M817.1 749.5h0M817.4 740.3h0M817.7 743.0h0M818.0 736.4h0M818.3 734.7h0M818.6 738.6h0M818.9 738.6h0M819.1 742.2h0M819.4 741.1h0M819.7 750.4h0M820.0 739.2h0M820.3 730.7h0M820.6 741.4h0M820.9 736.7h0M821.2 742.0h0M821.5 747.6h0M821.8 737.0h0M822.1 740.5h0M822.4 744.2h0M822.7 735.5h0M823.0 742.6h0M823.3 744.7h0M823.6 746.4h0M823.8 748.2h0M824.1 745.1h0M824.4 744.2h0M824.7 733.7h0M825.0 726.1h0M825.3 736.6h0M825.6 757.7h0M825.9 743.4h0M826.2 729.3h0M826.5 740.5h0M826.8 745.3h0M827.1 732.3h0M827.4 746.9h0M827.7 736.8h0M828.0 750.1h0M828.3 744.2h0M828.5 762.8h0M828.8 736.5h0M829.1 746.3h0M829.4 736.0h0M829.7 751.9h0M830.0 745.9h0M830.3 750.9h0M830.6 746.2h0M830.9 738.8h0M831.2 742.1h0M831.5 738.8h0M831.8 740.1h0M832.1 747.4h0M832.4 753.1h0M832.7 752.0h0M833.0 750.1h0M833.3 743.9h0M833.5 750.5h0M833.8 742.5h0M834.1 749.0h0M834.4 753.0h0M834.7 747.1h0M835.0 745.6h0M835.3 746.0h0M835.6 752.4h0M835.9 747.1h0M836.2 740.7h0M836.5 746.9h0M836.8 743.3h0M837.1 758.7h0M837.4 750.1h0M837.7 741.5h0M838.0 752.0h0M838.2 754.9h0M838.5 753.1h0M838.8 748.9h0M839.1 752.2h0M839.4 753.2h0M839.7 757.7h0M840.0 754.1h0M840.3 765.6h0M840.6 751.1h0M840.9 761.7h0M841.2 753.0h0M841.5 743.0h0M841.8 746.4h0M842.1 742.8h0M842.4 743.6h0M842.7 761.2h0M842.9 750.4h0M843.2 758.1h0M843.5 749.5h0M843.8 754.9h0M844.1 749.0h0M844.4 760.6h0M844.7 754.2h0M845.0 753.3h0M845.3 755.2h0M845.6 769.3h0M845.9 759.4h0M846.2 761.9h0M846.5 749.9h0M846.8 753.6h0M847.1 759.5h0M847.4 747.0h0M847.7 766.1h0M847.9 760.1h0M848.2 758.7h0M848.5 757.9h0M848.8 757.9h0M849.1 756.6h0M849.4 768.0h0M849.7 764.1h0M850.0 767.7h0M850.3 758.8h0M850.6 755.7h0M850.9 769.2h0M851.2 754.2h0M851.5 758.1h0M851.8 766.2h0M852.1 768.6h0M852.4 754.8h0M852.6 761.2h0M852.9 763.2h0M853.2 762.6h0M853.5 758.6h0M853.8 767.9h0M854.1 761.1h0M854.4 763.1h0M854.7 751.5h0M855.0 764.4h0M855.3 753.9h0M855.6 769.8h0M855.9 768.8h0M856.2 763.2h0M856.5 767.5h0M856.8 767.5h0M857.1 766.3h0M857.3 769.6h0M857.6 767.0h0M857.9 765.3h0M858.2 763.7h0M858.5 778.5h0M858.8 770.1h0M859.1 769.2h0M859.4 773.9h0M859.7 767.7h0M860.0 768.1h0M860.3 774.5h0M860.6 777.0h0M860.9 775.2h0M861.2 763.0h0M861.5 772.3h0M861.8 772.2h0M862.1 775.3h0M862.3 767.8h0M862.6 767.2h0M862.9 773.0h0M863.2 768.8h0M863.5 768.1h0M863.8 774.3h0M864.1 780.4h0M864.4 776.2h0M864.7 782.3h0M865.0 770.3h0M865.3 780.6h0M865.6 776.8h0M865.9 772.1h0M866.2 775.1h0M866.5 772.9h0M866.8 777.0h0M867.0 774.3h0M867.3 786.3h0M867.6 777.3h0M867.9 771.5h0M868.2 779.0h0M868.5 782.7h0M868.8 779.0h0M869.1 786.2h0M869.4 776.3h0M869.7 777.0h0M870.0 791.7h0M870.3 782.8h0M870.6 786.2h0M870.9 786.4h0M871.2 787.2h0M871.5 784.5h0M871.7 783.5h0M872.0 791.3h0M872.3 782.6h0M872.6 786.5h0M872.9 790.1h0M873.2 784.3h0M873.5 778.2h0M873.8 790.0h0M874.1 793.9h0M874.4 789.6h0M874.7 778.9h0M875.0 792.6h0M875.3 800.6h0M875.6 780.8h0M875.9 774.6h0M876.2 789.1h0M876.4 791.3h0M876.7 795.7h0M877.0 796.3h0M877.3 792.6h0M877.6 795.6h0M877.9 794.8h0M878.2 794.0h0M878.5 793.4h0M878.8 793.2h0M879.1 798.5h0M879.4 797.2h0M879.7 792.9h0M880.0 802.0h0M880.3 792.0h0M880.6 795.3h0M880.9 797.8h0M881.2 786.7h0M881.4 795.7h0M881.7 803.1h0M882.0 803.3h0M882.3 792.4h0M882.6 794.9h0M882.9 793.9h0M883.2 799.1h0M883.5 800.5h0M883.8 792.3h0M884.1 803.5h0M884.4 802.6h0M884.7 802.2h0M885.0 799.3h0M885.3 802.5h0M885.6 794.0h0M885.9 805.7h0M886.1 806.0h0M886.4 804.7h0M886.7 799.1h0M887.0 813.3h0M887.3 813.0h0M887.6 796.6h0M887.9 809.9h0M888.2 808.9h0M888.5 794.1h0M888.8 811.8h0M889.1 813.0h0M889.4 813.8h0M889.7 811.2h0M890.0 807.1h0M890.3 808.3h0M890.6 814.5h0M890.8 818.6h0M891.1 809.8h0M891.4 811.5h0M891.7 817.4h0M892.0 801.9h0M892.3 816.9h0M892.6 813.6h0M892.9 803.1h0M893.2 820.1h0M893.5 811.2h0M893.8 821.1h0M894.1 824.8h0M894.4 810.7h0M894.7 811.4h0M895.0 818.5h0M895.3 809.3h0M895.6 823.5h0M895.8 821.0h0M896.1 825.9h0M896.4 810.7h0M896.7 822.5h0M897.0 824.4h0M897.3 812.3h0M897.6 827.7h0M897.9 815.6h0M898.2 824.7h0M898.5 816.8h0M898.8 828.9h0M899.1 834.5h0M899.4 825.8h0M899.7 826.2h0M900.0 833.6h0M900.3 824.5h0M900.5 827.7h0M900.8 832.4h0M901.1 830.7h0M901.4 837.5h0M901.7 836.0h0M902.0 840.4h0M902.3 830.2h0M902.6 837.0h0M902.9 826.8h0M903.2 836.8h0M903.5 842.0h0M903.8 845.8h0M904.1 826.4h0M904.4 832.9h0M904.7 838.2h0M905.0 830.0h0M905.2 838.3h0M905.5 838.8h0M905.8 833.6h0M906.1 833.8h0M906.4 832.2h0M906.7 839.4h0M907.0 845.2h0M907.3 840.3h0M907.6 854.4h0M907.9 831.5h0M908.2 836.9h0M908.5 844.3h0M908.8 834.8h0M909.1 843.5h0M909.4 846.5h0M909.7 843.5h0M909.9 841.8h0M910.2 848.6h0M910.5 846.3h0M910.8 848.4h0M911.1 847.9h0M911.4 841.7h0M911.7 839.8h0M912.0 844.3h0M912.3 847.8h0M912.6 846.3h0M912.9 853.0h0M913.2 849.7h0M913.5 854.0h0M913.8 849.8h0M914.1 845.7h0M914.4 858.8h0M914.7 853.3h0M914.9 846.5h0M915.2 849.3h0M915.5 867.3h0M915.8 834.0h0M916.1 859.1h0M916.4 853.7h0M916.7 853.5h0M917.0 852.7h0M917.3 852.0h0M917.6 868.1h0M917.9 853.2h0M918.2 854.5h0M918.5 860.9h0M918.8 859.1h0M919.1 856.5h0M919.4 856.4h0M919.6 851.1h0M919.9 864.7h0M920.2 853.5h0M920.5 846.5h0M920.8 865.9h0M921.1 864.7h0M921.4 862.9h0M921.7 858.6h0M922.0 868.4h0M922.3 856.5h0M922.6 850.9h0M922.9 864.2h0M923.2 868.1h0M923.5 867.6h0M923.8 876.0h0M924.1 869.6h0M924.3 864.3h0M924.6 864.9h0M924.9 871.3h0M925.2 866.5h0M925.5 866.6h0M925.8 858.1h0M926.1 866.5h0M926.4 861.6h0M926.7 870.4h0M927.0 870.3h0M927.3 873.9h0M927.6 888.1h0M927.9 869.9h0M928.2 879.2h0M928.5 865.6h0M928.8 873.1h0M929.1 877.9h0M929.3 883.8h0M929.6 867.6h0M929.9 872.6h0M930.2 875.2h0M930.5 874.4h0M930.8 870.2h0M931.1 866.9h0M931.4 869.6h0M931.7 876.3h0M932.0 869.8h0M932.3 887.2h0M932.6 884.7h0M932.9 868.1h0M933.2 876.2h0M933.5 886.5h0M933.8 887.7h0M934.0 886.3h0M934.3 872.9h0M934.6 879.1h0M934.9 888.5h0M935.2 882.5h0M935.5 879.9h0M935.8 885.6h0M936.1 888.6h0M936.4 884.4h0M936.7 885.4h0M937.0 890.4h0M937.3 881.9h0M937.6 880.4h0M937.9 890.0h0M938.2 879.7h0M938.5 889.4h0M938.7 883.1h0M939.0 892.1h0M939.3 881.5h0M939.6 894.5h0M939.9 890.3h0M940.2 887.5h0M940.5 884.9h0M940.8 889.2h0M941.1 885.4h0M941.4 879.2h0M941.7 897.1h0M942.0 894.9h0M942.3 898.7h0M942.6 885.2h0M942.9 882.4h0M943.2 884.7h0M943.4 897.2h0M943.7 898.4h0M944.0 884.5h0M944.3 900.4h0M944.6 892.9h0M944.9 889.3h0M945.2 895.7h0M945.5 899.6h0M945.8 895.7h0M946.1 896.3h0M946.4 893.2h0M946.7 890.4h0M947.0 896.5h0M947.3 890.1h0M947.6 902.5h0M947.9 895.1h0M948.2 907.1h0M948.4 891.9h0M948.7 908.4h0M949.0 896.5h0M949.3 896.9h0M949.6 904.9h0M949.9 907.3h0M950.2 902.6h0M950.5 901.3h0M950.8 914.3h0M951.1 906.7h0M951.4 897.9h0M951.7 903.4h0M952.0 914.2h0M952.3 907.3h0M952.6 910.3h0M952.9 917.2h0M953.1 903.5h0M953.4 909.1h0M953.7 903.9h0M954.0 907.8h0M954.3 911.1h0M954.6 901.5h0M954.9 909.8h0M955.2 910.1h0M955.5 915.4h0M955.8 907.0h0M956.1 903.7h0M956.4 913.0h0M956.7 905.2h0M957.0 912.6h0M957.3 915.0h0M957.6 907.7h0M957.8 912.1h0M958.1 907.6h0M958.4 898.3h0M958.7 906.1h0M959.0 903.1h0M959.3 914.6h0M959.6 909.2h0M959.9 914.5h0M960.2 915.4h0M960.5 921.6h0M960.8 914.5h0M961.1 914.6h0M961.4 919.8h0M961.7 926.0h0M962.0 917.4h0M962.3 920.0h0M962.6 917.5h0M962.8 915.2h0M963.1 911.0h0M963.4 919.2h0M963.7 918.5h0M964.0 919.0h0M964.3 931.2h0M964.6 919.2h0M964.9 923.1h0M965.2 919.9h0M965.5 928.3h0M965.8 920.9h0M966.1 932.6h0M966.4 921.7h0M966.7 927.6h0M967.0 933.4h0M967.3 922.9h0M967.5 929.0h0M967.8 925.2h0M968.1 921.2h0M968.4 922.0h0M968.7 927.6h0M969.0 935.6h0M969.3 923.9h0M969.6 929.7h0M969.9 923.0h0M970.2 928.9h0M970.5 921.0h0M970.8 924.1h0M971.1 928.5h0M971.4 924.9h0M971.7 927.8h0M972.0 934.8h0M972.2 929.2h0M972.5 926.4h0M972.8 924.0h0M973.1 928.1h0M973.4 937.2h0M973.7 931.1h0M974.0 931.1h0M974.3 935.9h0M974.6 936.9h0M974.9 938.1h0M975.2 929.7h0M975.5 928.7h0M975.8 925.0h0M976.1 930.5h0M976.4 932.5h0M976.7 941.6h0M976.9 936.7h0M977.2 932.4h0M977.5 940.3h0M977.8 929.4h0M978.1 930.8h0M978.4 930.5h0M978.7 931.3h0M979.0 935.9h0M979.3 933.2h0M979.6 933.9h0M979.9 945.2h0M980.2 930.9h0M980.5 933.5h0M980.8 937.9h0M981.1 941.8h0M981.4 942.3h0M981.7 938.7h0M981.9 938.5h0M982.2 939.3h0M982.5 944.9h0M982.8 936.5h0M983.1 929.4h0M983.4 942.9h0M983.7 936.2h0M984.0 942.3h0M984.3 950.1h0M984.6 943.7h0M984.9 953.0h0M985.2 935.6h0M985.5 945.4h0M985.8 946.5h0M986.1 949.1h0M986.4 941.3h0M986.6 946.2h0M986.9 946.3h0M987.2 946.8h0M987.5 939.2h0M987.8 937.7h0M988.1 949.7h0M988.4 949.1h0M988.7 947.8h0M989.0 951.2h0M989.3 953.8h0M989.6 942.5h0M989.9 952.9h0M990.2 956.8h0M990.5 954.7h0M990.8 952.8h0M991.1 953.7h0M991.3 943.0h0M991.6 948.2h0M991.9 956.3h0M992.2 965.1h0M992.5 954.0h0M992.8 949.6h0M993.1 951.6h0M993.4 957.0h0M993.7 963.3h0M994.0 957.3h0M994.3 950.9h0M994.6 957.1h0M994.9 956.4h0M995.2 966.8h0M995.5 957.8h0M995.8 955.2h0M996.1 955.0h0M996.3 949.3h0M996.6 950.5h0M996.9 953.8h0M997.2 952.4h0M997.5 957.8h0M997.8 957.6h0M998.1 962.2h0M998.4 965.5h0M998.7 958.8h0M999.0 957.3h0M999.3 949.0h0M999.6 960.8h0M999.9 962.5h0M1000.2 955.5h0M1000.5 957.7h0M1000.8 956.4h0M1001.0 965.6h0M1001.3 963.7h0M1001.6 967.0h0M1001.9 954.9h0M1002.2 974.9h0M1002.5 957.2h0M1002.8 956.6h0M1003.1 963.1h0M1003.4 959.5h0M1003.7 971.9h0M1004.0 960.8h0M1004.3 959.6h0M1004.6 968.3h0M1004.9 969.8h0M1005.2 959.6h0M1005.5 961.7h0M1005.7 962.6h0M1006.0 963.8h0M1006.3 973.6h0M1006.6 971.5h0M1006.9 970.8h0M1007.2 972.1h0M1007.5 966.0h0M1007.8 970.6h0M1008.1 966.1h0M1008.4 962.9h0M1008.7 975.4h0M1009.0 958.3h0M1009.3 967.5h0M1009.6 964.8h0M1009.9 959.5h0M1010.2 966.3h0M1010.4 968.8h0M1010.7 971.0h0M1011.0 964.8h0M1011.3 973.0h0M1011.6 971.0h0M1011.9 973.9h0M1012.2 960.3h0M1012.5 968.0h0M1012.8 967.4h0M1013.1 973.7h0M1013.4 967.3h0M1013.7 968.7h0M1014.0 965.8h0M1014.3 965.8h0M1014.6 967.4h0M1014.9 977.3h0M1015.2 967.3h0M1015.4 960.6h0M1015.7 974.7h0M1016.0 971.2h0M1016.3 976.5h0M1016.6 976.7h0M1016.9 972.7h0M1017.2 972.4h0M1017.5 972.0h0M1017.8 975.0h0M1018.1 971.4h0M1018.4 976.6h0M1018.7 982.9h0M1019.0 972.8h0M1019.3 973.3h0M1019.6 973.5h0M1019.9 980.1h0M1020.1 980.6h0M1020.4 984.8h0M1020.7 981.4h0M1021.0 978.8h0M1021.3 980.7h0M1021.6 972.1h0M1021.9 981.8h0M1022.2 980.1h0M1022.5 998.2h0M1022.8 986.7h0M1023.1 975.9h0M1023.4 977.5h0M1023.7 985.0h0M1024.0 970.5h0M1024.3 976.6h0M1024.6 983.3h0M1024.8 984.9h0M1025.1 982.9h0M1025.4 988.0h0M1025.7 981.1h0M1026.0 983.2h0M1026.3 982.0h0M1026.6 977.8h0M1026.9 983.8h0M1027.2 981.0h0M1027.5 984.5h0M1027.8 971.3h0M1028.1 985.1h0M1028.4 982.1h0M1028.7 982.0h0M1029.0 985.6h0M1029.3 983.2h0M1029.6 990.4h0M1029.8 992.3h0M1030.1 990.7h0M1030.4 991.4h0M1030.7 988.6h0M1031.0 987.2h0M1031.3 980.9h0M1031.6 985.7h0M1031.9 993.8h0M1032.2 991.8h0M1032.5 985.8h0M1032.8 989.0h0M1033.1 994.0h0M1033.4 988.2h0M1033.7 997.2h0M1034.0 985.7h0M1034.3 993.6h0M1034.5 993.3h0M1034.8 991.0h0M1035.1 991.8h0M1035.4 993.2h0M1035.7 979.5h0M1036.0 993.3h0M1036.3 996.9h0M1036.6 993.4h0M1036.9 997.3h0M1037.2 986.0h0M1037.5 991.8h0M1037.8 994.0h0M1038.1 991.2h0M1038.4 998.6h0M1038.7 995.4h0M1039.0 990.7h0M1039.2 997.4h0M1039.5 997.7h0M1039.8 991.7h0M1040.1 997.1h0M1040.4 996.1h0M1040.7 996.2h0M1041.0 988.5h0M1041.3 1001.2h0M1041.6 998.3h0M1041.9 995.2h0M1042.2 997.2h0M1042.5 997.4h0M1042.8 994.4h0M1043.1 993.2h0M1043.4 996.8h0M1043.7 993.6h0M1043.9 994.3h0M1044.2 991.2h0M1044.5 995.8h0M1044.8 1002.3h0M1045.1 998.6h0M1045.4 998.0h0M1045.7 996.4h0M1046.0 996.0h0M1046.3 991.0h0M1046.6 1006.7h0M1046.9 995.2h0M1047.2 991.6h0M1047.5 1001.1h0M1047.8 1000.6h0M1048.1 997.0h0M1048.4 992.5h0M1048.7 993.1h0M1048.9 1007.8h0M1049.2 999.7h0M1049.5 997.3h0M1049.8 1009.8h0M1050.1 998.2h0M1050.4 996.5h0M1050.7 1003.9h0M1051.0 1003.3h0M1051.3 1015.5h0M1051.6 994.2h0M1051.9 1003.5h0M1052.2 993.9h0M1052.5 1004.7h0M1052.8 999.4h0M1053.1 1000.5h0M1053.4 999.4h0M1053.6 1007.3h0M1053.9 1011.3h0M1054.2 1003.1h0M1054.5 1002.5h0M1054.8 1001.5h0M1055.1 1006.7h0M1055.4 999.3h0M1055.7 1021.9h0M1056.0 1003.6h0M1056.3 1013.3h0M1056.6 1005.8h0M1056.9 998.5h0M1057.2 997.8h0M1057.5 1003.6h0M1057.8 1002.3h0M1058.1 1004.8h0M1058.3 1000.5h0M1058.6 1017.8h0M1058.9 1016.9h0M1059.2 997.9h0M1059.5 1009.3h0M1059.8 1012.9h0M1060.1 1005.6h0M1060.4 1006.3h0M1060.7 1012.9h0M1061.0 1010.4h0M1061.3 1002.0h0M1061.6 1014.1h0M1061.9 1005.9h0M1062.2 1017.6h0M1062.5 1004.0h0M1062.8 997.7h0M1063.1 1009.5h0M1063.3 1015.1h0M1063.6 1011.9h0M1063.9 1010.3h0M1064.2 1005.2h0M1064.5 1014.4h0M1064.8 1001.0h0M1065.1 1014.1h0M1065.4 1004.5h0M1065.7 1007.6h0M1066.0 1004.3h0M1066.3 1006.4h0M1066.6 1018.3h0M1066.9 1005.5h0M1067.2 1012.3h0M1067.5 1007.6h0M1067.8 1016.8h0M1068.0 1005.2h0M1068.3 1012.1h0M1068.6 1016.7h0M1068.9 1023.5h0M1069.2 1006.8h0M1069.5 1008.4h0M1069.8 1012.6h0M1070.1 1020.3h0M1070.4 1008.2h0M1070.7 1017.4h0M1071.0 1010.5h0M1071.3 1008.6h0M1071.6 1006.1h0M1071.9 1014.7h0M1072.2 1019.0h0M1072.5 1013.9h0M1072.7 1004.1h0M1073.0 1011.9h0M1073.3 1019.6h0M1073.6 1019.3h0M1073.9 1016.5h0M1074.2 1022.6h0M1074.5 1009.3h0M1074.8 1009.6h0M1075.1 1027.5h0M1075.4 1019.3h0M1075.7 1015.2h0M1076.0 1013.9h0M1076.3 1003.8h0M1076.6 1020.7h0M1076.9 1006.7h0M1077.2 1007.3h0M1077.4 1016.9h0M1077.7 1024.7h0M1078.0 1015.5h0M1078.3 1019.4h0M1078.6 1015.6h0M1078.9 1019.8h0M1079.2 1009.9h0M1079.5 1028.5h0M1079.8 1013.6h0M1080.1 1021.3h0M1080.4 1008.6h0M1080.7 1027.6h0M1081.0 1021.1h0M1081.3 1029.0h0M1081.6 1016.1h0M1081.9 1024.6h0M1082.2 1018.8h0M1082.4 1019.6h0M1082.7 1026.3h0M1083.0 1015.7h0M1083.3 1023.9h0M1083.6 1030.0h0M1083.9 1029.1h0M1084.2 1025.9h0M1084.5 1022.5h0M1084.8 1016.3h0M1085.1 1028.2h0M1085.4 1018.0h0M1085.7 1027.4h0M1086.0 1020.0h0M1086.3 1021.9h0M1086.6 1021.9h0M1086.9 1025.1h0M1087.1 1020.1h0M1087.4 1023.3h0M1087.7 1020.0h0M1088.0 1025.3h0M1088.3 1024.2h0M1088.6 1025.1h0M1088.9 1019.0h0M1089.2 1024.9h0M1089.5 1023.6h0M1089.8 1026.4h0M1090.1 1024.0h0M1090.4 1019.1h0M1090.7 1027.5h0M1091.0 1020.8h0M1091.3 1025.7h0M1091.6 1014.3h0M1091.8 1027.0h0M1092.1 1027.9h0M1092.4 1020.4h0M1092.7 1027.8h0M1093.0 1023.3h0M1093.3 1032.0h0M1093.6 1028.6h0M1093.9 1019.5h0M1094.2 1024.7h0M1094.5 1017.2h0M1094.8 1024.4h0M1095.1 1028.8h0M1095.4 1030.3h0M1095.7 1025.9h0M1096.0 1025.4h0M1096.3 1027.5h0M1096.6 1023.9h0M1096.8 1028.6h0M1097.1 1032.6h0M1097.4 1028.3h0M1097.7 1031.6h0M1098.0 1023.8h0M1098.3 1025.4h0M1098.6 1029.6h0M1098.9 1037.9h0M1099.2 1033.2h0M1099.5 1036.7h0M1099.8 1028.8h0M1100.1 1034.7h0M1100.4 1020.7h0M1100.7 1031.6h0M1101.0 1019.1h0M1101.3 1035.3h0M1101.5 1031.8h0M1101.8 1035.3h0M1102.1 1031.8h0M1102.4 1027.6h0M1102.7 1026.5h0M1103.0 1031.2h0M1103.3 1037.7h0M1103.6 1033.6h0M1103.9 1028.1h0M1104.2 1028.2h0M1104.5 1027.6h0M1104.8 1030.2h0M1105.1 1030.9h0M1105.4 1029.2h0M1105.7 1031.7h0M1106.0 1024.2h0M1106.2 1039.5h0M1106.5 1033.3h0M1106.8 1039.6h0M1107.1 1033.8h0M1107.4 1031.6h0M1107.7 1033.1h0M1108.0 1033.9h0M1108.3 1029.8h0M1108.6 1031.3h0M1108.9 1042.5h0M1109.2 1038.0h0M1109.5 1031.1h0M1109.8 1036.3h0M1110.1 1029.9h0M1110.4 1040.8h0M1110.7 1029.4h0M1110.9 1038.6h0M1111.2 1034.6h0M1111.5 1034.8h0M1111.8 1030.9h0M1112.1 1033.7h0M1112.4 1031.4h0M1112.7 1031.1h0M1113.0 1037.6h0M1113.3 1047.6h0M1113.6 1034.0h0M1113.9 1040.6h0M1114.2 1035.9h0M1114.5 1032.7h0M1114.8 1042.7h0M1115.1 1039.4h0M1115.4 1042.0h0M1115.7 1037.3h0M1115.9 1037.5h0M1116.2 1033.1h0M1116.5 1035.9h0M1116.8 1051.9h0M1117.1 1026.6h0M1117.4 1039.4h0M1117.7 1044.8h0M1118.0 1041.7h0M1118.3 1042.2h0M1118.6 1036.9h0M1118.9 1043.7h0M1119.2 1044.0h0M1119.5 1038.5h0M1119.8 1046.8h0M1120.1 1036.6h0M1120.4 1027.3h0M1120.6 1039.2h0M1120.9 1038.8h0M1121.2 1035.5h0M1121.5 1037.5h0M1121.8 1037.3h0M1122.1 1031.3h0M1122.4 1046.0h0M1122.7 1040.3h0M1123.0 1053.2h0M1123.3 1040.5h0M1123.6 1042.6h0M1123.9 1033.7h0M1124.2 1045.9h0M1124.5 1036.0h0M1124.8 1043.9h0M1125.1 1045.9h0M1125.3 1045.3h0M1125.6 1037.9h0M1125.9 1038.2h0M1126.2 1045.7h0M1126.5 1047.9h0M1126.8 1049.3h0M1127.1 1042.5h0M1127.4 1042.2h0M1127.7 1051.4h0M1128.0 1040.3h0M1128.3 1046.8h0M1128.6 1041.9h0M1128.9 1036.8h0M1129.2 1038.4h0M1129.5 1046.0h0M1129.8 1045.0h0M1130.1 1046.5h0M1130.3 1042.7h0M1130.6 1042.1h0M1130.9 1046.0h0M1131.2 1043.9h0M1131.5 1037.4h0M1131.8 1043.0h0M1132.1 1053.2h0M1132.4 1041.8h0M1132.7 1048.1h0M1133.0 1045.3h0M1133.3 1049.3h0M1133.6 1041.9h0M1133.9 1040.1h0M1134.2 1048.4h0M1134.5 1043.1h0M1134.8 1046.4h0M1135.0 1045.3h0M1135.3 1051.4h0M1135.6 1048.2h0M1135.9 1047.8h0M1136.2 1042.8h0M1136.5 1040.1h0M1136.8 1043.7h0M1137.1 1051.7h0M1137.4 1051.1h0M1137.7 1050.8h0M1138.0 1046.3h0M1138.3 1043.5h0M1138.6 1053.8h0M1138.9 1049.4h0M1139.2 1051.2h0M1139.5 1044.4h0M1139.7 1045.8h0M1140.0 1052.1h0M1140.3 1055.5h0M1140.6 1044.7h0M1140.9 1050.8h0M1141.2 1044.1h0M1141.5 1055.4h0M1141.8 1052.9h0M1142.1 1060.6h0M1142.4 1057.1h0M1142.7 1047.1h0M1143.0 1051.2h0M1143.3 1048.2h0M1143.6 1051.2h0M1143.9 1054.3h0M1144.2 1050.7h0M1144.5 1051.1h0M1144.7 1044.7h0M1145.0 1053.8h0M1145.3 1051.1h0M1145.6 1054.2h0M1145.9 1056.2h0M1146.2 1051.6h0M1146.5 1054.8h0M1146.8 1048.8h0M1147.1 1056.1h0M1147.4 1051.7h0M1147.7 1049.2h0M1148.0 1050.9h0M1148.3 1045.5h0M1148.6 1049.2h0M1148.9 1050.3h0M1149.2 1052.5h0M1149.4 1052.1h0M1149.7 1049.6h0M1150.0 1051.8h0M1150.3 1042.8h0M1150.6 1053.2h0M1150.9 1055.5h0M1151.2 1056.6h0M1151.5 1058.0h0M1151.8 1052.2h0M1152.1 1052.8h0M1152.4 1051.0h0M1152.7 1051.1h0M1153.0 1054.0h0M1153.3 1059.7h0M1153.6 1045.7h0M1153.9 1051.4h0M1154.1 1055.0h0M1154.4 1049.2h0M1154.7 1055.8h0M1155.0 1042.5h0M1155.3 1052.4h0M1155.6 1046.5h0M1155.9 1055.4h0M1156.2 1050.6h0M1156.5 1057.3h0M1156.8 1053.0h0M1157.1 1050.0h0M1157.4 1052.6h0M1157.7 1055.2h0M1158.0 1054.6h0M1158.3 1053.6h0M1158.6 1053.2h0M1158.8 1054.9h0M1159.1 1058.9h0M1159.4 1050.2h0M1159.7 1057.2h0M1160.0 1049.1h0M1160.3 1059.5h0M1160.6 1057.1h0M1160.9 1053.9h0M1161.2 1054.0h0M1161.5 1047.8h0M1161.8 1056.2h0M1162.1 1054.7h0M1162.4 1049.5h0M1162.7 1054.0h0M1163.0 1058.7h0M1163.3 1057.0h0M1163.6 1057.5h0M1163.8 1053.8h0M1164.1 1060.4h0M1164.4 1056.5h0M1164.7 1060.6h0M1165.0 1066.9h0M1165.3 1047.7h0M1165.6 1052.7h0M1165.9 1057.1h0M1166.2 1053.8h0M1166.5 1062.0h0M1166.8 1055.8h0M1167.1 1065.2h0M1167.4 1061.1h0M1167.7 1059.7h0M1168.0 1057.8h0M1168.3 1061.9h0M1168.5 1060.4h0M1168.8 1065.0h0M1169.1 1060.3h0M1169.4 1063.2h0M1169.7 1060.5h0M1170.0 1060.3h0M1170.3 1051.8h0M1170.6 1059.1h0M1170.9 1060.9h0M1171.2 1053.9h0M1171.5 1053.1h0M1171.8 1058.1h0M1172.1 1061.0h0M1172.4 1052.0h0M1172.7 1061.3h0M1173.0 1064.4h0M1173.2 1059.0h0M1173.5 1061.4h0M1173.8 1062.5h0M1174.1 1057.5h0M1174.4 1063.5h0M1174.7 1062.9h0M1175.0 1055.3h0M1175.3 1063.4h0M1175.6 1065.2h0M1175.9 1056.4h0M1176.2 1065.4h0M1176.5 1060.4h0M1176.8 1055.6h0M1177.1 1057.1h0M1177.4 1057.9h0M1177.7 1064.6h0M1178.0 1060.0h0M1178.2 1060.6h0M1178.5 1056.7h0M1178.8 1062.7h0M1179.1 1057.1h0M1179.4 1059.8h0M1179.7 1065.8h0M1180.0 1066.1h0M1180.3 1060.8h0M1180.6 1063.1h0M1180.9 1065.9h0M1181.2 1063.6h0M1181.5 1069.2h0M1181.8 1069.9h0M1182.1 1063.6h0M1182.4 1058.5h0M1182.7 1063.5h0M1182.9 1070.5h0M1183.2 1069.6h0M1183.5 1069.9h0M1183.8 1069.8h0M1184.1 1060.6h0M1184.4 1066.1h0M1184.7 1069.9h0M1185.0 1066.3h0M1185.3 1069.2h0M1185.6 1060.7h0M1185.9 1059.9h0M1186.2 1074.7h0M1186.5 1069.1h0M1186.8 1068.5h0M1187.1 1072.5h0M1187.4 1076.1h0M1187.6 1079.2h0M1187.9 1055.2h0M1188.2 1068.0h0M1188.5 1071.0h0M1188.8 1057.7h0M1189.1 1058.4h0M1189.4 1065.8h0M1189.7 1075.3h0M1190.0 1071.1h0M1190.3 1076.8h0M1190.6 1068.3h0M1190.9 1072.0h0M1191.2 1074.2h0M1191.5 1069.4h0M1191.8 1067.3h0M1192.1 1068.6h0M1192.3 1050.7h0M1192.6 1069.1h0M1192.9 1059.3h0M1193.2 1064.1h0M1193.5 1071.2h0M1193.8 1069.9h0M1194.1 1059.0h0M1194.4 1070.6h0M1194.7 1071.8h0M1195.0 1069.3h0M1195.3 1071.7h0M1195.6 1071.2h0M1195.9 1060.9h0M1196.2 1067.8h0M1196.5 1067.5h0M1196.8 1063.4h0M1197.1 1068.8h0M1197.3 1065.4h0M1197.6 1068.8h0M1197.9 1065.4h0M1198.2 1074.2h0M1198.5 1079.6h0M1198.8 1066.9h0M1199.1 1069.8h0M1199.4 1070.0h0M1199.7 1071.8h0M1200.0 1069.1h0M1200.3 1059.8h0M1200.6 1071.7h0M1200.9 1069.5h0M1201.2 1065.3h0M1201.5 1069.3h0M1201.8 1068.0h0M1202.0 1071.5h0M1202.3 1067.8h0M1202.6 1069.2h0M1202.9 1071.1h0M1203.2 1071.8h0M1203.5 1070.8h0M1203.8 1076.1h0M1204.1 1071.9h0M1204.4 1067.4h0M1204.7 1078.8h0M1205.0 1071.5h0M1205.3 1078.2h0M1205.6 1066.2h0M1205.9 1073.7h0M1206.2 1079.0h0M1206.5 1077.0h0M1206.7 1071.6h0M1207.0 1068.6h0M1207.3 1068.5h0M1207.6 1070.5h0M1207.9 1066.9h0M1208.2 1067.9h0M1208.5 1066.8h0M1208.8 1066.8h0M1209.1 1072.5h0M1209.4 1063.3h0M1209.7 1072.1h0M1210.0 1074.5h0M1210.3 1063.6h0M1210.6 1067.2h0M1210.9 1071.5h0M1211.2 1071.2h0M1211.5 1075.7h0M1211.7 1062.2h0M1212.0 1071.0h0M1212.3 1077.7h0M1212.6 1071.7h0M1212.9 1079.3h0M1213.2 1081.2h0M1213.5 1068.7h0M1213.8 1078.0h0M1214.1 1073.5h0M1214.4 1071.1h0M1214.7 1069.8h0M1215.0 1070.1h0M1215.3 1066.9h0M1215.6 1070.2h0M1215.9 1075.3h0M1216.2 1076.7h0M1216.4 1069.2h0M1216.7 1073.3h0M1217.0 1073.0h0M1217.3 1060.0h0M1217.6 1074.0h0M1217.9 1065.1h0M1218.2 1065.4h0M1218.5 1074.5h0M1218.8 1078.2h0M1219.1 1065.5h0M1219.4 1066.5h0M1219.7 1066.1h0M1220.0 1068.0h0M1220.3 1068.6h0M1220.6 1066.6h0M1220.9 1062.9h0M1221.1 1078.4h0M1221.4 1067.9h0M1221.7 1066.7h0M1222.0 1074.3h0M1222.3 1068.5h0M1222.6 1075.1h0M1222.9 1073.6h0M1223.2 1074.5h0M1223.5 1068.2h0M1223.8 1072.9h0M1224.1 1062.8h0M1224.4 1063.6h0M1224.7 1070.2h0M1225.0 1068.4h0M1225.3 1076.0h0M1225.6 1068.5h0M1225.8 1061.7h0M1226.1 1070.0h0M1226.4 1068.3h0M1226.7 1070.5h0M1227.0 1064.3h0M1227.3 1066.0h0M1227.6 1069.8h0M1227.9 1072.9h0M1228.2 1071.4h0M1228.5 1072.9h0M1228.8 1062.8h0M1229.1 1068.4h0M1229.4 1070.3h0M1229.7 1073.7h0M1230.0 1070.5h0M1230.3 1068.1h0M1230.6 1068.6h0M1230.8 1068.7h0M1231.1 1062.6h0M1231.4 1069.3h0M1231.7 1072.7h0M1232.0 1072.2h0M1232.3 1060.4h0M1232.6 1068.9h0M1232.9 1061.9h0M1233.2 1073.8h0M1233.5 1071.2h0M1233.8 1071.9h0M1234.1 1065.6h0M1234.4 1059.7h0M1234.7 1063.7h0M1235.0 1066.9h0M1235.3 1061.6h0M1235.5 1063.8h0M1235.8 1076.3h0M1236.1 1062.2h0M1236.4 1070.7h0M1236.7 1059.6h0M1237.0 1069.2h0M1237.3 1071.8h0M1237.6 1070.0h0M1237.9 1073.4h0M1238.2 1076.0h0M1238.5 1061.4h0M1238.8 1068.8h0M1239.1 1069.9h0M1239.4 1069.4h0M1239.7 1074.7h0M1240.0 1068.6h0M1240.2 1072.7h0M1240.5 1072.4h0M1240.8 1067.7h0M1241.1 1069.4h0M1241.4 1063.3h0M1241.7 1068.1h0M1242.0 1067.5h0M1242.3 1065.8h0M1242.6 1064.2h0M1242.9 1070.6h0M1243.2 1065.5h0M1243.5 1076.3h0M1243.8 1071.6h0M1244.1 1068.9h0M1244.4 1060.4h0M1244.7 1068.9h0M1245.0 1065.0h0M1245.2 1064.3h0M1245.5 1058.4h0M1245.8 1065.7h0M1246.1 1063.6h0M1246.4 1059.8h0M1246.7 1058.3h0M1247.0 1059.5h0M1247.3 1054.1h0M1247.6 1057.0h0M1247.9 1065.2h0M1248.2 1055.2h0M1248.5 1068.1h0M1248.8 1050.5h0M1249.1 1061.0h0M1249.4 1060.2h0M1249.7 1059.8h0M1249.9 1056.2h0M1250.2 1045.1h0M1250.5 1056.8h0M1250.8 1055.2h0M1251.1 1049.0h0M1251.4 1036.4h0M1251.7 1050.9h0M1252.0 1039.9h0M1252.3 1041.4h0M1252.6 1046.8h0M1252.9 1045.6h0M1253.2 1039.4h0M1253.5 1033.2h0M1253.8 1042.3h0M1254.1 1038.0h0M1254.4 1030.0h0M1254.6 1024.3h0M1254.9 1028.4h0M1255.2 1018.5h0M1255.5 1031.5h0M1255.8 1023.3h0M1256.1 1017.0h0M1256.4 1018.6h0M1256.7 1006.4h0M1257.0 1012.2h0M1257.3 1007.4h0M1257.6 1000.9h0M1257.9 1003.8h0M1258.2 1006.9h0M1258.5 996.7h0M1258.8 1001.4h0M1259.1 993.8h0M1259.3 1000.5h0M1259.6 989.4h0M1259.9 1000.3h0M1260.2 998.8h0M1260.5 998.5h0M1260.8 1002.4h0M1261.1 993.6h0M1261.4 992.8h0M1261.7 995.1h0M1262.0 989.9h0M1262.3 983.1h0M1262.6 987.0h0M1262.9 987.7h0M1263.2 995.6h0M1263.5 992.5h0M1263.8 994.9h0M1264.1 1001.0h0M1264.3 1000.5h0M1264.6 1010.9h0M1264.9 1002.3h0M1265.2 999.5h0M1265.5 1012.6h0M1265.8 1007.4h0M1266.1 1012.7h0M1266.4 1021.7h0M1266.7 1021.6h0M1267.0 1027.7h0M1267.3 1024.5h0M1267.6 1028.5h0M1267.9 1035.2h0M1268.2 1031.8h0M1268.5 1034.5h0M1268.8 1038.2h0M1269.0 1047.8h0M1269.3 1049.1h0M1269.6 1044.9h0M1269.9 1045.9h0M1270.2 1043.9h0M1270.5 1054.9h0M1270.8 1052.2h0M1271.1 1056.2h0M1271.4 1046.7h0M1271.7 1058.4h0M1272.0 1056.8h0M1272.3 1061.0h0M1272.6 1063.7h0M1272.9 1060.4h0M1273.2 1060.0h0M1273.5 1066.2h0M1273.7 1058.8h0M1274.0 1072.2h0M1274.3 1068.4h0M1274.6 1062.9h0M1274.9 1075.0h0M1275.2 1074.5h0M1275.5 1078.0h0M1275.8 1076.4h0M1276.1 1074.9h0M1276.4 1073.1h0M1276.7 1069.1h0M1277.0 1078.0h0M1277.3 1077.8h0M1277.6 1073.8h0M1277.9 1079.0h0M1278.2 1072.8h0M1278.5 1082.1h0M1278.7 1078.4h0M1279.0 1079.1h0M1279.3 1075.0h0M1279.6 1082.7h0M1279.9 1079.3h0M1280.2 1075.6h0M1280.5 1078.6h0M1280.8 1073.6h0M1281.1 1076.2h0M1281.4 1060.7h0M1281.7 1058.0h0M1282.0 1067.9h0M1282.3 1051.1h0M1282.6 1050.5h0M1282.9 1041.1h0M1283.2 1038.4h0M1283.4 1042.0h0M1283.7 1010.2h0M1284.0 1011.7h0M1284.3 998.5h0M1284.6 988.4h0M1284.9 976.1h0M1285.2 969.7h0M1285.5 979.4h0M1285.8 976.0h0M1286.1 969.9h0M1286.4 979.9h0M1286.7 978.0h0M1287.0 1004.6h0M1287.3 998.0h0M1287.6 993.3h0M1287.9 1012.3h0M1288.1 1016.1h0M1288.4 1020.5h0M1288.7 1026.3h0M1289.0 1029.4h0M1289.3 1037.5h0M1289.6 1034.7h0M1289.9 1055.2h0M1290.2 1062.4h0M1290.5 1059.1h0M1290.8 1063.2h0M1291.1 1057.3h0M1291.4 1064.7h0M1291.7 1062.9h0M1292.0 1065.8h0M1292.3 1076.3h0M1292.6 1082.1h0M1292.8 1076.9h0M1293.1 1089.9h0M1293.4 1083.7h0M1293.7 1071.1h0M1294.0 1080.6h0M1294.3 1089.4h0M1294.6 1085.3h0M1294.9 1090.1h0M1295.2 1078.8h0M1295.5 1092.8h0M1295.8 1082.5h0M1296.1 1090.0h0M1296.4 1098.6h0M1296.7 1090.0h0M1297.0 1089.2h0M1297.3 1094.1h0M1297.6 1087.5h0M1297.8 1087.4h0M1298.1 1096.5h0M1298.4 1085.9h0M1298.7 1087.4h0M1299.0 1101.1h0M1299.3 1088.0h0M1299.6 1095.9h0M1299.9 1099.1h0M1300.2 1094.1h0M1300.5 1089.9h0M1300.8 1098.5h0M1301.1 1090.9h0M1301.4 1104.7h0M1301.7 1105.3h0M1302.0 1091.1h0M1302.3 1098.4h0M1302.5 1092.9h0M1302.8 1097.9h0M1303.1 1095.2h0M1303.4 1092.1h0M1303.7 1098.9h0M1304.0 1089.5h0M1304.3 1098.3h0M1304.6 1096.4h0M1304.9 1093.7h0M1305.2 1101.3h0M1305.5 1097.6h0M1305.8 1096.0h0M1306.1 1097.0h0M1306.4 1096.8h0M1306.7 1102.1h0M1307.0 1096.8h0M1307.2 1085.4h0M1307.5 1084.6h0M1307.8 1093.8h0M1308.1 1093.0h0M1308.4 1097.5h0M1308.7 1092.9h0M1309.0 1095.5h0M1309.3 1105.1h0M1309.6 1093.5h0M1309.9 1103.3h0M1310.2 1099.2h0M1310.5 1105.7h0M1310.8 1104.1h0M1311.1 1100.6h0M1311.4 1105.3h0M1311.7 1101.7h0M1312.0 1096.0h0M1312.2 1103.3h0M1312.5 1103.6h0M1312.8 1101.1h0M1313.1 1102.9h0M1313.4 1100.1h0M1313.7 1103.7h0M1314.0 1101.2h0M1314.3 1095.9h0M1314.6 1101.7h0M1314.9 1110.1h0M1315.2 1106.9h0M1315.5 1110.1h0M1315.8 1103.7h0M1316.1 1102.1h0M1316.4 1099.4h0M1316.7 1104.9h0M1316.9 1108.9h0M1317.2 1108.2h0M1317.5 1108.0h0M1317.8 1102.7h0M1318.1 1105.5h0M1318.4 1101.8h0M1318.7 1109.0h0M1319.0 1108.1h0M1319.3 1102.8h0M1319.6 1106.3h0M1319.9 1095.9h0M1320.2 1109.1h0M1320.5 1102.5h0M1320.8 1104.5h0M1321.1 1108.9h0M1321.4 1109.3h0M1321.6 1103.5h0M1321.9 1113.5h0M1322.2 1115.4h0M1322.5 1113.0h0M1322.8 1112.5h0M1323.1 1107.1h0M1323.4 1113.0h0M1323.7 1103.2h0M1324.0 1102.3h0M1324.3 1107.9h0M1324.6 1108.4h0M1324.9 1103.6h0M1325.2 1115.2h0M1325.5 1101.1h0M1325.8 1098.6h0M1326.1 1105.9h0M1326.3 1114.9h0M1326.6 1111.1h0M1326.9 1109.4h0M1327.2 1108.6h0M1327.5 1110.5h0M1327.8 1109.5h0M1328.1 1108.6h0M1328.4 1107.7h0M1328.7 1101.3h0M1329.0 1112.6h0M1329.3 1106.5h0M1329.6 1110.1h0M1329.9 1110.7h0M1330.2 1113.1h0M1330.5 1105.2h0M1330.8 1112.3h0M1331.1 1112.5h0M1331.3 1108.4h0M1331.6 1108.7h0M1331.9 1109.6h0M1332.2 1104.6h0M1332.5 1107.1h0M1332.8 1104.2h0M1333.1 1114.4h0M1333.4 1105.8h0M1333.7 1104.6h0M1334.0 1110.0h0M1334.3 1111.7h0M1334.6 1107.8h0M1334.9 1105.3h0M1335.2 1111.3h0M1335.5 1113.3h0M1335.8 1102.5h0M1336.0 1113.6h0M1336.3 1102.0h0M1336.6 1112.6h0M1336.9 1107.9h0M1337.2 1108.7h0M1337.5 1113.0h0M1337.8 1116.2h0M1338.1 1119.0h0M1338.4 1115.9h0M1338.7 1113.0h0M1339.0 1104.2h0M1339.3 1108.3h0M1339.6 1110.7h0M1339.9 1107.5h0M1340.2 1112.7h0M1340.5 1109.2h0M1340.7 1118.0h0M1341.0 1109.5h0M1341.3 1104.8h0M1341.6 1108.1h0M1341.9 1107.2h0M1342.2 1113.4h0M1342.5 1116.5h0M1342.8 1114.9h0M1343.1 1114.9h0M1343.4 1107.5h0M1343.7 1105.7h0M1344.0 1107.0h0M1344.3 1110.7h0M1344.6 1109.1h0M1344.9 1111.9h0M1345.2 1115.1h0M1345.5 1111.0h0M1345.7 1118.1h0M1346.0 1107.4h0M1346.3 1113.5h0M1346.6 1110.5h0M1346.9 1115.2h0M1347.2 1110.7h0M1347.5 1108.6h0M1347.8 1110.3h0M1348.1 1107.1h0M1348.4 1106.2h0M1348.7 1114.4h0M1349.0 1108.3h0M1349.3 1116.2h0M1349.6 1121.9h0M1349.9 1109.4h0M1350.2 1114.8h0M1350.4 1110.7h0M1350.7 1102.8h0M1351.0 1110.6h0M1351.3 1117.5h0M1351.6 1105.8h0M1351.9 1110.4h0M1352.2 1110.3h0M1352.5 1104.8h0M1352.8 1112.5h0M1353.1 1110.5h0M1353.4 1113.7h0M1353.7 1111.4h0M1354.0 1105.0h0M1354.3 1111.8h0M1354.6 1113.9h0M1354.9 1110.1h0M1355.1 1113.6h0M1355.4 1113.6h0M1355.7 1101.9h0M1356.0 1113.9h0M1356.3 1102.4h0M1356.6 1105.6h0M1356.9 1110.6h0M1357.2 1107.0h0M1357.5 1107.7h0M1357.8 1116.0h0M1358.1 1106.5h0M1358.4 1116.3h0M1358.7 1119.1h0M1359.0 1117.3h0M1359.3 1106.4h0M1359.6 1104.5h0M1359.8 1111.5h0M1360.1 1120.4h0M1360.4 1110.3h0M1360.7 1108.8h0M1361.0 1110.7h0M1361.3 1114.5h0M1361.6 1116.4h0M1361.9 1111.2h0M1362.2 1110.7h0M1362.5 1113.4h0M1362.8 1111.4h0M1363.1 1109.5h0M1363.4 1103.6h0M1363.7 1111.8h0M1364.0 1108.6h0M1364.3 1110.2h0M1364.6 1110.0h0M1364.8 1107.4h0M1365.1 1113.7h0M1365.4 1115.9h0M1365.7 1113.5h0M1366.0 1108.4h0M1366.3 1112.0h0M1366.6 1114.2h0M1366.9 1110.7h0M1367.2 1114.2h0M1367.5 1105.0h0M1367.8 1110.2h0M1368.1 1117.3h0M1368.4 1115.4h0M1368.7 1110.4h0M1369.0 1111.5h0M1369.3 1120.3h0M1369.5 1115.6h0M1369.8 1107.8h0M1370.1 1112.1h0M1370.4 1108.8h0M1370.7 1108.1h0M1371.0 1105.4h0M1371.3 1113.7h0M1371.6 1120.2h0M1371.9 1114.2h0M1372.2 1104.8h0M1372.5 1112.7h0M1372.8 1104.0h0M1373.1 1111.2h0M1373.4 1114.7h0M1373.7 1116.5h0M1374.0 1110.6h0M1374.2 1111.4h0M1374.5 1109.9h0M1374.8 1109.1h0M1375.1 1116.5h0M1375.4 1105.5h0M1375.7 1102.6h0M1376.0 1117.1h0M1376.3 1119.2h0M1376.6 1102.4h0M1376.9 1113.3h0M1377.2 1112.6h0M1377.5 1107.2h0M1377.8 1104.8h0M1378.1 1109.5h0M1378.4 1107.3h0M1378.7 1112.2h0M1379.0 1105.8h0M1379.2 1113.6h0M1379.5 1105.6h0M1379.8 1115.3h0M1380.1 1112.0h0M1380.4 1113.0h0M1380.7 1106.3h0M1381.0 1106.1h0M1381.3 1107.3h0M1381.6 1112.8h0M1381.9 1104.7h0M1382.2 1104.0h0M1382.5 1106.3h0M1382.8 1108.8h0M1383.1 1106.8h0M1383.4 1106.7h0M1383.7 1101.2h0M1383.9 1102.0h0M1384.2 1102.0h0M1384.5 1111.2h0M1384.8 1106.3h0M1385.1 1109.4h0M1385.4 1100.6h0M1385.7 1106.0h0M1386.0 1107.7h0M1386.3 1101.4h0M1386.6 1103.1h0M1386.9 1103.6h0M1387.2 1106.4h0M1387.5 1106.8h0M1387.8 1099.3h0M1388.1 1106.8h0M1388.4 1106.2h0M1388.6 1106.5h0M1388.9 1101.3h0M1389.2 1104.6h0M1389.5 1110.4h0M1389.8 1109.7h0M1390.1 1101.9h0M1390.4 1111.5h0M1390.7 1102.5h0M1391.0 1100.3h0M1391.3 1109.0h0M1391.6 1105.4h0M1391.9 1113.9h0M1392.2 1102.7h0M1392.5 1104.2h0M1392.8 1106.7h0M1393.1 1104.5h0M1393.3 1101.4h0M1393.6 1103.0h0M1393.9 1102.8h0M1394.2 1102.6h0M1394.5 1102.4h0M1394.8 1095.7h0M1395.1 1106.2h0M1395.4 1099.4h0M1395.7 1100.9h0M1396.0 1098.3h0M1396.3 1100.7h0M1396.6 1105.7h0M1396.9 1111.3h0M1397.2 1102.5h0M1397.5 1101.7h0M1397.8 1098.5h0M1398.1 1099.4h0M1398.3 1101.4h0M1398.6 1099.5h0M1398.9 1095.7h0M1399.2 1100.1h0M1399.5 1095.1h0M1399.8 1108.6h0M1400.1 1100.6h0M1400.4 1096.6h0M1400.7 1100.9h0M1401.0 1095.4h0M1401.3 1097.4h0M1401.6 1105.1h0M1401.9 1103.7h0M1402.2 1092.6h0M1402.5 1092.7h0M1402.8 1095.2h0M1403.0 1107.1h0M1403.3 1097.3h0M1403.6 1097.9h0M1403.9 1094.3h0M1404.2 1102.2h0M1404.5 1100.3h0M1404.8 1088.2h0M1405.1 1091.9h0M1405.4 1087.3h0M1405.7 1090.0h0M1406.0 1091.3h0M1406.3 1088.7h0M1406.6 1091.6h0M1406.9 1097.2h0M1407.2 1098.9h0M1407.5 1094.1h0M1407.7 1096.6h0M1408.0 1087.1h0M1408.3 1099.4h0M1408.6 1102.8h0M1408.9 1091.7h0M1409.2 1094.6h0M1409.5 1093.4h0M1409.8 1081.9h0M1410.1 1095.8h0M1410.4 1093.1h0M1410.7 1083.5h0M1411.0 1088.5h0M1411.3 1095.3h0M1411.6 1092.4h0M1411.9 1083.4h0M1412.2 1086.7h0M1412.5 1085.9h0M1412.7 1089.3h0M1413.0 1085.2h0M1413.3 1088.2h0M1413.6 1086.9h0M1413.9 1080.8h0M1414.2 1088.9h0M1414.5 1087.9h0M1414.8 1083.4h0M1415.1 1089.4h0M1415.4 1096.0h0M1415.7 1078.3h0M1416.0 1086.1h0M1416.3 1088.5h0M1416.6 1084.5h0M1416.9 1081.4h0M1417.2 1093.5h0M1417.4 1080.9h0M1417.7 1082.2h0M1418.0 1079.5h0M1418.3 1087.5h0M1418.6 1071.9h0M1418.9 1077.1h0M1419.2 1078.6h0M1419.5 1081.7h0M1419.8 1081.3h0M1420.1 1083.8h0M1420.4 1078.3h0M1420.7 1075.0h0M1421.0 1077.5h0M1421.3 1073.3h0M1421.6 1074.3h0M1421.9 1074.0h0M1422.1 1077.0h0M1422.4 1078.8h0M1422.7 1069.4h0M1423.0 1071.1h0M1423.3 1073.1h0M1423.6 1072.5h0M1423.9 1070.6h0M1424.2 1073.6h0M1424.5 1069.2h0M1424.8 1061.4h0M1425.1 1074.5h0M1425.4 1061.8h0M1425.7 1074.0h0M1426.0 1066.7h0M1426.3 1066.0h0M1426.6 1056.7h0M1426.9 1063.5h0M1427.1 1060.2h0M1427.4 1056.1h0M1427.7 1061.2h0M1428.0 1060.9h0M1428.3 1061.6h0M1428.6 1049.1h0M1428.9 1049.8h0M1429.2 1058.5h0M1429.5 1053.1h0M1429.8 1052.9h0M1430.1 1045.1h0M1430.4 1047.5h0M1430.7 1047.8h0M1431.0 1036.3h0M1431.3 1036.7h0M1431.6 1038.9h0M1431.8 1042.0h0M1432.1 1031.1h0M1432.4 1033.9h0M1432.7 1024.3h0M1433.0 1020.2h0M1433.3 1026.3h0M1433.6 1015.9h0M1433.9 1018.4h0M1434.2 1013.0h0M1434.5 1015.5h0M1434.8 1004.2h0M1435.1 1000.7h0M1435.4 997.7h0M1435.7 1000.6h0M1436.0 1004.8h0M1436.3 999.5h0M1436.5 993.3h0M1436.8 988.6h0M1437.1 992.1h0M1437.4 982.4h0M1437.7 984.4h0M1438.0 981.7h0M1438.3 973.9h0M1438.6 968.2h0M1438.9 964.4h0M1439.2 959.2h0M1439.5 959.6h0M1439.8 953.7h0M1440.1 954.5h0M1440.4 967.8h0M1440.7 960.9h0M1441.0 955.0h0M1441.2 972.6h0M1441.5 975.2h0M1441.8 973.5h0M1442.1 968.1h0M1442.4 986.8h0M1442.7 985.6h0M1443.0 989.4h0M1443.3 985.6h0M1443.6 993.1h0M1443.9 994.4h0M1444.2 999.6h0M1444.5 1000.1h0M1444.8 1006.7h0M1445.1 1012.3h0M1445.4 1018.6h0M1445.7 1026.6h0M1446.0 1027.9h0M1446.2 1020.2h0M1446.5 1036.7h0M1446.8 1027.9h0M1447.1 1040.1h0M1447.4 1039.8h0M1447.7 1043.6h0M1448.0 1043.6h0M1448.3 1043.2h0M1448.6 1057.7h0M1448.9 1041.0h0M1449.2 1050.1h0M1449.5 1062.0h0M1449.8 1057.7h0M1450.1 1059.5h0M1450.4 1057.2h0M1450.7 1057.5h0M1450.9 1066.8h0M1451.2 1064.9h0M1451.5 1068.6h0M1451.8 1071.9h0M1452.1 1062.1h0M1452.4 1066.5h0M1452.7 1069.5h0M1453.0 1074.8h0M1453.3 1078.3h0M1453.6 1071.8h0M1453.9 1076.8h0M1454.2 1078.6h0M1454.5 1080.0h0M1454.8 1088.9h0M1455.1 1080.2h0M1455.4 1085.8h0M1455.6 1076.3h0M1455.9 1087.6h0M1456.2 1090.2h0M1456.5 1094.3h0M1456.8 1090.3h0M1457.1 1091.5h0M1457.4 1089.9h0M1457.7 1094.2h0M1458.0 1107.9h0M1458.3 1090.9h0M1458.6 1091.7h0M1458.9 1100.2h0M1459.2 1096.0h0M1459.5 1105.8h0M1459.8 1093.8h0M1460.1 1107.4h0M1460.4 1098.1h0M1460.6 1092.5h0M1460.9 1089.6h0M1461.2 1094.9h0M1461.5 1095.5h0M1461.8 1099.3h0M1462.1 1091.4h0M1462.4 1109.8h0M1462.7 1099.3h0M1463.0 1094.1h0M1463.3 1091.4h0M1463.6 1104.3h0M1463.9 1087.0h0M1464.2 1091.4h0M1464.5 1092.1h0M1464.8 1078.6h0M1465.1 1082.6h0M1465.3 1075.0h0M1465.6 1080.9h0M1465.9 1078.7h0M1466.2 1072.5h0M1466.5 1068.9h0M1466.8 1061.3h0M1467.1 1077.3h0M1467.4 1073.0h0M1467.7 1069.8h0M1468.0 1074.3h0M1468.3 1069.0h0M1468.6 1065.4h0M1468.9 1076.7h0M1469.2 1070.1h0M1469.5 1074.1h0M1469.8 1081.9h0M1470.0 1073.2h0M1470.3 1082.5h0M1470.6 1083.1h0M1470.9 1081.5h0M1471.2 1083.6h0M1471.5 1090.4h0M1471.8 1092.4h0M1472.1 1096.5h0M1472.4 1091.2h0M1472.7 1099.8h0M1473.0 1095.3h0M1473.3 1098.7h0M1473.6 1107.9h0M1473.9 1102.0h0M1474.2 1104.1h0M1474.5 1103.8h0M1474.7 1108.4h0M1475.0 1113.1h0M1475.3 1108.8h0M1475.6 1113.9h0M1475.9 1106.0h0M1476.2 1114.0h0M1476.5 1111.9h0M1476.8 1113.0h0M1477.1 1108.9h0M1477.4 1110.5h0M1477.7 1114.8h0M1478.0 1108.6h0M1478.3 1117.2h0M1478.6 1112.2h0M1478.9 1116.2h0M1479.2 1109.6h0M1479.5 1107.6h0M1479.7 1117.5h0M1480.0 1117.9h0M1480.3 1114.9h0M1480.6 1118.0h0M1480.9 1115.3h0M1481.2 1118.3h0M1481.5 1116.2h0M1481.8 1111.5h0M1482.1 1120.5h0M1482.4 1111.7h0M1482.7 1125.7h0M1483.0 1114.9h0M1483.3 1112.2h0M1483.6 1115.3h0M1483.9 1116.6h0M1484.2 1117.0h0M1484.4 1118.9h0M1484.7 1114.1h0M1485.0 1107.9h0M1485.3 1113.1h0M1485.6 1118.8h0M1485.9 1121.8h0M1486.2 1108.5h0M1486.5 1117.6h0M1486.8 1122.0h0M1487.1 1111.2h0M1487.4 1124.7h0M1487.7 1114.1h0M1488.0 1117.0h0M1488.3 1115.4h0M1488.6 1125.3h0M1488.9 1121.6h0M1489.1 1118.4h0M1489.4 1116.3h0M1489.7 1110.6h0M1490.0 1116.7h0M1490.3 1115.4h0M1490.6 1117.5h0M1490.9 1109.9h0M1491.2 1123.6h0M1491.5 1122.1h0M1491.8 1125.2h0M1492.1 1115.8h0M1492.4 1118.2h0M1492.7 1113.2h0M1493.0 1122.3h0M1493.3 1117.6h0M1493.6 1125.8h0M1493.9 1121.8h0M1494.1 1122.0h0M1494.4 1121.1h0M1494.7 1112.4h0M1495.0 1122.0h0M1495.3 1112.0h0M1495.6 1120.2h0M1495.9 1121.5h0M1496.2 1114.1h0M1496.5 1116.4h0M1496.8 1118.4h0M1497.1 1120.3h0M1497.4 1120.5h0M1497.7 1119.4h0M1498.0 1115.5h0M1498.3 1120.5h0M1498.6 1130.1h0M1498.8 1117.0h0M1499.1 1126.3h0M1499.4 1114.4h0M1499.7 1116.8h0M1500.0 1125.3h0M1500.3 1123.3h0M1500.6 1126.6h0M1500.9 1122.3h0M1501.2 1117.2h0M1501.5 1120.1h0M1501.8 1118.0h0M1502.1 1128.0h0M1502.4 1122.6h0M1502.7 1125.4h0M1503.0 1117.1h0M1503.3 1119.0h0M1503.5 1118.3h0M1503.8 1118.7h0M1504.1 1119.6h0M1504.4 1125.8h0M1504.7 1121.0h0M1505.0 1125.5h0M1505.3 1121.4h0M1505.6 1112.9h0M1505.9 1114.7h0M1506.2 1119.9h0M1506.5 1125.7h0M1506.8 1120.8h0M1507.1 1114.5h0M1507.4 1121.5h0M1507.7 1119.9h0M1508.0 1123.6h0M1508.2 1124.7h0M1508.5 1122.4h0M1508.8 1118.5h0M1509.1 1116.9h0M1509.4 1119.9h0M1509.7 1121.1h0M1510.0 1123.1h0M1510.3 1119.6h0M1510.6 1118.9h0M1510.9 1123.8h0M1511.2 1125.3h0M1511.5 1123.0h0M1511.8 1117.5h0M1512.1 1120.6h0M1512.4 1131.3h0M1512.7 1117.5h0M1513.0 1120.6h0M1513.2 1126.1h0M1513.5 1118.2h0M1513.8 1121.0h0M1514.1 1127.9h0M1514.4 1126.7h0M1514.7 1114.9h0M1515.0 1125.2h0M1515.3 1121.3h0M1515.6 1116.8h0M1515.9 1127.4h0M1516.2 1120.7h0M1516.5 1122.8h0M1516.8 1119.4h0M1517.1 1126.5h0M1517.4 1127.0h0M1517.7 1126.6h0M1517.9 1133.6h0M1518.2 1126.1h0M1518.5 1122.2h0M1518.8 1125.9h0M1519.1 1125.2h0M1519.4 1126.9h0M1519.7 1113.9h0M1520.0 1127.7h0M1520.3 1132.8h0M1520.6 1128.0h0M1520.9 1121.7h0M1521.2 1133.7h0M1521.5 1127.9h0M1521.8 1133.5h0M1522.1 1129.1h0M1522.4 1123.7h0M1522.6 1118.2h0M1522.9 1126.8h0M1523.2 1127.6h0M1523.5 1123.7h0M1523.8 1119.9h0M1524.1 1129.1h0M1524.4 1122.4h0M1524.7 1131.6h0M1525.0 1123.4h0M1525.3 1127.4h0M1525.6 1124.4h0M1525.9 1127.6h0M1526.2 1128.2h0M1526.5 1116.9h0M1526.8 1123.0h0M1527.1 1122.5h0M1527.4 1123.5h0M1527.6 1125.7h0M1527.9 1130.9h0M1528.2 1121.7h0M1528.5 1128.4h0M1528.8 1123.8h0M1529.1 1123.1h0M1529.4 1119.8h0M1529.7 1122.9h0M1530.0 1121.5h0M1530.3 1128.1h0M1530.6 1132.7h0M1530.9 1128.5h0M1531.2 1129.4h0M1531.5 1122.8h0M1531.8 1129.2h0M1532.1 1122.7h0M1532.3 1122.4h0M1532.6 1127.4h0M1532.9 1123.6h0M1533.2 1129.0h0M1533.5 1127.0h0M1533.8 1125.3h0M1534.1 1124.0h0M1534.4 1127.3h0M1534.7 1127.6h0M1535.0 1126.9h0M1535.3 1131.3h0M1535.6 1124.2h0M1535.9 1120.8h0M1536.2 1121.1h0M1536.5 1122.6h0M1536.8 1122.8h0M1537.0 1126.2h0M1537.3 1133.7h0M1537.6 1122.5h0M1537.9 1123.3h0M1538.2 1124.6h0M1538.5 1122.7h0M1538.8 1123.7h0M1539.1 1129.9h0M1539.4 1132.3h0M1539.7 1124.0h0M1540.0 1126.7h0M1540.3 1130.9h0M1540.6 1128.4h0M1540.9 1126.3h0M1541.2 1128.6h0M1541.5 1126.7h0M1541.7 1124.3h0M1542.0 1129.3h0M1542.3 1124.5h0M1542.6 1125.1h0M1542.9 1128.5h0M1543.2 1122.4h0M1543.5 1130.2h0M1543.8 1122.4h0M1544.1 1123.2h0M1544.4 1129.6h0M1544.7 1130.1h0M1545.0 1131.3h0M1545.3 1132.9h0M1545.6 1123.3h0M1545.9 1126.3h0M1546.2 1122.9h0M1546.5 1124.3h0M1546.7 1131.0h0M1547.0 1128.8h0M1547.3 1128.6h0M1547.6 1129.2h0M1547.9 1125.8h0M1548.2 1132.8h0M1548.5 1123.5h0M1548.8 1130.4h0M1549.1 1125.2h0M1549.4 1123.9h0M1549.7 1136.0h0M1550.0 1126.2h0M1550.3 1130.6h0M1550.6 1124.5h0M1550.9 1124.8h0M1551.2 1132.8h0M1551.4 1129.6h0M1551.7 1128.2h0M1552.0 1129.9h0M1552.3 1130.5h0M1552.6 1131.5h0M1552.9 1130.1h0M1553.2 1130.9h0M1553.5 1129.4h0M1553.8 1128.8h0M1554.1 1132.8h0M1554.4 1119.2h0M1554.7 1131.7h0M1555.0 1128.4h0M1555.3 1129.1h0M1555.6 1127.4h0M1555.9 1125.5h0M1556.1 1131.0h0M1556.4 1123.6h0M1556.7 1124.5h0M1557.0 1124.5h0M1557.3 1135.4h0M1557.6 1128.6h0M1557.9 1128.5h0M1558.2 1122.8h0M1558.5 1129.0h0M1558.8 1132.2h0M1559.1 1124.3h0M1559.4 1129.1h0M1559.7 1129.7h0M1560.0 1131.4h0M1560.3 1132.9h0M1560.6 1137.1h0M1560.9 1129.0h0M1561.1 1129.1h0M1561.4 1126.4h0M1561.7 1133.0h0M1562.0 1129.0h0M1562.3 1131.1h0M1562.6 1132.1h0M1562.9 1128.7h0M1563.2 1128.6h0M1563.5 1130.0h0M1563.8 1130.0h0M1564.1 1129.7h0M1564.4 1128.9h0M1564.7 1129.4h0M1565.0 1134.6h0M1565.3 1127.1h0M1565.6 1130.0h0M1565.8 1129.8h0M1566.1 1134.2h0M1566.4 1127.7h0M1566.7 1128.9h0M1567.0 1127.8h0M1567.3 1133.3h0M1567.6 1132.6h0M1567.9 1131.8h0M1568.2 1130.7h0M1568.5 1139.3h0M1568.8 1131.4h0M1569.1 1122.4h0M1569.4 1124.3h0M1569.7 1124.6h0M1570.0 1128.5h0M1570.3 1124.1h0M1570.5 1130.4h0M1570.8 1124.5h0M1571.1 1130.2h0M1571.4 1127.8h0M1571.7 1132.5h0M1572.0 1131.0h0M1572.3 1126.6h0M1572.6 1137.9h0M1572.9 1125.9h0M1573.2 1128.4h0M1573.5 1124.9h0M1573.8 1134.6h0M1574.1 1134.5h0M1574.4 1130.3h0M1574.7 1120.7h0M1575.0 1133.9h0M1575.2 1138.1h0M1575.5 1127.2h0M1575.8 1132.7h0M1576.1 1134.5h0M1576.4 1131.0h0M1576.7 1126.1h0M1577.0 1130.1h0M1577.3 1128.3h0M1577.6 1133.2h0M1577.9 1123.8h0M1578.2 1133.1h0M1578.5 1131.3h0M1578.8 1124.6h0M1579.1 1126.9h0M1579.4 1133.3h0M1579.7 1136.4h0M1580.0 1134.7h0M1580.2 1143.1h0M1580.5 1132.0h0M1580.8 1126.3h0M1581.1 1131.3h0M1581.4 1128.2h0M1581.7 1121.4h0M1582.0 1135.6h0M1582.3 1127.2h0M1582.6 1127.5h0M1582.9 1138.8h0M1583.2 1128.7h0M1583.5 1127.9h0M1583.8 1134.9h0M1584.1 1139.1h0M1584.4 1123.7h0M1584.7 1126.9h0M1584.9 1128.9h0M1585.2 1134.8h0M1585.5 1132.6h0M1585.8 1140.0h0M1586.1 1125.5h0M1586.4 1131.1h0M1586.7 1137.7h0M1587.0 1124.0h0M1587.3 1136.1h0M1587.6 1128.2h0M1587.9 1132.9h0M1588.2 1127.3h0M1588.5 1134.4h0M1588.8 1135.0h0M1589.1 1131.1h0M1589.4 1138.6h0M1589.6 1127.7h0M1589.9 1135.9h0M1590.2 1127.1h0M1590.5 1135.9h0M1590.8 1135.4h0M1591.1 1128.9h0M1591.4 1138.5h0M1591.7 1131.8h0M1592.0 1126.3h0M1592.3 1130.7h0M1592.6 1135.8h0M1592.9 1132.3h0M1593.2 1135.9h0M1593.5 1138.0h0M1593.8 1135.6h0M1594.1 1134.4h0M1594.4 1133.1h0M1594.6 1134.2h0M1594.9 1138.3h0M1595.2 1129.8h0M1595.5 1131.5h0M1595.8 1135.6h0M1596.1 1128.3h0M1596.4 1136.5h0M1596.7 1132.5h0M1597.0 1134.5h0M1597.3 1129.9h0M1597.6 1131.6h0M1597.9 1137.5h0M1598.2 1128.0h0M1598.5 1136.8h0M1598.8 1137.2h0M1599.1 1133.0h0M1599.3 1124.5h0M1599.6 1128.0h0M1599.9 1134.3h0M1600.2 1137.1h0M1600.5 1126.9h0M1600.8 1134.2h0M1601.1 1133.7h0M1601.4 1126.5h0M1601.7 1133.5h0M1602.0 1129.6h0M1602.3 1126.5h0M1602.6 1140.2h0M1602.9 1129.7h0M1603.2 1126.9h0M1603.5 1126.9h0M1603.8 1140.9h0M1604.0 1137.0h0M1604.3 1135.2h0M1604.6 1129.5h0M1604.9 1134.5h0M1605.2 1133.3h0M1605.5 1136.0h0M1605.8 1126.9h0M1606.1 1136.0h0M1606.4 1137.1h0M1606.7 1129.3h0M1607.0 1129.2h0M1607.3 1132.6h0M1607.6 1127.5h0M1607.9 1131.9h0M1608.2 1131.9h0M1608.5 1138.9h0M1608.7 1129.0h0M1609.0 1131.9h0M1609.3 1138.7h0M1609.6 1126.1h0M1609.9 1137.6h0M1610.2 1131.3h0M1610.5 1135.7h0M1610.8 1133.3h0M1611.1 1136.0h0M1611.4 1119.4h0M1611.7 1130.4h0M1612.0 1124.3h0M1612.3 1132.2h0M1612.6 1130.7h0M1612.9 1133.7h0M1613.2 1140.5h0M1613.5 1135.7h0M1613.7 1135.3h0M1614.0 1136.3h0M1614.3 1132.6h0M1614.6 1140.0h0M1614.9 1136.5h0M1615.2 1133.9h0M1615.5 1138.9h0M1615.8 1132.3h0M1616.1 1131.7h0M1616.4 1130.2h0M1616.7 1128.0h0M1617.0 1128.8h0M1617.3 1138.8h0M1617.6 1132.1h0M1617.9 1133.8h0M1618.2 1137.0h0M1618.4 1133.3h0M1618.7 1129.9h0M1619.0 1130.5h0M1619.3 1132.1h0M1619.6 1138.3h0M1619.9 1131.9h0M1620.2 1131.7h0M1620.5 1136.3h0M1620.8 1134.2h0M1621.1 1134.4h0M1621.4 1135.1h0M1621.7 1141.3h0M1622.0 1132.8h0M1622.3 1132.3h0M1622.6 1141.8h0M1622.9 1130.5h0M1623.1 1127.1h0M1623.4 1138.0h0M1623.7 1132.4h0M1624.0 1134.3h0M1624.3 1134.8h0M1624.6 1129.7h0M1624.9 1136.6h0M1625.2 1129.5h0M1625.5 1138.1h0M1625.8 1139.3h0M1626.1 1131.7h0M1626.4 1139.2h0M1626.7 1135.4h0M1627.0 1142.4h0M1627.3 1134.8h0M1627.6 1127.2h0M1627.9 1127.2h0M1628.1 1138.5h0M1628.4 1132.9h0M1628.7 1136.5h0M1629.0 1130.2h0M1629.3 1132.5h0M1629.6 1125.6h0M1629.9 1136.6h0M1630.2 1138.3h0M1630.5 1131.8h0M1630.8 1137.1h0M1631.1 1132.0h0M1631.4 1136.6h0M1631.7 1133.2h0M1632.0 1128.4h0M1632.3 1137.1h0M1632.6 1127.3h0M1632.8 1142.8h0M1633.1 1128.5h0M1633.4 1126.9h0M1633.7 1136.4h0M1634.0 1130.9h0M1634.3 1137.8h0M1634.6 1129.4h0M1634.9 1141.5h0M1635.2 1140.7h0M1635.5 1131.0h0M1635.8 1143.7h0M1636.1 1133.6h0M1636.4 1135.5h0M1636.7 1132.8h0M1637.0 1136.7h0M1637.3 1137.2h0M1637.5 1135.1h0M1637.8 1136.9h0M1638.1 1136.2h0M1638.4 1137.7h0M1638.7 1130.3h0M1639.0 1134.0h0M1639.3 1130.9h0M1639.6 1135.6h0M1639.9 1135.6h0M1640.2 1135.1h0M1640.5 1133.1h0M1640.8 1143.6h0M1641.1 1131.9h0M1641.4 1138.2h0M1641.7 1134.2h0M1642.0 1142.2h0M1642.2 1141.2h0M1642.5 1137.9h0M1642.8 1139.0h0M1643.1 1132.7h0M1643.4 1132.0h0M1643.7 1139.5h0M1644.0 1136.4h0M1644.3 1129.9h0M1644.6 1135.7h0M1644.9 1130.9h0M1645.2 1130.4h0M1645.5 1136.2h0M1645.8 1136.7h0M1646.1 1135.2h0M1646.4 1134.4h0M1646.7 1132.2h0M1647.0 1135.7h0M1647.2 1136.1h0M1647.5 1134.6h0M1647.8 1146.5h0M1648.1 1135.5h0M1648.4 1137.2h0M1648.7 1133.5h0M1649.0 1136.0h0M1649.3 1137.0h0M1649.6 1139.2h0M1649.9 1124.3h0M1650.2 1141.3h0M1650.5 1139.2h0M1650.8 1138.0h0M1651.1 1132.7h0M1651.4 1129.7h0M1651.7 1132.4h0M1651.9 1140.0h0M1652.2 1139.9h0M1652.5 1137.2h0M1652.8 1140.2h0M1653.1 1133.4h0M1653.4 1132.7h0M1653.7 1142.6h0M1654.0 1142.0h0M1654.3 1140.7h0M1654.6 1142.0h0M1654.9 1137.3h0M1655.2 1128.0h0M1655.5 1136.5h0M1655.8 1142.2h0M1656.1 1136.6h0M1656.4 1140.6h0M1656.6 1140.3h0M1656.9 1134.0h0M1657.2 1139.9h0M1657.5 1138.2h0M1657.8 1131.8h0M1658.1 1142.3h0M1658.4 1133.4h0M1658.7 1139.9h0M1659.0 1140.0h0M1659.3 1134.8h0M1659.6 1134.2h0M1659.9 1139.9h0M1660.2 1139.1h0M1660.5 1143.1h0M1660.8 1138.9h0M1661.1 1140.3h0M1661.4 1138.9h0M1661.6 1142.2h0M1661.9 1134.1h0M1662.2 1130.5h0M1662.5 1140.4h0M1662.8 1137.5h0M1663.1 1133.6h0M1663.4 1145.3h0M1663.7 1132.6h0M1664.0 1137.3h0M1664.3 1142.3h0M1664.6 1137.7h0M1664.9 1136.8h0M1665.2 1139.9h0M1665.5 1137.1h0M1665.8 1131.6h0M1666.1 1133.2h0M1666.3 1141.5h0M1666.6 1141.5h0M1666.9 1133.9h0M1667.2 1139.9h0M1667.5 1141.5h0M1667.8 1141.6h0M1668.1 1144.9h0M1668.4 1143.0h0M1668.7 1138.7h0M1669.0 1138.0h0M1669.3 1141.8h0M1669.6 1134.4h0M1669.9 1132.4h0M1670.2 1142.5h0M1670.5 1143.8h0M1670.8 1143.7h0M1671.0 1140.5h0M1671.3 1132.8h0M1671.6 1133.5h0M1671.9 1136.8h0M1672.2 1146.2h0M1672.5 1138.2h0M1672.8 1140.2h0M1673.1 1136.2h0M1673.4 1145.0h0M1673.7 1131.8h0M1674.0 1146.4h0M1674.3 1139.7h0M1674.6 1128.8h0M1674.9 1140.0h0M1675.2 1142.1h0M1675.5 1142.1h0M1675.7 1141.7h0M1676.0 1138.6h0M1676.3 1138.7h0M1676.6 1140.4h0M1676.9 1137.4h0M1677.2 1147.1h0M1677.5 1135.1h0M1677.8 1140.6h0M1678.1 1138.9h0M1678.4 1134.1h0M1678.7 1146.0h0M1679.0 1141.3h0M1679.3 1137.4h0M1679.6 1136.7h0M1679.9 1139.2h0M1680.2 1146.8h0M1680.5 1141.2h0M1680.7 1136.6h0M1681.0 1140.9h0M1681.3 1137.5h0M1681.6 1142.6h0M1681.9 1142.3h0M1682.2 1143.6h0M1682.5 1141.9h0M1682.8 1141.1h0M1683.1 1135.4h0M1683.4 1141.7h0M1683.7 1145.3h0M1684.0 1134.9h0M1684.3 1144.6h0M1684.6 1138.4h0M1684.9 1138.3h0M1685.2 1138.4h0M1685.4 1143.9h0M1685.7 1141.2h0M1686.0 1141.8h0M1686.3 1137.0h0M1686.6 1147.6h0M1686.9 1137.2h0M1687.2 1146.6h0M1687.5 1146.3h0M1687.8 1144.2h0M1688.1 1136.2h0M1688.4 1141.6h0M1688.7 1138.3h0M1689.0 1147.8h0M1689.3 1142.6h0M1689.6 1143.3h0M1689.9 1142.4h0M1690.1 1142.6h0M1690.4 1145.9h0M1690.7 1150.4h0M1691.0 1144.8h0M1691.3 1146.8h0M1691.6 1144.6h0M1691.9 1143.6h0M1692.2 1137.1h0M1692.5 1140.3h0M1692.8 1139.4h0M1693.1 1144.4h0M1693.4 1129.9h0M1693.7 1126.2h0M1694.0 1140.0h0M1694.3 1143.7h0M1694.6 1140.7h0M1694.9 1141.8h0M1695.1 1145.2h0M1695.4 1148.1h0M1695.7 1149.2h0M1696.0 1144.7h0M1696.3 1146.9h0M1696.6 1141.0h0M1696.9 1138.9h0M1697.2 1145.1h0M1697.5 1149.0h0M1697.8 1144.9h0M1698.1 1135.0h0M1698.4 1147.1h0M1698.7 1150.7h0M1699.0 1145.9h0M1699.3 1141.9h0M1699.6 1139.5h0M1699.8 1138.5h0M1700.1 1149.1h0M1700.4 1142.0h0M1700.7 1142.2h0M1701.0 1142.5h0M1701.3 1142.7h0M1701.6 1144.7h0M1701.9 1141.7h0M1702.2 1144.7h0M1702.5 1141.2h0M1702.8 1140.2h0M1703.1 1136.2h0M1703.4 1143.9h0M1703.7 1148.7h0M1704.0 1146.0h0M1704.3 1148.0h0M1704.5 1142.0h0M1704.8 1140.5h0M1705.1 1140.4h0M1705.4 1139.1h0M1705.7 1146.9h0M1706.0 1148.7h0M1706.3 1140.8h0M1706.6 1145.4h0M1706.9 1138.0h0M1707.2 1145.0h0M1707.5 1146.9h0M1707.8 1140.4h0M1708.1 1148.8h0M1708.4 1142.0h0M1708.7 1144.9h0M1709.0 1150.6h0M1709.3 1137.5h0M1709.5 1145.8h0M1709.8 1142.8h0M1710.1 1149.9h0M1710.4 1143.8h0M1710.7 1143.2h0M1711.0 1146.0h0M1711.3 1151.1h0M1711.6 1141.6h0M1711.9 1140.1h0M1712.2 1140.8h0M1712.5 1147.9h0M1712.8 1136.7h0M1713.1 1139.3h0M1713.4 1141.4h0M1713.7 1140.2h0M1714.0 1143.2h0M1714.2 1141.0h0M1714.5 1135.7h0M1714.8 1153.2h0M1715.1 1148.2h0M1715.4 1143.3h0M1715.7 1141.7h0M1716.0 1141.2h0M1716.3 1136.5h0M1716.6 1139.5h0M1716.9 1144.8h0M1717.2 1145.2h0M1717.5 1149.9h0M1717.8 1144.1h0M1718.1 1141.6h0M1718.4 1148.0h0M1718.7 1146.6h0M1718.9 1139.0h0M1719.2 1141.3h0M1719.5 1147.9h0M1719.8 1141.2h0M1720.1 1144.7h0M1720.4 1140.3h0M1720.7 1148.6h0M1721.0 1152.8h0M1721.3 1136.0h0M1721.6 1140.1h0M1721.9 1147.3h0M1722.2 1145.6h0M1722.5 1144.2h0M1722.8 1139.2h0M1723.1 1137.3h0M1723.4 1142.9h0M1723.6 1148.6h0M1723.9 1148.7h0M1724.2 1154.5h0M1724.5 1137.6h0M1724.8 1145.6h0M1725.1 1145.9h0M1725.4 1152.8h0M1725.7 1142.1h0M1726.0 1150.6h0M1726.3 1138.4h0M1726.6 1149.4h0M1726.9 1141.1h0M1727.2 1137.6h0M1727.5 1146.4h0M1727.8 1143.0h0M1728.1 1146.0h0M1728.4 1144.4h0M1728.6 1141.5h0M1728.9 1148.2h0M1729.2 1143.8h0M1729.5 1142.0h0M1729.8 1142.0h0M1730.1 1137.0h0M1730.4 1139.4h0M1730.7 1146.3h0M1731.0 1145.8h0M1731.3 1144.4h0M1731.6 1150.4h0M1731.9 1145.0h0M1732.2 1145.1h0M1732.5 1147.3h0M1732.8 1146.5h0M1733.1 1150.0h0M1733.3 1143.0h0M1733.6 1145.6h0M1733.9 1145.3h0M1734.2 1143.8h0M1734.5 1145.0h0M1734.8 1149.2h0M1735.1 1151.6h0M1735.4 1145.6h0M1735.7 1145.5h0M1736.0 1146.6h0M1736.3 1150.2h0M1736.6 1148.1h0M1736.9 1152.4h0M1737.2 1153.4h0M1737.5 1150.4h0M1737.8 1143.4h0M1738.0 1144.3h0M1738.3 1144.2h0M1738.6 1143.9h0M1738.9 1149.9h0M1739.2 1143.2h0M1739.5 1148.0h0M1739.8 1144.2h0M1740.1 1142.4h0M1740.4 1151.0h0M1740.7 1140.1h0M1741.0 1151.6h0M1741.3 1140.3h0M1741.6 1148.1h0M1741.9 1147.2h0M1742.2 1147.2h0M1742.5 1145.7h0M1742.8 1143.3h0M1743.0 1145.1h0M1743.3 1151.8h0M1743.6 1150.1h0M1743.9 1155.4h0M1744.2 1151.0h0M1744.5 1148.8h0M1744.8 1147.2h0M1745.1 1145.8h0M1745.4 1152.1h0M1745.7 1145.1h0M1746.0 1145.3h0M1746.3 1143.8h0M1746.6 1148.7h0M1746.9 1159.7h0M1747.2 1145.2h0M1747.5 1139.5h0M1747.7 1143.5h0M1748.0 1150.0h0M1748.3 1144.9h0M1748.6 1144.4h0M1748.9 1149.3h0M1749.2 1146.0h0M1749.5 1142.8h0M1749.8 1148.2h0M1750.1 1142.3h0M1750.4 1145.9h0M1750.7 1154.0h0M1751.0 1137.2h0M1751.3 1153.0h0M1751.6 1138.8h0M1751.9 1147.4h0M1752.2 1137.7h0M1752.4 1145.2h0M1752.7 1143.4h0M1753.0 1143.8h0M1753.3 1142.9h0M1753.6 1152.7h0M1753.9 1150.5h0M1754.2 1140.1h0M1754.5 1139.2h0M1754.8 1145.8h0M1755.1 1140.7h0M1755.4 1154.6h0M1755.7 1152.4h0M1756.0 1149.1h0M1756.3 1139.4h0M1756.6 1143.7h0M1756.9 1150.7h0M1757.1 1142.7h0M1757.4 1149.6h0M1757.7 1146.8h0M1758.0 1150.5h0M1758.3 1146.4h0M1758.6 1146.4h0M1758.9 1141.3h0M1759.2 1146.1h0M1759.5 1143.1h0M1759.8 1149.6h0M1760.1 1140.8h0M1760.4 1150.3h0M1760.7 1150.9h0M1761.0 1149.4h0M1761.3 1140.5h0M1761.6 1141.5h0M1761.9 1147.5h0M1762.1 1147.2h0M1762.4 1145.2h0M1762.7 1145.9h0M1763.0 1142.4h0M1763.3 1142.6h0M1763.6 1142.4h0M1763.9 1144.4h0M1764.2 1146.3h0M1764.5 1145.4h0M1764.8 1143.0h0M1765.1 1151.2h0M1765.4 1147.6h0M1765.7 1142.7h0M1766.0 1157.9h0M1766.3 1136.3h0M1766.6 1149.4h0M1766.8 1148.3h0M1767.1 1144.5h0M1767.4 1142.7h0M1767.7 1146.6h0M1768.0 1151.3h0M1768.3 1150.7h0M1768.6 1149.0h0M1768.9 1147.9h0M1769.2 1147.2h0M1769.5 1150.9h0M1769.8 1147.6h0M1770.1 1148.0h0M1770.4 1152.7h0M1770.7 1144.9h0M1771.0 1148.5h0M1771.3 1146.9h0M1771.5 1143.7h0M1771.8 1153.1h0M1772.1 1143.3h0M1772.4 1145.7h0M1772.7 1143.7h0M1773.0 1149.0h0M1773.3 1149.6h0M1773.6 1154.0h0M1773.9 1154.1h0M1774.2 1154.0h0M1774.5 1149.5h0M1774.8 1151.5h0M1775.1 1146.4h0M1775.4 1143.3h0M1775.7 1152.4h0M1776.0 1144.2h0M1776.3 1150.2h0M1776.5 1153.7h0M1776.8 1147.5h0M1777.1 1153.4h0M1777.4 1148.0h0M1777.7 1147.4h0M1778.0 1150.5h0M1778.3 1155.3h0M1778.6 1142.7h0M1778.9 1148.9h0M1779.2 1144.9h0M1779.5 1149.0h0M1779.8 1149.9h0M1780.1 1142.0h0M1780.4 1143.5h0M1780.7 1151.6h0M1781.0 1149.6h0M1781.2 1145.3h0M1781.5 1148.1h0M1781.8 1151.7h0M1782.1 1151.6h0M1782.4 1139.4h0M1782.7 1145.7h0M1783.0 1154.7h0M1783.3 1146.4h0M1783.6 1146.1h0M1783.9 1148.5h0M1784.2 1149.3h0M1784.5 1148.9h0M1784.8 1149.5h0M1785.1 1144.8h0M1785.4 1149.7h0M1785.7 1151.2h0M1785.9 1148.4h0M1786.2 1147.1h0M1786.5 1145.2h0M1786.8 1148.8h0M1787.1 1143.1h0M1787.4 1146.2h0M1787.7 1147.3h0M1788.0 1138.6h0M1788.3 1148.9h0M1788.6 1141.7h0M1788.9 1144.3h0M1789.2 1144.3h0M1789.5 1146.2h0M1789.8 1146.9h0M1790.1 1150.0h0M1790.4 1143.3h0M1790.6 1146.0h0M1790.9 1149.3h0M1791.2 1145.4h0M1791.5 1144.8h0M1791.8 1148.7h0M1792.1 1150.4h0M1792.4 1149.9h0M1792.7 1142.5h0M1793.0 1148.3h0M1793.3 1147.6h0M1793.6 1154.7h0M1793.9 1147.7h0M1794.2 1146.7h0M1794.5 1153.5h0M1794.8 1145.0h0M1795.1 1153.0h0M1795.4 1153.0h0M1795.6 1147.6h0M1795.9 1149.1h0M1796.2 1150.6h0M1796.5 1157.1h0M1796.8 1149.2h0M1797.1 1146.7h0M1797.4 1151.2h0M1797.7 1149.0h0M1798.0 1145.4h0M1798.3 1148.7h0M1798.6 1150.2h0M1798.9 1153.5h0M1799.2 1151.0h0M1799.5 1150.9h0M1799.8 1146.5h0M1800.1 1152.8h0M1800.3 1145.9h0M1800.6 1145.8h0M1800.9 1146.8h0M1801.2 1145.4h0M1801.5 1149.1h0M1801.8 1151.4h0M1802.1 1149.0h0M1802.4 1147.2h0M1802.7 1149.7h0M1803.0 1146.7h0M1803.3 1152.7h0M1803.6 1154.7h0M1803.9 1147.8h0M1804.2 1147.6h0M1804.5 1152.9h0M1804.8 1158.1h0M1805.0 1148.1h0M1805.3 1154.5h0M1805.6 1151.2h0M1805.9 1145.5h0M1806.2 1149.1h0M1806.5 1150.6h0M1806.8 1147.5h0M1807.1 1156.9h0M1807.4 1139.6h0M1807.7 1146.9h0M1808.0 1146.8h0M1808.3 1145.9h0M1808.6 1146.2h0M1808.9 1149.2h0M1809.2 1151.0h0M1809.5 1149.3h0M1809.8 1151.6h0M1810.0 1148.4h0M1810.3 1144.9h0M1810.6 1146.3h0M1810.9 1154.0h0M1811.2 1146.7h0M1811.5 1147.3h0M1811.8 1150.6h0M1812.1 1151.4h0M1812.4 1148.9h0M1812.7 1152.4h0M1813.0 1154.9h0M1813.3 1155.7h0M1813.6 1150.0h0M1813.9 1143.8h0M1814.2 1145.0h0M1814.5 1145.0h0M1814.7 1150.5h0M1815.0 1154.2h0M1815.3 1151.2h0M1815.6 1152.9h0M1815.9 1161.5h0M1816.2 1144.5h0M1816.5 1154.7h0M1816.8 1149.3h0M1817.1 1146.9h0M1817.4 1147.8h0M1817.7 1148.2h0M1818.0 1157.3h0M1818.3 1151.1h0M1818.6 1159.7h0M1818.9 1144.2h0M1819.2 1155.7h0M1819.4 1151.4h0M1819.7 1153.4h0M1820.0 1145.9h0M1820.3 1152.0h0M1820.6 1150.2h0M1820.9 1148.8h0M1821.2 1149.8h0M1821.5 1150.5h0M1821.8 1151.1h0M1822.1 1146.4h0M1822.4 1152.9h0M1822.7 1144.6h0M1823.0 1145.7h0M1823.3 1142.8h0M1823.6 1138.5h0M1823.9 1156.7h0M1824.1 1156.7h0M1824.4 1147.6h0M1824.7 1147.9h0M1825.0 1145.9h0M1825.3 1149.8h0M1825.6 1149.5h0M1825.9 1145.1h0M1826.2 1149.3h0M1826.5 1144.0h0M1826.8 1148.6h0M1827.1 1154.3h0M1827.4 1152.5h0M1827.7 1150.6h0M1828.0 1148.5h0M1828.3 1157.6h0M1828.6 1148.8h0M1828.9 1140.9h0M1829.1 1148.4h0M1829.4 1140.4h0M1829.7 1149.5h0M1830.0 1148.8h0M1830.3 1155.7h0M1830.6 1155.4h0M1830.9 1148.5h0M1831.2 1149.0h0M1831.5 1152.8h0M1831.8 1145.6h0M1832.1 1146.6h0M1832.4 1155.8h0M1832.7 1145.7h0M1833.0 1150.7h0M1833.3 1159.9h0M1833.6 1148.4h0M1833.8 1157.8h0M1834.1 1144.6h0M1834.4 1146.5h0M1834.7 1155.7h0M1835.0 1153.0h0M1835.3 1150.2h0M1835.6 1149.8h0M1835.9 1154.5h0M1836.2 1157.8h0M1836.5 1145.4h0M1836.8 1148.6h0M1837.1 1154.1h0M1837.4 1149.0h0M1837.7 1154.2h0M1838.0 1146.5h0M1838.3 1156.0h0M1838.5 1153.4h0M1838.8 1151.5h0M1839.1 1151.9h0M1839.4 1157.0h0M1839.7 1145.7h0M1840.0 1151.8h0M1840.3 1147.1h0M1840.6 1147.0h0M1840.9 1156.3h0M1841.2 1152.4h0M1841.5 1151.4h0M1841.8 1153.4h0M1842.1 1148.4h0M1842.4 1155.5h0M1842.7 1148.8h0M1843.0 1153.2h0M1843.3 1150.9h0M1843.5 1154.4h0M1843.8 1146.9h0M1844.1 1153.8h0M1844.4 1153.9h0M1844.7 1151.1h0M1845.0 1148.6h0M1845.3 1146.3h0M1845.6 1148.8h0M1845.9 1152.0h0M1846.2 1148.6h0M1846.5 1143.8h0M1846.8 1153.1h0M1847.1 1152.6h0M1847.4 1148.9h0M1847.7 1145.2h0M1848.0 1148.0h0M1848.2 1148.4h0M1848.5 1147.8h0M1848.8 1151.1h0M1849.1 1142.3h0M1849.4 1150.5h0M1849.7 1148.9h0M1850.0 1153.8h0M1850.3 1146.7h0M1850.6 1149.8h0M1850.9 1148.9h0M1851.2 1142.1h0M1851.5 1159.5h0M1851.8 1149.1h0M1852.1 1152.2h0M1852.4 1150.7h0M1852.7 1149.6h0M1852.9 1150.0h0M1853.2 1142.4h0M1853.5 1151.9h0M1853.8 1148.2h0M1854.1 1149.4h0M1854.4 1155.0h0M1854.7 1150.6h0M1855.0 1158.5h0M1855.3 1155.6h0M1855.6 1153.1h0M1855.9 1152.2h0M1856.2 1146.6h0M1856.5 1159.8h0M1856.8 1157.8h0M1857.1 1150.2h0M1857.4 1151.1h0M1857.6 1144.7h0M1857.9 1155.8h0M1858.2 1152.0h0M1858.5 1152.1h0M1858.8 1149.7h0M1859.1 1150.3h0M1859.4 1149.6h0M1859.7 1149.1h0M1860.0 1149.0h0M1860.3 1148.6h0M1860.6 1158.3h0M1860.9 1160.5h0M1861.2 1142.7h0M1861.5 1150.5h0M1861.8 1148.1h0M1862.1 1148.0h0M1862.4 1153.6h0M1862.6 1137.1h0M1862.9 1153.8h0M1863.2 1142.6h0M1863.5 1151.2h0M1863.8 1148.6h0M1864.1 1147.7h0M1864.4 1150.2h0M1864.7 1146.0h0M1865.0 1157.9h0M1865.3 1143.4h0M1865.6 1143.8h0M1865.9 1149.7h0M1866.2 1150.5h0M1866.5 1155.9h0M1866.8 1149.8h0M1867.1 1145.6h0M1867.3 1148.1h0M1867.6 1147.2h0M1867.9 1148.9h0M1868.2 1152.5h0M1868.5 1149.1h0M1868.8 1147.8h0M1869.1 1153.1h0M1869.4 1146.6h0M1869.7 1150.2h0M1870.0 1151.9h0M1870.3 1147.8h0M1870.6 1154.9h0M1870.9 1149.6h0M1871.2 1157.9h0M1871.5 1149.5h0M1871.8 1148.5h0M1872.0 1145.7h0M1872.3 1150.9h0M1872.6 1153.2h0M1872.9 1144.3h0M1873.2 1142.8h0M1873.5 1145.2h0M1873.8 1150.4h0M1874.1 1150.4h0M1874.4 1146.6h0M1874.7 1148.6h0M1875.0 1150.2h0M1875.3 1152.2h0M1875.6 1145.5h0M1875.9 1143.0h0M1876.2 1148.6h0M1876.5 1157.6h0M1876.8 1148.4h0M1877.0 1148.8h0M1877.3 1151.1h0M1877.6 1143.6h0M1877.9 1153.3h0M1878.2 1147.1h0M1878.5 1143.0h0M1878.8 1149.6h0M1879.1 1149.7h0M1879.4 1154.7h0M1879.7 1152.8h0M1880.0 1148.8h0M1880.3 1154.3h0M1880.6 1154.0h0M1880.9 1158.1h0M1881.2 1147.7h0M1881.5 1151.3h0M1881.7 1147.7h0M1882.0 1151.7h0M1882.3 1156.4h0M1882.6 1154.8h0M1882.9 1149.6h0M1883.2 1141.2h0M1883.5 1148.1h0M1883.8 1149.7h0M1884.1 1152.5h0M1884.4 1155.9h0M1884.7 1155.5h0M1885.0 1152.3h0M1885.3 1154.8h0M1885.6 1147.3h0M1885.9 1145.2h0M1886.2 1156.3h0M1886.4 1152.2h0M1886.7 1154.7h0M1887.0 1154.4h0M1887.3 1153.6h0M1887.6 1150.1h0M1887.9 1154.2h0M1888.2 1150.9h0M1888.5 1154.5h0M1888.8 1155.0h0M1889.1 1150.4h0M1889.4 1158.7h0M1889.7 1151.3h0M1890.0 1156.8h0M1890.3 1146.5h0M1890.6 1154.5h0M1890.9 1146.1h0M1891.1 1147.2h0M1891.4 1144.8h0M1891.7 1149.8h0M1892.0 1151.2h0M1892.3 1148.9h0M1892.6 1160.2h0M1892.9 1154.8h0M1893.2 1146.9h0M1893.5 1151.2h0M1893.8 1150.2h0M1894.1 1152.3h0M1894.4 1151.0h0M1894.7 1145.3h0M1895.0 1158.7h0M1895.3 1155.9h0M1895.6 1153.6h0M1895.9 1155.9h0M1896.1 1152.7h0M1896.4 1148.3h0M1896.7 1146.5h0M1897.0 1153.7h0M1897.3 1147.6h0M1897.6 1149.6h0M1897.9 1146.4h0M1898.2 1153.8h0M1898.5 1149.5h0M1898.8 1152.0h0M1899.1 1149.5h0M1899.4 1146.4h0M1899.7 1153.2h0M1900.0 1150.7h0M1900.3 1147.8h0M1900.6 1154.3h0M1900.8 1156.1h0M1901.1 1158.4h0M1901.4 1154.4h0M1901.7 1152.3h0M1902.0 1155.1h0M1902.3 1148.0h0M1902.6 1151.0h0M1902.9 1151.5h0M1903.2 1144.3h0M1903.5 1153.4h0M1903.8 1155.0h0M1904.1 1150.3h0M1904.4 1156.0h0M1904.7 1147.3h0M1905.0 1155.2h0M1905.3 1155.5h0M1905.5 1149.1h0M1905.8 1151.4h0M1906.1 1149.2h0M1906.4 1146.5h0M1906.7 1145.4h0M1907.0 1146.5h0M1907.3 1152.4h0M1907.6 1144.4h0M1907.9 1150.4h0M1908.2 1161.0h0M1908.5 1153.8h0M1908.8 1151.8h0M1909.1 1149.0h0M1909.4 1141.6h0M1909.7 1154.2h0M1910.0 1154.9h0M1910.3 1150.3h0M1910.5 1147.5h0M1910.8 1150.8h0M1911.1 1147.6h0M1911.4 1154.7h0M1911.7 1150.4h0M1912.0 1153.8h0M1912.3 1147.1h0M1912.6 1144.9h0M1912.9 1141.0h0M1913.2 1152.0h0M1913.5 1145.1h0M1913.8 1155.7h0M1914.1 1150.8h0M1914.4 1150.8h0M1914.7 1143.2h0M1915.0 1153.7h0M1915.2 1153.2h0M1915.5 1156.5h0M1915.8 1149.3h0M1916.1 1151.8h0M1916.4 1152.3h0M1916.7 1153.6h0M1917.0 1154.4h0M1917.3 1151.9h0M1917.6 1152.7h0M1917.9 1153.8h0M1918.2 1156.6h0M1918.5 1154.8h0M1918.8 1152.2h0M1919.1 1150.2h0M1919.4 1149.1h0M1919.7 1154.0h0M1919.9 1147.2h0M1920.2 1146.7h0M1920.5 1150.7h0M1920.8 1148.7h0M1921.1 1149.8h0M1921.4 1152.3h0M1921.7 1150.3h0M1922.0 1153.1h0M1922.3 1152.1h0M1922.6 1150.6h0M1922.9 1147.5h0M1923.2 1153.2h0M1923.5 1150.9h0M1923.8 1148.5h0M1924.1 1147.0h0M1924.4 1150.9h0M1924.6 1158.4h0M1924.9 1150.8h0M1925.2 1153.9h0M1925.5 1148.9h0M1925.8 1147.5h0M1926.1 1155.1h0M1926.4 1151.9h0M1926.7 1146.2h0M1927.0 1155.3h0M1927.3 1150.1h0M1927.6 1154.9h0M1927.9 1155.3h0M1928.2 1150.1h0M1928.5 1147.2h0M1928.8 1155.7h0M1929.1 1159.0h0M1929.4 1151.5h0M1929.6 1144.2h0M1929.9 1148.7h0M1930.2 1152.7h0M1930.5 1143.0h0M1930.8 1147.3h0M1931.1 1146.8h0M1931.4 1148.3h0M1931.7 1158.5h0M1932.0 1151.0h0M1932.3 1157.0h0M1932.6 1151.2h0M1932.9 1150.4h0M1933.2 1149.7h0M1933.5 1150.4h0M1933.8 1155.9h0M1934.1 1154.3h0M1934.3 1153.1h0M1934.6 1154.1h0M1934.9 1145.5h0M1935.2 1147.3h0M1935.5 1144.2h0M1935.8 1147.2h0M1936.1 1154.2h0M1936.4 1146.0h0M1936.7 1146.1h0M1937.0 1147.4h0M1937.3 1144.4h0M1937.6 1150.0h0M1937.9 1152.2h0M1938.2 1154.8h0M1938.5 1150.4h0M1938.8 1152.0h0M1939.0 1153.9h0M1939.3 1147.4h0M1939.6 1147.3h0M1939.9 1151.1h0M1940.2 1150.0h0M1940.5 1148.7h0M1940.8 1149.4h0M1941.1 1147.2h0M1941.4 1145.3h0M1941.7 1150.2h0M1942.0 1147.3h0M1942.3 1146.0h0M1942.6 1152.2h0M1942.9 1149.9h0M1943.2 1153.8h0M1943.5 1146.8h0M1943.8 1153.8h0M1944.0 1157.0h0M1944.3 1147.4h0M1944.6 1147.0h0M1944.9 1145.9h0M1945.2 1146.1h0M1945.5 1148.1h0M1945.8 1150.1h0M1946.1 1146.9h0M1946.4 1150.8h0M1946.7 1144.7h0M1947.0 1147.5h0M1947.3 1152.4h0M1947.6 1153.8h0M1947.9 1155.5h0M1948.2 1154.8h0M1948.5 1153.3h0M1948.7 1142.2h0M1949.0 1145.9h0M1949.3 1146.4h0M1949.6 1148.3h0M1949.9 1150.1h0M1950.2 1154.2h0M1950.5 1146.4h0M1950.8 1137.9h0M1951.1 1143.0h0M1951.4 1149.7h0M1951.7 1150.8h0M1952.0 1144.0h0M1952.3 1151.9h0M1952.6 1149.2h0M1952.9 1153.7h0M1953.2 1137.9h0M1953.4 1148.7h0M1953.7 1147.5h0M1954.0 1148.4h0M1954.3 1146.5h0M1954.6 1145.1h0M1954.9 1146.6h0M1955.2 1142.8h0M1955.5 1138.6h0M1955.8 1150.3h0M1956.1 1145.6h0M1956.4 1143.8h0M1956.7 1152.8h0M1957.0 1146.7h0M1957.3 1147.0h0M1957.6 1150.1h0M1957.9 1146.2h0M1958.2 1148.3h0M1958.4 1144.2h0M1958.7 1151.8h0M1959.0 1147.7h0M1959.3 1154.1h0M1959.6 1150.0h0M1959.9 1152.4h0M1960.2 1145.7h0M1960.5 1145.1h0M1960.8 1150.8h0M1961.1 1150.7h0M1961.4 1146.3h0M1961.7 1149.7h0M1962.0 1146.3h0M1962.3 1149.1h0M1962.6 1144.1h0M1962.9 1150.1h0M1963.1 1145.2h0M1963.4 1148.9h0M1963.7 1145.6h0M1964.0 1147.0h0M1964.3 1147.1h0M1964.6 1147.6h0M1964.9 1151.7h0M1965.2 1153.6h0M1965.5 1148.6h0M1965.8 1141.8h0M1966.1 1146.4h0M1966.4 1142.3h0M1966.7 1151.7h0M1967.0 1146.4h0M1967.3 1145.4h0M1967.6 1147.7h0M1967.8 1144.4h0M1968.1 1148.6h0M1968.4 1147.3h0M1968.7 1140.9h0M1969.0 1148.7h0M1969.3 1143.8h0M1969.6 1149.0h0M1969.9 1137.5h0M1970.2 1152.4h0M1970.5 1143.9h0M1970.8 1144.3h0M1971.1 1150.1h0M1971.4 1142.4h0M1971.7 1149.1h0M1972.0 1138.7h0M1972.3 1150.8h0M1972.5 1151.1h0M1972.8 1147.9h0M1973.1 1139.0h0M1973.4 1146.6h0M1973.7 1145.8h0M1974.0 1142.9h0M1974.3 1141.0h0M1974.6 1142.7h0M1974.9 1141.6h0M1975.2 1144.1h0M1975.5 1147.7h0M1975.8 1143.4h0M1976.1 1146.0h0M1976.4 1143.9h0M1976.7 1141.5h0M1977.0 1144.2h0M1977.3 1142.6h0M1977.5 1145.1h0M1977.8 1150.1h0M1978.1 1135.7h0M1978.4 1143.7h0M1978.7 1134.9h0M1979.0 1141.4h0M1979.3 1136.4h0M1979.6 1143.6h0M1979.9 1148.4h0M1980.2 1138.7h0M1980.5 1142.4h0M1980.8 1137.3h0M1981.1 1141.6h0M1981.4 1146.1h0M1981.7 1136.5h0M1982.0 1138.0h0M1982.2 1134.1h0M1982.5 1141.0h0M1982.8 1141.6h0M1983.1 1137.6h0M1983.4 1141.8h0M1983.7 1132.5h0M1984.0 1140.2h0M1984.3 1137.9h0M1984.6 1132.3h0M1984.9 1131.9h0M1985.2 1134.2h0M1985.5 1140.3h0M1985.8 1141.7h0M1986.1 1138.7h0M1986.4 1142.0h0M1986.7 1137.0h0M1986.9 1133.5h0M1987.2 1141.5h0M1987.5 1137.9h0M1987.8 1131.2h0M1988.1 1133.9h0M1988.4 1138.7h0M1988.7 1139.1h0M1989.0 1136.4h0M1989.3 1130.8h0M1989.6 1134.9h0M1989.9 1140.9h0M1990.2 1136.9h0M1990.5 1138.8h0M1990.8 1129.4h0M1991.1 1131.5h0M1991.4 1134.4h0M1991.7 1133.9h0M1991.9 1131.7h0M1992.2 1125.2h0M1992.5 1133.0h0M1992.8 1132.2h0M1993.1 1128.5h0M1993.4 1134.5h0M1993.7 1140.4h0M1994.0 1130.7h0M1994.3 1129.5h0M1994.6 1133.4h0M1994.9 1137.9h0M1995.2 1129.6h0M1995.5 1128.1h0M1995.8 1126.9h0M1996.1 1136.4h0M1996.4 1131.2h0M1996.6 1130.9h0M1996.9 1127.2h0M1997.2 1124.7h0M1997.5 1123.9h0M1997.8 1130.4h0M1998.1 1132.5h0M1998.4 1121.7h0M1998.7 1129.3h0M1999.0 1116.9h0M1999.3 1114.3h0M1999.6 1122.0h0M1999.9 1124.2h0M2000.2 1125.7h0M2000.5 1119.7h0M2000.8 1117.7h0M2001.1 1125.5h0M2001.3 1108.6h0M2001.6 1122.0h0M2001.9 1119.8h0M2002.2 1113.2h0M2002.5 1115.1h0M2002.8 1123.8h0M2003.1 1104.5h0M2003.4 1113.6h0M2003.7 1108.8h0M2004.0 1114.0h0M2004.3 1114.2h0M2004.6 1113.5h0M2004.9 1114.5h0M2005.2 1114.8h0M2005.5 1112.5h0M2005.8 1104.5h0M2006.0 1105.6h0M2006.3 1112.2h0M2006.6 1105.4h0M2006.9 1109.4h0M2007.2 1109.7h0M2007.5 1091.7h0M2007.8 1111.8h0M2008.1 1105.2h0M2008.4 1104.0h0M2008.7 1104.5h0M2009.0 1102.7h0M2009.3 1102.8h0M2009.6 1094.4h0M2009.9 1096.2h0M2010.2 1093.6h0M2010.5 1093.6h0M2010.8 1094.6h0M2011.0 1093.2h0M2011.3 1090.3h0M2011.6 1087.8h0M2011.9 1085.6h0M2012.2 1087.3h0M2012.5 1083.4h0M2012.8 1083.1h0M2013.1 1088.8h0M2013.4 1088.9h0M2013.7 1082.5h0M2014.0 1081.1h0M2014.3 1074.9h0M2014.6 1082.7h0M2014.9 1084.9h0M2015.2 1083.0h0M2015.5 1083.2h0M2015.7 1089.5h0M2016.0 1088.8h0M2016.3 1084.3h0M2016.6 1094.9h0M2016.9 1093.8h0M2017.2 1098.6h0M2017.5 1090.3h0M2017.8 1088.4h0M2018.1 1091.1h0M2018.4 1092.1h0M2018.7 1089.3h0M2019.0 1097.9h0M2019.3 1091.9h0M2019.6 1086.3h0M2019.9 1099.1h0M2020.2 1096.8h0M2020.4 1100.0h0M2020.7 1096.6h0M2021.0 1091.0h0M2021.3 1108.4h0M2021.6 1104.8h0M2021.9 1102.7h0M2022.2 1105.3h0M2022.5 1111.2h0M2022.8 1107.9h0M2023.1 1106.5h0M2023.4 1108.2h0M2023.7 1103.5h0M2024.0 1111.3h0M2024.3 1110.6h0M2024.6 1114.4h0M2024.9 1110.0h0M2025.2 1111.0h0M2025.4 1106.7h0M2025.7 1113.6h0M2026.0 1114.7h0M2026.3 1114.6h0M2026.6 1122.1h0M2026.9 1121.5h0M2027.2 1119.1h0M2027.5 1115.5h0M2027.8 1121.0h0M2028.1 1136.6h0M2028.4 1120.4h0M2028.7 1121.5h0M2029.0 1126.1h0M2029.3 1119.8h0M2029.6 1126.4h0M2029.9 1119.2h0M2030.1 1125.6h0M2030.4 1126.9h0M2030.7 1127.7h0M2031.0 1131.5h0M2031.3 1128.0h0M2031.6 1127.8h0M2031.9 1132.5h0M2032.2 1128.9h0M2032.5 1132.9h0M2032.8 1128.3h0M2033.1 1131.6h0M2033.4 1129.8h0M2033.7 1132.0h0M2034.0 1130.5h0M2034.3 1132.4h0M2034.6 1122.3h0M2034.8 1138.5h0M2035.1 1129.4h0M2035.4 1134.9h0M2035.7 1130.6h0M2036.0 1143.3h0M2036.3 1139.6h0M2036.6 1143.3h0M2036.9 1134.1h0M2037.2 1137.1h0M2037.5 1141.0h0M2037.8 1135.7h0M2038.1 1146.8h0M2038.4 1141.5h0M2038.7 1141.0h0M2039.0 1138.3h0M2039.3 1144.3h0M2039.5 1139.2h0M2039.8 1133.7h0M2040.1 1139.7h0M2040.4 1135.7h0M2040.7 1140.3h0M2041.0 1142.3h0M2041.3 1139.8h0M2041.6 1139.9h0M2041.9 1134.2h0M2042.2 1138.5h0M2042.5 1148.0h0M2042.8 1137.3h0M2043.1 1133.9h0M2043.4 1141.5h0M2043.7 1148.2h0M2044.0 1146.4h0M2044.3 1143.2h0M2044.5 1143.7h0M2044.8 1142.0h0M2045.1 1145.3h0M2045.4 1144.9h0M2045.7 1143.8h0M2046.0 1137.1h0M2046.3 1142.4h0M2046.6 1141.8h0M2046.9 1140.5h0M2047.2 1145.6h0M2047.5 1145.8h0M2047.8 1142.4h0M2048.1 1148.1h0M2048.4 1144.8h0M2048.7 1143.3h0M2049.0 1148.8h0M2049.2 1148.3h0M2049.5 1155.3h0M2049.8 1149.8h0M2050.1 1147.8h0M2050.4 1146.9h0M2050.7 1143.7h0M2051.0 1139.6h0M2051.3 1145.4h0M2051.6 1143.9h0M2051.9 1146.8h0M2052.2 1149.6h0M2052.5 1145.9h0M2052.8 1149.1h0M2053.1 1156.3h0M2053.4 1145.9h0M2053.7 1145.0h0M2053.9 1151.9h0M2054.2 1151.3h0M2054.5 1158.9h0M2054.8 1143.2h0M2055.1 1140.1h0M2055.4 1152.8h0M2055.7 1152.0h0M2056.0 1146.9h0M2056.3 1136.8h0M2056.6 1154.7h0M2056.9 1153.0h0M2057.2 1151.4h0M2057.5 1139.2h0M2057.8 1147.2h0M2058.1 1143.0h0M2058.4 1146.4h0M2058.7 1151.1h0M2058.9 1143.7h0M2059.2 1138.9h0M2059.5 1136.9h0M2059.8 1142.3h0M2060.1 1135.3h0M2060.4 1136.1h0M2060.7 1133.6h0M2061.0 1130.9h0M2061.3 1129.5h0M2061.6 1124.6h0M2061.9 1133.5h0M2062.2 1126.2h0M2062.5 1119.6h0M2062.8 1126.9h0M2063.1 1115.7h0M2063.4 1116.7h0M2063.6 1112.0h0M2063.9 1107.8h0M2064.2 1106.2h0M2064.5 1109.0h0M2064.8 1118.7h0M2065.1 1112.1h0M2065.4 1118.8h0M2065.7 1119.9h0M2066.0 1126.7h0M2066.3 1129.4h0M2066.6 1128.4h0M2066.9 1135.6h0M2067.2 1133.1h0M2067.5 1140.2h0M2067.8 1140.1h0M2068.1 1140.1h0M2068.3 1142.4h0M2068.6 1144.6h0M2068.9 1147.9h0M2069.2 1149.0h0M2069.5 1149.7h0M2069.8 1148.4h0M2070.1 1146.3h0M2070.4 1149.1h0M2070.7 1146.1h0M2071.0 1146.0h0M2071.3 1149.0h0M2071.6 1150.6h0M2071.9 1145.1h0M2072.2 1151.7h0M2072.5 1149.8h0M2072.8 1148.9h0M2073.0 1149.0h0M2073.3 1149.9h0M2073.6 1155.5h0M2073.9 1144.1h0M2074.2 1152.7h0M2074.5 1144.2h0M2074.8 1152.5h0M2075.1 1148.3h0M2075.4 1144.3h0M2075.7 1155.0h0M2076.0 1143.8h0M2076.3 1147.3h0M2076.6 1146.1h0M2076.9 1149.6h0M2077.2 1145.2h0M2077.5 1152.3h0M2077.8 1155.6h0M2078.0 1156.6h0M2078.3 1155.8h0M2078.6 1148.3h0M2078.9 1149.9h0M2079.2 1152.4h0M2079.5 1151.2h0M2079.8 1149.3h0M2080.1 1141.6h0M2080.4 1148.9h0M2080.7 1153.1h0M2081.0 1151.0h0M2081.3 1161.1h0M2081.6 1137.7h0M2081.9 1144.7h0M2082.2 1145.8h0M2082.5 1155.2h0M2082.7 1157.5h0M2083.0 1147.4h0M2083.3 1151.9h0M2083.6 1154.3h0M2083.9 1153.1h0M2084.2 1152.8h0M2084.5 1148.8h0M2084.8 1147.8h0M2085.1 1146.0h0M2085.4 1146.7h0M2085.7 1154.8h0M2086.0 1151.0h0M2086.3 1150.5h0M2086.6 1147.7h0M2086.9 1152.5h0M2087.2 1156.5h0M2087.4 1147.5h0M2087.7 1158.3h0M2088.0 1154.4h0M2088.3 1141.4h0M2088.6 1153.3h0M2088.9 1153.7h0M2089.2 1158.3h0M2089.5 1151.9h0M2089.8 1142.6h0M2090.1 1145.4h0M2090.4 1146.3h0M2090.7 1154.6h0M2091.0 1148.3h0M2091.3 1147.2h0M2091.6 1154.1h0M2091.9 1156.1h0M2092.2 1146.3h0M2092.4 1152.9h0M2092.7 1157.4h0M2093.0 1155.7h0M2093.3 1158.9h0M2093.6 1158.6h0M2093.9 1156.5h0M2094.2 1150.9h0M2094.5 1162.2h0M2094.8 1156.4h0M2095.1 1153.5h0M2095.4 1152.0h0M2095.7 1155.9h0M2096.0 1151.4h0M2096.3 1153.3h0M2096.6 1158.5h0M2096.9 1155.7h0M2097.1 1148.8h0M2097.4 1154.6h0M2097.7 1152.2h0M2098.0 1150.3h0M2098.3 1149.7h0M2098.6 1150.1h0M2098.9 1154.6h0M2099.2 1159.1h0M2099.5 1153.1h0M2099.8 1159.9h0M2100.1 1150.5h0M2100.4 1153.2h0M2100.7 1160.5h0M2101.0 1154.9h0M2101.3 1155.4h0M2101.6 1155.7h0M2101.8 1152.0h0M2102.1 1164.0h0M2102.4 1154.5h0M2102.7 1158.2h0M2103.0 1156.6h0M2103.3 1158.7h0M2103.6 1160.9h0M2103.9 1144.9h0M2104.2 1148.5h0M2104.5 1145.7h0M2104.8 1151.1h0M2105.1 1153.8h0M2105.4 1155.8h0M2105.7 1152.4h0M2106.0 1157.1h0M2106.3 1157.7h0M2106.5 1155.2h0M2106.8 1150.1h0M2107.1 1152.4h0M2107.4 1154.1h0M2107.7 1158.0h0M2108.0 1154.3h0M2108.3 1156.4h0M2108.6 1148.0h0M2108.9 1143.2h0M2109.2 1155.5h0M2109.5 1155.5h0M2109.8 1151.0h0M2110.1 1153.3h0M2110.4 1157.5h0M2110.7 1157.6h0M2111.0 1160.5h0M2111.3 1158.3h0M2111.5 1154.1h0M2111.8 1157.5h0M2112.1 1164.1h0M2112.4 1162.4h0M2112.7 1151.9h0M2113.0 1156.9h0M2113.3 1161.7h0M2113.6 1156.2h0M2113.9 1158.1h0M2114.2 1161.0h0M2114.5 1156.8h0M2114.8 1157.6h0M2115.1 1154.1h0M2115.4 1151.7h0M2115.7 1153.7h0M2116.0 1158.6h0M2116.2 1155.0h0M2116.5 1156.4h0M2116.8 1164.6h0M2117.1 1152.7h0M2117.4 1159.9h0M2117.7 1153.8h0M2118.0 1158.5h0M2118.3 1159.6h0M2118.6 1161.5h0M2118.9 1152.9h0M2119.2 1154.7h0M2119.5 1156.8h0M2119.8 1155.9h0M2120.1 1144.7h0M2120.4 1158.0h0M2120.7 1151.3h0M2120.9 1156.3h0M2121.2 1150.9h0M2121.5 1157.4h0M2121.8 1156.2h0M2122.1 1167.2h0M2122.4 1159.3h0M2122.7 1154.9h0M2123.0 1159.8h0M2123.3 1150.0h0M2123.6 1160.6h0M2123.9 1161.3h0M2124.2 1154.8h0M2124.5 1155.6h0M2124.8 1149.3h0M2125.1 1158.3h0M2125.4 1160.2h0M2125.7 1151.5h0M2125.9 1159.6h0M2126.2 1152.5h0M2126.5 1163.3h0M2126.8 1147.9h0M2127.1 1156.0h0M2127.4 1161.0h0M2127.7 1152.0h0M2128.0 1154.1h0M2128.3 1157.3h0M2128.6 1156.6h0M2128.9 1154.0h0M2129.2 1154.1h0M2129.5 1155.5h0M2129.8 1155.8h0M2130.1 1155.1h0M2130.4 1160.9h0M2130.6 1158.0h0M2130.9 1159.1h0M2131.2 1159.5h0M2131.5 1151.9h0M2131.8 1152.6h0M2132.1 1165.3h0M2132.4 1148.6h0M2132.7 1154.4h0M2133.0 1159.9h0M2133.3 1156.5h0M2133.6 1156.0h0M2133.9 1164.3h0M2134.2 1152.9h0M2134.5 1162.1h0M2134.8 1151.2h0M2135.1 1150.7h0M2135.3 1156.1h0M2135.6 1158.6h0M2135.9 1167.4h0M2136.2 1159.3h0M2136.5 1158.6h0M2136.8 1160.7h0M2137.1 1157.7h0M2137.4 1155.0h0M2137.7 1155.7h0M2138.0 1160.3h0M2138.3 1156.0h0M2138.6 1151.5h0M2138.9 1155.0h0M2139.2 1150.7h0M2139.5 1163.7h0M2139.8 1150.8h0M2140.0 1160.5h0M2140.3 1156.8h0M2140.6 1163.3h0M2140.9 1165.5h0M2141.2 1156.6h0M2141.5 1160.8h0M2141.8 1159.1h0M2142.1 1151.7h0M2142.4 1164.5h0M2142.7 1161.6h0M2143.0 1160.8h0M2143.3 1161.6h0M2143.6 1159.7h0M2143.9 1155.4h0M2144.2 1159.7h0M2144.5 1153.5h0M2144.8 1167.7h0M2145.0 1153.4h0M2145.3 1162.9h0M2145.6 1155.9h0M2145.9 1159.0h0M2146.2 1160.9h0M2146.5 1154.6h0M2146.8 1159.0h0M2147.1 1147.0h0M2147.4 1159.3h0M2147.7 1164.1h0M2148.0 1157.6h0M2148.3 1155.4h0M2148.6 1155.3h0M2148.9 1148.1h0M2149.2 1152.9h0M2149.5 1160.3h0M2149.7 1166.3h0M2150.0 1161.9h0M2150.3 1158.8h0M2150.6 1158.6h0M2150.9 1160.9h0M2151.2 1166.2h0M2151.5 1158.3h0M2151.8 1159.1h0M2152.1 1160.7h0M2152.4 1161.5h0M2152.7 1160.2h0M2153.0 1153.4h0M2153.3 1152.0h0M2153.6 1159.0h0M2153.9 1162.6h0M2154.2 1167.3h0M2154.4 1160.9h0M2154.7 1154.4h0M2155.0 1157.6h0M2155.3 1152.8h0M2155.6 1158.5h0M2155.9 1164.0h0M2156.2 1160.0h0M2156.5 1168.3h0M2156.8 1158.4h0M2157.1 1159.8h0M2157.4 1160.8h0M2157.7 1161.3h0M2158.0 1160.2h0M2158.3 1160.8h0M2158.6 1163.3h0M2158.9 1157.4h0M2159.2 1159.7h0M2159.4 1161.4h0M2159.7 1158.2h0M2160.0 1155.4h0M2160.3 1161.2h0M2160.6 1161.3h0M2160.9 1156.7h0M2161.2 1155.8h0M2161.5 1150.8h0M2161.8 1154.5h0M2162.1 1160.8h0M2162.4 1150.4h0M2162.7 1158.7h0M2163.0 1160.3h0M2163.3 1157.7h0M2163.6 1156.8h0M2163.9 1163.9h0M2164.1 1161.8h0M2164.4 1155.5h0M2164.7 1164.1h0M2165.0 1167.1h0M2165.3 1156.4h0M2165.6 1155.8h0M2165.9 1157.7h0M2166.2 1161.6h0M2166.5 1160.0h0M2166.8 1158.8h0M2167.1 1155.5h0M2167.4 1163.3h0M2167.7 1160.2h0M2168.0 1160.7h0M2168.3 1160.2h0M2168.6 1161.6h0M2168.8 1154.0h0M2169.1 1158.2h0M2169.4 1160.7h0M2169.7 1161.8h0M2170.0 1162.4h0M2170.3 1164.4h0M2170.6 1160.3h0M2170.9 1163.8h0M2171.2 1163.3h0M2171.5 1162.0h0M2171.8 1159.9h0M2172.1 1159.3h0M2172.4 1160.7h0M2172.7 1163.9h0M2173.0 1157.6h0M2173.3 1157.4h0M2173.5 1162.7h0M2173.8 1161.7h0M2174.1 1164.9h0M2174.4 1165.9h0M2174.7 1162.8h0M2175.0 1154.6h0M2175.3 1165.1h0M2175.6 1162.7h0M2175.9 1164.1h0M2176.2 1163.2h0M2176.5 1161.1h0M2176.8 1162.9h0M2177.1 1156.0h0M2177.4 1156.5h0M2177.7 1161.1h0M2178.0 1167.1h0M2178.3 1162.2h0M2178.5 1166.3h0M2178.8 1161.1h0M2179.1 1161.8h0M2179.4 1165.1h0M2179.7 1164.9h0M2180.0 1161.6h0M2180.3 1160.2h0M2180.6 1164.9h0M2180.9 1162.6h0M2181.2 1159.7h0M2181.5 1160.5h0M2181.8 1157.6h0M2182.1 1162.0h0M2182.4 1164.7h0M2182.7 1152.3h0M2183.0 1159.9h0M2183.2 1156.3h0M2183.5 1159.6h0M2183.8 1159.3h0M2184.1 1156.6h0M2184.4 1161.8h0M2184.7 1156.0h0M2185.0 1157.6h0M2185.3 1155.6h0M2185.6 1158.2h0M2185.9 1163.3h0M2186.2 1159.7h0M2186.5 1166.4h0M2186.8 1160.4h0M2187.1 1158.8h0M2187.4 1166.0h0M2187.7 1162.8h0M2187.9 1164.6h0M2188.2 1163.3h0M2188.5 1167.2h0M2188.8 1165.1h0M2189.1 1166.5h0M2189.4 1158.0h0M2189.7 1163.9h0M2190.0 1165.0h0M2190.3 1161.7h0M2190.6 1166.5h0M2190.9 1162.1h0M2191.2 1160.8h0M2191.5 1163.7h0M2191.8 1156.7h0M2192.1 1155.6h0M2192.4 1160.8h0M2192.7 1152.6h0M2192.9 1165.8h0M2193.2 1159.4h0M2193.5 1167.9h0M2193.8 1162.3h0M2194.1 1159.0h0M2194.4 1159.5h0M2194.7 1164.1h0M2195.0 1165.5h0M2195.3 1161.0h0M2195.6 1156.5h0M2195.9 1162.6h0M2196.2 1164.1h0M2196.5 1164.7h0M2196.8 1156.8h0M2197.1 1159.6h0M2197.4 1164.5h0M2197.6 1169.2h0M2197.9 1161.9h0M2198.2 1157.2h0M2198.5 1164.1h0M2198.8 1139.4h0M2199.1 1162.4h0M2199.4 1159.9h0M2199.7 1168.7h0M2200.0 1160.0h0M2200.3 1157.0h0M2200.6 1172.1h0M2200.9 1163.4h0M2201.2 1162.1h0M2201.5 1159.4h0M2201.8 1155.4h0M2202.1 1155.0h0M2202.3 1164.3h0M2202.6 1155.9h0M2202.9 1165.1h0M2203.2 1163.7h0M2203.5 1165.6h0M2203.8 1160.7h0M2204.1 1162.5h0M2204.4 1159.6h0M2204.7 1160.9h0M2205.0 1158.4h0M2205.3 1152.7h0M2205.6 1162.8h0M2205.9 1156.9h0M2206.2 1178.7h0M2206.5 1162.0h0M2206.8 1155.4h0M2207.0 1161.1h0M2207.3 1164.4h0M2207.6 1163.8h0M2207.9 1159.0h0M2208.2 1163.1h0M2208.5 1162.8h0M2208.8 1160.4h0M2209.1 1161.2h0M2209.4 1163.1h0M2209.7 1162.1h0M2210.0 1164.2h0M2210.3 1165.9h0M2210.6 1167.3h0M2210.9 1157.8h0M2211.2 1160.5h0M2211.5 1163.4h0M2211.8 1163.3h0M2212.0 1159.6h0M2212.3 1161.7h0M2212.6 1161.9h0M2212.9 1162.9h0M2213.2 1164.6h0M2213.5 1160.3h0M2213.8 1155.0h0M2214.1 1160.8h0M2214.4 1161.2h0M2214.7 1161.4h0M2215.0 1165.9h0M2215.3 1158.2h0M2215.6 1164.4h0M2215.9 1169.1h0M2216.2 1157.6h0M2216.5 1161.5h0M2216.7 1162.1h0M2217.0 1164.9h0M2217.3 1164.5h0M2217.6 1160.0h0M2217.9 1173.1h0M2218.2 1161.3h0M2218.5 1163.1h0M2218.8 1164.4h0M2219.1 1163.5h0M2219.4 1162.4h0M2219.7 1160.1h0M2220.0 1160.9h0M2220.3 1161.5h0M2220.6 1167.6h0M2220.9 1156.5h0M2221.2 1160.4h0M2221.4 1160.7h0M2221.7 1159.0h0M2222.0 1165.7h0M2222.3 1161.2h0M2222.6 1159.9h0M2222.9 1159.9h0M2223.2 1165.8h0M2223.5 1164.2h0M2223.8 1160.1h0"/>
<path stroke="#FFD966" d="M314 1359.4h0"/>
</g>
<g stroke="#FF0000" stroke-width="5.9" stroke-dasharray="5.7 5.17" fill="none">
<path d="M1260.1 989.5V1364.1"/>
<path d="M1283.7 968.1V1364.4"/>
<path d="M1437.9 962.2V1358.9"/>
<path d="M1465.2 1066.0V1364.7"/>
<path d="M2017.3 1086.6V1363.5"/>
<path d="M2064.3 1109.6V1364.7"/>
</g>
<g fill="#C00000">
<path d="M1258.9 942.6l16.1 16.1l-16.1 16.1l-16.1 -16.1z"/>
<path d="M1433.3 909.0l16.1 16.1l-16.1 16.1l-16.1 -16.1z"/>
<path d="M2015.4 1033.1l16.1 16.1l-16.1 16.1l-16.1 -16.1z"/>
<ellipse cx="1287.1" cy="933.6" rx="15.8" ry="16.4"/>
<ellipse cx="1464.1" cy="1040.2" rx="15.8" ry="16.4"/>
<ellipse cx="2063.5" cy="1078.5" rx="15.8" ry="16.4"/>
</g>
<rect x="1743.2" y="111.9" width="395.9" height="289.8" fill="#fff" stroke="#404040" stroke-width="3"/>
<path d="M1760.5 157h51" stroke="#548235" stroke-width="8.6" fill="none"/>
<path d="M1758.5 222.3h52" stroke="#FFD966" stroke-width="8.6" fill="none"/>
<g fill="#C00000"><path d="M1783.2 262.2l17.0 17.0l-17.0 17.0l-17.0 -17.0z"/><circle cx="1784.6" cy="347.6" r="17"/></g>
<g class="lg">
<text x="1837" y="178">SiO<tspan font-size="36.5" dy="11.5">2</tspan></text>
<text x="1837" y="239.8" letter-spacing="0.3">Ni/SiO<tspan font-size="36.5" dy="11.5">2</tspan><tspan dy="-11.5">(RH)</tspan></text>
<text x="1837" y="299.6">NiO</text>
<text x="1837" y="362.6">Al</text>
</g>
</svg>
</body></html>
